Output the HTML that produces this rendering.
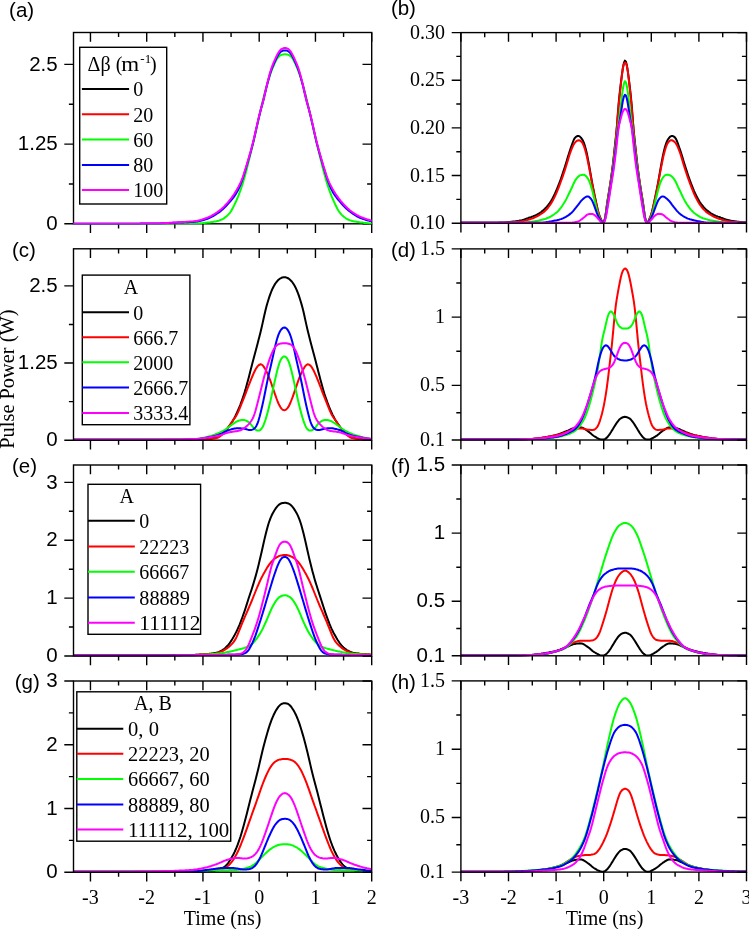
<!DOCTYPE html>
<html><head><meta charset="utf-8"><style>
html,body{margin:0;padding:0;background:#fff;width:749px;height:929px;overflow:hidden}
svg{display:block;will-change:transform}
</style></head><body>
<svg width="749" height="929" viewBox="0 0 749 929">
<rect width="749" height="929" fill="#fff"/>
<clipPath id="cpb"><rect x="460.90" y="31.60" width="285.60" height="192.20"/></clipPath>
<g clip-path="url(#cpb)" fill="none" stroke-width="2.0" stroke-linejoin="round">
<path d="M459.9 222.8 460.9 222.8 461.9 222.8 462.9 222.8 463.9 222.8 464.9 222.8 465.9 222.8 466.9 222.8 467.9 222.8 468.9 222.8 469.9 222.8 470.9 222.8 471.9 222.8 472.9 222.8 473.9 222.8 474.9 222.8 475.9 222.8 476.9 222.8 477.9 222.8 478.9 222.8 479.9 222.8 480.9 222.8 481.9 222.8 482.9 222.8 483.9 222.8 484.9 222.8 485.9 222.8 486.9 222.8 487.9 222.8 488.9 222.8 489.9 222.8 490.9 222.8 491.9 222.8 492.9 222.8 493.9 222.8 494.9 222.7 495.9 222.7 496.9 222.7 497.9 222.7 498.9 222.6 499.9 222.6 500.9 222.6 501.9 222.5 502.9 222.5 503.9 222.4 504.9 222.4 505.9 222.3 506.9 222.2 507.9 222.1 508.9 222.0 509.9 221.9 510.9 221.8 511.9 221.7 512.9 221.6 513.9 221.5 514.9 221.4 515.9 221.2 516.9 221.1 517.9 220.9 518.9 220.8 519.9 220.6 520.9 220.4 521.9 220.2 522.9 219.9 523.9 219.6 524.9 219.3 525.9 218.9 526.9 218.5 527.9 218.2 528.9 217.8 529.9 217.4 530.9 217.1 531.9 216.7 532.9 216.4 533.9 216.0 534.9 215.6 535.9 215.2 536.9 214.7 537.9 214.1 538.9 213.5 539.9 212.9 540.9 212.2 541.9 211.4 542.9 210.6 543.9 209.7 544.9 208.8 545.9 207.8 546.9 206.7 547.9 205.5 548.9 204.2 549.9 202.9 550.9 201.3 551.9 199.6 552.9 197.7 553.9 195.7 554.9 193.7 555.9 191.5 556.9 189.2 557.9 186.7 558.9 184.2 559.9 181.5 560.9 178.8 561.9 175.9 562.9 172.9 563.9 169.8 564.9 166.7 565.9 163.5 566.9 160.3 567.9 156.9 568.9 153.7 569.9 150.5 570.9 147.6 571.9 144.8 572.9 142.0 573.9 139.5 574.9 137.9 575.9 136.9 576.9 136.3 577.9 135.9 578.9 136.0 579.9 136.6 580.9 137.6 581.9 138.9 582.9 140.6 583.9 142.9 584.9 145.9 585.9 149.5 586.9 153.8 587.9 158.9 588.9 164.3 589.9 169.9 590.9 175.7 591.9 181.4 592.9 186.7 593.9 191.8 594.9 196.6 595.9 201.3 596.9 206.0 597.9 210.4 598.9 214.1 599.9 217.0 600.9 219.3 601.9 221.4 602.9 222.7 603.9 222.0 604.9 218.8 605.9 212.5 606.9 204.9 607.9 198.3 608.9 192.2 609.9 186.0 610.9 179.3 611.9 172.2 612.9 164.3 613.9 155.5 614.9 146.2 615.9 137.0 616.9 126.3 617.9 112.5 618.9 100.5 619.9 91.2 620.9 82.7 621.9 74.8 622.9 67.8 623.9 62.9 624.9 60.6 625.9 61.6 626.9 65.5 627.9 71.9 628.9 79.5 629.9 87.7 630.9 96.6 631.9 107.3 632.9 121.0 633.9 133.1 634.9 142.5 635.9 151.7 636.9 160.9 637.9 169.2 638.9 176.6 639.9 183.4 640.9 189.8 641.9 195.9 642.9 202.1 643.9 209.4 644.9 216.6 645.9 221.0 646.9 222.7 647.9 222.1 648.9 220.2 649.9 218.0 650.9 215.4 651.9 212.0 652.9 207.8 653.9 203.2 654.9 198.4 655.9 193.7 656.9 188.8 657.9 183.6 658.9 178.0 659.9 172.2 660.9 166.5 661.9 161.0 662.9 155.8 663.9 151.2 664.9 147.3 665.9 144.0 666.9 141.4 667.9 139.5 668.9 138.1 669.9 136.9 670.9 136.2 671.9 135.9 672.9 136.1 673.9 136.6 674.9 137.4 675.9 138.8 676.9 140.9 677.9 143.6 678.9 146.5 679.9 149.3 680.9 152.4 681.9 155.6 682.9 158.9 683.9 162.2 684.9 165.4 685.9 168.5 686.9 171.6 687.9 174.7 688.9 177.6 689.9 180.4 690.9 183.1 691.9 185.7 692.9 188.2 693.9 190.6 694.9 192.8 695.9 194.9 696.9 196.9 697.9 198.8 698.9 200.6 699.9 202.3 700.9 203.7 701.9 205.0 702.9 206.2 703.9 207.4 704.9 208.4 705.9 209.4 706.9 210.3 707.9 211.1 708.9 211.9 709.9 212.6 710.9 213.3 711.9 213.9 712.9 214.5 713.9 215.0 714.9 215.4 715.9 215.9 716.9 216.2 717.9 216.6 718.9 216.9 719.9 217.3 720.9 217.7 721.9 218.0 722.9 218.4 723.9 218.8 724.9 219.1 725.9 219.5 726.9 219.8 727.9 220.1 728.9 220.3 729.9 220.5 730.9 220.7 731.9 220.9 732.9 221.0 733.9 221.2 734.9 221.3 735.9 221.4 736.9 221.6 737.9 221.7 738.9 221.8 739.9 221.9 740.9 222.0 741.9 222.1 742.9 222.2 743.9 222.3 744.9 222.3 745.9 222.4 746.9 222.5" stroke="#000000"/>
<path d="M459.9 222.8 460.9 222.8 461.9 222.8 462.9 222.8 463.9 222.8 464.9 222.8 465.9 222.8 466.9 222.8 467.9 222.8 468.9 222.8 469.9 222.8 470.9 222.8 471.9 222.8 472.9 222.8 473.9 222.8 474.9 222.8 475.9 222.8 476.9 222.8 477.9 222.8 478.9 222.8 479.9 222.8 480.9 222.8 481.9 222.8 482.9 222.8 483.9 222.8 484.9 222.8 485.9 222.8 486.9 222.8 487.9 222.8 488.9 222.8 489.9 222.8 490.9 222.8 491.9 222.8 492.9 222.8 493.9 222.8 494.9 222.8 495.9 222.8 496.9 222.8 497.9 222.8 498.9 222.8 499.9 222.8 500.9 222.8 501.9 222.8 502.9 222.7 503.9 222.7 504.9 222.6 505.9 222.6 506.9 222.6 507.9 222.5 508.9 222.4 509.9 222.4 510.9 222.3 511.9 222.2 512.9 222.2 513.9 222.1 514.9 222.0 515.9 221.9 516.9 221.8 517.9 221.7 518.9 221.6 519.9 221.5 520.9 221.4 521.9 221.2 522.9 221.1 523.9 220.9 524.9 220.6 525.9 220.4 526.9 220.1 527.9 219.8 528.9 219.5 529.9 219.2 530.9 218.9 531.9 218.6 532.9 218.2 533.9 217.8 534.9 217.3 535.9 216.9 536.9 216.4 537.9 215.8 538.9 215.3 539.9 214.7 540.9 214.0 541.9 213.4 542.9 212.7 543.9 211.9 544.9 211.0 545.9 210.0 546.9 209.0 547.9 207.8 548.9 206.5 549.9 205.2 550.9 203.7 551.9 202.0 552.9 200.3 553.9 198.4 554.9 196.4 555.9 194.2 556.9 191.9 557.9 189.4 558.9 186.8 559.9 184.2 560.9 181.5 561.9 178.7 562.9 175.9 563.9 172.9 564.9 169.9 565.9 166.8 566.9 163.5 567.9 160.1 568.9 156.7 569.9 153.6 570.9 150.8 571.9 148.4 572.9 146.0 573.9 144.1 574.9 142.6 575.9 141.6 576.9 140.9 577.9 140.4 578.9 140.2 579.9 140.4 580.9 141.2 581.9 142.3 582.9 143.8 583.9 146.0 584.9 149.1 585.9 152.7 586.9 156.8 587.9 161.5 588.9 166.6 589.9 171.8 590.9 177.2 591.9 182.6 592.9 187.8 593.9 192.9 594.9 197.7 595.9 202.3 596.9 206.7 597.9 210.7 598.9 214.2 599.9 217.0 600.9 219.3 601.9 221.4 602.9 222.7 603.9 222.0 604.9 218.9 605.9 212.7 606.9 205.3 607.9 198.8 608.9 192.8 609.9 186.5 610.9 179.8 611.9 172.7 612.9 164.8 613.9 156.0 614.9 146.6 615.9 137.1 616.9 126.7 617.9 114.6 618.9 103.2 619.9 93.4 620.9 84.0 621.9 75.2 622.9 68.0 623.9 64.0 624.9 62.6 625.9 63.2 626.9 66.0 627.9 72.0 628.9 80.4 629.9 89.7 630.9 99.2 631.9 109.8 632.9 122.0 633.9 133.1 634.9 142.8 635.9 152.2 636.9 161.4 637.9 169.7 638.9 177.1 639.9 183.9 640.9 190.3 641.9 196.4 642.9 202.6 643.9 209.7 644.9 216.8 645.9 221.0 646.9 222.7 647.9 222.1 648.9 220.2 649.9 218.0 650.9 215.4 651.9 212.2 652.9 208.3 653.9 204.0 654.9 199.5 655.9 194.8 656.9 189.9 657.9 184.7 658.9 179.4 659.9 173.9 660.9 168.6 661.9 163.5 662.9 158.6 663.9 154.3 664.9 150.5 665.9 147.2 666.9 144.6 667.9 142.8 668.9 141.6 669.9 140.7 670.9 140.2 671.9 140.3 672.9 140.7 673.9 141.3 674.9 142.2 675.9 143.4 676.9 145.2 677.9 147.4 678.9 149.8 679.9 152.5 680.9 155.4 681.9 158.7 682.9 162.1 683.9 165.5 684.9 168.7 685.9 171.7 686.9 174.7 687.9 177.6 688.9 180.4 689.9 183.2 690.9 185.8 691.9 188.4 692.9 190.9 693.9 193.3 694.9 195.5 695.9 197.6 696.9 199.5 697.9 201.4 698.9 203.1 699.9 204.6 700.9 206.0 701.9 207.3 702.9 208.5 703.9 209.6 704.9 210.6 705.9 211.6 706.9 212.4 707.9 213.1 708.9 213.8 709.9 214.4 710.9 215.0 711.9 215.6 712.9 216.1 713.9 216.7 714.9 217.1 715.9 217.6 716.9 218.0 717.9 218.4 718.9 218.8 719.9 219.1 720.9 219.4 721.9 219.7 722.9 220.0 723.9 220.3 724.9 220.5 725.9 220.8 726.9 221.0 727.9 221.2 728.9 221.3 729.9 221.5 730.9 221.6 731.9 221.7 732.9 221.8 733.9 221.9 734.9 222.0 735.9 222.0 736.9 222.1 737.9 222.2 738.9 222.3 739.9 222.4 740.9 222.4 741.9 222.5 742.9 222.5 743.9 222.6 744.9 222.6 745.9 222.7 746.9 222.7" stroke="#ff0000"/>
<path d="M459.9 222.8 460.9 222.8 461.9 222.8 462.9 222.8 463.9 222.8 464.9 222.8 465.9 222.8 466.9 222.8 467.9 222.8 468.9 222.8 469.9 222.8 470.9 222.8 471.9 222.8 472.9 222.8 473.9 222.8 474.9 222.8 475.9 222.8 476.9 222.8 477.9 222.8 478.9 222.8 479.9 222.8 480.9 222.8 481.9 222.8 482.9 222.8 483.9 222.8 484.9 222.8 485.9 222.8 486.9 222.8 487.9 222.8 488.9 222.8 489.9 222.8 490.9 222.8 491.9 222.8 492.9 222.8 493.9 222.8 494.9 222.8 495.9 222.8 496.9 222.8 497.9 222.8 498.9 222.8 499.9 222.8 500.9 222.8 501.9 222.8 502.9 222.8 503.9 222.8 504.9 222.8 505.9 222.8 506.9 222.8 507.9 222.8 508.9 222.8 509.9 222.8 510.9 222.8 511.9 222.8 512.9 222.8 513.9 222.8 514.9 222.8 515.9 222.8 516.9 222.8 517.9 222.8 518.9 222.8 519.9 222.8 520.9 222.8 521.9 222.7 522.9 222.7 523.9 222.6 524.9 222.5 525.9 222.4 526.9 222.3 527.9 222.2 528.9 222.0 529.9 221.9 530.9 221.8 531.9 221.7 532.9 221.5 533.9 221.4 534.9 221.2 535.9 221.0 536.9 220.9 537.9 220.7 538.9 220.5 539.9 220.2 540.9 220.0 541.9 219.8 542.9 219.5 543.9 219.2 544.9 219.0 545.9 218.7 546.9 218.3 547.9 217.9 548.9 217.5 549.9 217.0 550.9 216.4 551.9 215.8 552.9 215.2 553.9 214.5 554.9 213.8 555.9 213.0 556.9 212.2 557.9 211.3 558.9 210.2 559.9 209.0 560.9 207.7 561.9 206.3 562.9 204.8 563.9 203.3 564.9 201.6 565.9 199.9 566.9 197.9 567.9 195.9 568.9 193.8 569.9 191.7 570.9 189.6 571.9 187.5 572.9 185.2 573.9 183.0 574.9 181.0 575.9 179.4 576.9 178.1 577.9 177.0 578.9 176.1 579.9 175.4 580.9 175.1 581.9 174.9 582.9 174.8 583.9 174.8 584.9 175.2 585.9 176.0 586.9 177.2 587.9 178.6 588.9 180.4 589.9 182.9 590.9 185.9 591.9 189.2 592.9 193.1 593.9 197.3 594.9 201.6 595.9 205.9 596.9 210.0 597.9 213.5 598.9 216.3 599.9 218.8 600.9 220.8 601.9 222.2 602.9 222.8 603.9 222.1 604.9 219.5 605.9 214.5 606.9 207.9 607.9 201.4 608.9 195.3 609.9 189.1 610.9 182.6 611.9 175.9 612.9 168.8 613.9 161.0 614.9 152.5 615.9 143.8 616.9 134.9 617.9 126.8 618.9 119.8 619.9 113.0 620.9 104.8 621.9 96.0 622.9 88.7 623.9 83.7 624.9 81.2 625.9 82.3 626.9 86.4 627.9 92.8 628.9 101.2 629.9 109.9 630.9 117.2 631.9 123.9 632.9 131.5 633.9 140.2 634.9 149.1 635.9 157.7 636.9 165.7 637.9 173.1 638.9 180.0 639.9 186.5 640.9 192.9 641.9 199.0 642.9 205.2 643.9 211.9 644.9 217.8 645.9 221.3 646.9 222.8 647.9 222.6 648.9 221.4 649.9 219.7 650.9 217.4 651.9 214.7 652.9 211.5 653.9 207.6 654.9 203.3 655.9 199.0 656.9 194.8 657.9 190.7 658.9 187.2 659.9 184.0 660.9 181.3 661.9 179.2 662.9 177.7 663.9 176.4 664.9 175.4 665.9 174.9 666.9 174.7 667.9 174.8 668.9 175.0 669.9 175.2 670.9 175.8 671.9 176.6 672.9 177.7 673.9 178.9 674.9 180.3 675.9 182.2 676.9 184.3 677.9 186.6 678.9 188.7 679.9 190.8 680.9 192.9 681.9 195.0 682.9 197.1 683.9 199.1 684.9 201.0 685.9 202.6 686.9 204.2 687.9 205.7 688.9 207.1 689.9 208.5 690.9 209.7 691.9 210.8 692.9 211.8 693.9 212.7 694.9 213.5 695.9 214.2 696.9 214.9 697.9 215.6 698.9 216.2 699.9 216.8 700.9 217.3 701.9 217.8 702.9 218.2 703.9 218.5 704.9 218.8 705.9 219.1 706.9 219.4 707.9 219.7 708.9 219.9 709.9 220.2 710.9 220.4 711.9 220.6 712.9 220.8 713.9 221.0 714.9 221.1 715.9 221.3 716.9 221.5 717.9 221.6 718.9 221.7 719.9 221.9 720.9 222.0 721.9 222.1 722.9 222.2 723.9 222.3 724.9 222.4 725.9 222.5 726.9 222.6 727.9 222.7 728.9 222.8 729.9 222.8 730.9 222.8 731.9 222.8 732.9 222.8 733.9 222.8 734.9 222.8 735.9 222.8 736.9 222.8 737.9 222.8 738.9 222.8 739.9 222.8 740.9 222.8 741.9 222.8 742.9 222.8 743.9 222.8 744.9 222.8 745.9 222.8 746.9 222.8" stroke="#00ff00"/>
<path d="M459.9 222.8 460.9 222.8 461.9 222.8 462.9 222.8 463.9 222.8 464.9 222.8 465.9 222.8 466.9 222.8 467.9 222.8 468.9 222.8 469.9 222.8 470.9 222.8 471.9 222.8 472.9 222.8 473.9 222.8 474.9 222.8 475.9 222.8 476.9 222.8 477.9 222.8 478.9 222.8 479.9 222.8 480.9 222.8 481.9 222.8 482.9 222.8 483.9 222.8 484.9 222.8 485.9 222.8 486.9 222.8 487.9 222.8 488.9 222.8 489.9 222.8 490.9 222.8 491.9 222.8 492.9 222.8 493.9 222.8 494.9 222.8 495.9 222.8 496.9 222.8 497.9 222.8 498.9 222.8 499.9 222.8 500.9 222.8 501.9 222.8 502.9 222.8 503.9 222.8 504.9 222.8 505.9 222.8 506.9 222.8 507.9 222.8 508.9 222.8 509.9 222.8 510.9 222.8 511.9 222.8 512.9 222.8 513.9 222.8 514.9 222.8 515.9 222.8 516.9 222.8 517.9 222.8 518.9 222.8 519.9 222.8 520.9 222.8 521.9 222.8 522.9 222.8 523.9 222.8 524.9 222.8 525.9 222.8 526.9 222.8 527.9 222.8 528.9 222.8 529.9 222.8 530.9 222.8 531.9 222.8 532.9 222.8 533.9 222.8 534.9 222.8 535.9 222.8 536.9 222.8 537.9 222.8 538.9 222.8 539.9 222.8 540.9 222.8 541.9 222.8 542.9 222.7 543.9 222.6 544.9 222.5 545.9 222.3 546.9 222.1 547.9 222.0 548.9 221.8 549.9 221.6 550.9 221.4 551.9 221.2 552.9 221.0 553.9 220.8 554.9 220.6 555.9 220.4 556.9 220.2 557.9 219.9 558.9 219.7 559.9 219.4 560.9 219.1 561.9 218.7 562.9 218.4 563.9 217.9 564.9 217.4 565.9 216.9 566.9 216.2 567.9 215.6 568.9 214.9 569.9 214.1 570.9 213.3 571.9 212.4 572.9 211.3 573.9 210.1 574.9 208.8 575.9 207.6 576.9 206.3 577.9 205.1 578.9 203.8 579.9 202.5 580.9 201.2 581.9 200.1 582.9 199.1 583.9 198.3 584.9 197.5 585.9 196.9 586.9 196.5 587.9 196.4 588.9 196.8 589.9 197.7 590.9 198.7 591.9 200.2 592.9 202.4 593.9 204.9 594.9 207.6 595.9 210.4 596.9 213.1 597.9 215.5 598.9 217.6 599.9 219.4 600.9 221.0 601.9 222.2 602.9 222.8 603.9 222.2 604.9 219.9 605.9 215.7 606.9 209.6 607.9 203.3 608.9 197.2 609.9 191.0 610.9 184.7 611.9 178.2 612.9 171.5 613.9 164.2 614.9 156.0 615.9 147.3 616.9 138.2 617.9 130.3 618.9 124.7 619.9 119.7 620.9 113.6 621.9 106.6 622.9 100.6 623.9 96.6 624.9 94.7 625.9 95.6 626.9 98.7 627.9 104.0 628.9 110.8 629.9 117.4 630.9 122.8 631.9 127.8 632.9 134.8 633.9 143.7 634.9 152.6 635.9 161.0 636.9 168.7 637.9 175.6 638.9 182.1 639.9 188.5 640.9 194.7 641.9 200.9 642.9 207.1 643.9 213.4 644.9 218.5 645.9 221.5 646.9 222.8 647.9 222.6 648.9 221.5 649.9 220.1 650.9 218.4 651.9 216.4 652.9 214.2 653.9 211.5 654.9 208.7 655.9 206.0 656.9 203.4 657.9 201.0 658.9 199.3 659.9 198.1 660.9 197.1 661.9 196.5 662.9 196.4 663.9 196.7 664.9 197.2 665.9 198.0 666.9 198.8 667.9 199.7 668.9 200.7 669.9 201.9 670.9 203.2 671.9 204.6 672.9 205.8 673.9 207.1 674.9 208.3 675.9 209.6 676.9 210.8 677.9 211.9 678.9 212.9 679.9 213.8 680.9 214.6 681.9 215.3 682.9 216.0 683.9 216.6 684.9 217.2 685.9 217.7 686.9 218.2 687.9 218.6 688.9 218.9 689.9 219.3 690.9 219.6 691.9 219.8 692.9 220.1 693.9 220.3 694.9 220.6 695.9 220.8 696.9 221.0 697.9 221.2 698.9 221.3 699.9 221.5 700.9 221.7 701.9 221.9 702.9 222.1 703.9 222.3 704.9 222.4 705.9 222.6 706.9 222.7 707.9 222.8 708.9 222.8 709.9 222.8 710.9 222.8 711.9 222.8 712.9 222.8 713.9 222.8 714.9 222.8 715.9 222.8 716.9 222.8 717.9 222.8 718.9 222.8 719.9 222.8 720.9 222.8 721.9 222.8 722.9 222.8 723.9 222.8 724.9 222.8 725.9 222.8 726.9 222.8 727.9 222.8 728.9 222.8 729.9 222.8 730.9 222.8 731.9 222.8 732.9 222.8 733.9 222.8 734.9 222.8 735.9 222.8 736.9 222.8 737.9 222.8 738.9 222.8 739.9 222.8 740.9 222.8 741.9 222.8 742.9 222.8 743.9 222.8 744.9 222.8 745.9 222.8 746.9 222.8" stroke="#0000ff"/>
<path d="M459.9 222.8 460.9 222.8 461.9 222.8 462.9 222.8 463.9 222.8 464.9 222.8 465.9 222.8 466.9 222.8 467.9 222.8 468.9 222.8 469.9 222.8 470.9 222.8 471.9 222.8 472.9 222.8 473.9 222.8 474.9 222.8 475.9 222.8 476.9 222.8 477.9 222.8 478.9 222.8 479.9 222.8 480.9 222.8 481.9 222.8 482.9 222.8 483.9 222.8 484.9 222.8 485.9 222.8 486.9 222.8 487.9 222.8 488.9 222.8 489.9 222.8 490.9 222.8 491.9 222.8 492.9 222.8 493.9 222.8 494.9 222.8 495.9 222.8 496.9 222.8 497.9 222.8 498.9 222.8 499.9 222.8 500.9 222.8 501.9 222.8 502.9 222.8 503.9 222.8 504.9 222.8 505.9 222.8 506.9 222.8 507.9 222.8 508.9 222.8 509.9 222.8 510.9 222.8 511.9 222.8 512.9 222.8 513.9 222.8 514.9 222.8 515.9 222.8 516.9 222.8 517.9 222.8 518.9 222.8 519.9 222.8 520.9 222.8 521.9 222.8 522.9 222.8 523.9 222.8 524.9 222.8 525.9 222.8 526.9 222.8 527.9 222.8 528.9 222.8 529.9 222.8 530.9 222.8 531.9 222.8 532.9 222.8 533.9 222.8 534.9 222.8 535.9 222.8 536.9 222.8 537.9 222.8 538.9 222.8 539.9 222.8 540.9 222.8 541.9 222.8 542.9 222.8 543.9 222.8 544.9 222.8 545.9 222.8 546.9 222.8 547.9 222.8 548.9 222.8 549.9 222.8 550.9 222.8 551.9 222.8 552.9 222.8 553.9 222.8 554.9 222.8 555.9 222.8 556.9 222.8 557.9 222.8 558.9 222.8 559.9 222.8 560.9 222.8 561.9 222.8 562.9 222.8 563.9 222.8 564.9 222.8 565.9 222.8 566.9 222.8 567.9 222.8 568.9 222.8 569.9 222.8 570.9 222.8 571.9 222.8 572.9 222.6 573.9 222.4 574.9 222.2 575.9 222.0 576.9 221.8 577.9 221.5 578.9 221.1 579.9 220.5 580.9 219.8 581.9 219.1 582.9 218.3 583.9 217.5 584.9 216.7 585.9 215.7 586.9 214.9 587.9 214.4 588.9 214.1 589.9 214.0 590.9 213.9 591.9 213.9 592.9 214.1 593.9 214.6 594.9 215.4 595.9 216.2 596.9 217.3 597.9 218.5 598.9 219.7 599.9 220.8 600.9 221.8 601.9 222.6 602.9 222.8 603.9 222.4 604.9 220.5 605.9 217.1 606.9 211.8 607.9 205.7 608.9 199.5 609.9 193.1 610.9 186.6 611.9 180.5 612.9 174.4 613.9 167.8 614.9 160.2 615.9 151.7 616.9 142.5 617.9 133.1 618.9 125.8 619.9 121.5 620.9 118.0 621.9 114.2 622.9 111.4 623.9 109.7 624.9 108.9 625.9 109.2 626.9 110.6 627.9 112.9 628.9 116.5 629.9 120.2 630.9 123.8 631.9 129.7 632.9 138.7 633.9 148.1 634.9 156.9 635.9 164.9 636.9 171.8 637.9 178.0 638.9 184.1 639.9 190.5 640.9 197.0 641.9 203.3 642.9 209.4 643.9 215.1 644.9 219.3 645.9 221.7 646.9 222.8 647.9 222.8 648.9 222.2 649.9 221.2 650.9 220.1 651.9 219.0 652.9 217.8 653.9 216.6 654.9 215.7 655.9 214.9 656.9 214.3 657.9 213.9 658.9 213.8 659.9 213.9 660.9 214.1 661.9 214.3 662.9 214.7 663.9 215.4 664.9 216.3 665.9 217.2 666.9 218.0 667.9 218.8 668.9 219.5 669.9 220.3 670.9 220.9 671.9 221.3 672.9 221.6 673.9 221.9 674.9 222.2 675.9 222.4 676.9 222.6 677.9 222.8 678.9 222.8 679.9 222.8 680.9 222.8 681.9 222.8 682.9 222.8 683.9 222.8 684.9 222.8 685.9 222.8 686.9 222.8 687.9 222.8 688.9 222.8 689.9 222.8 690.9 222.8 691.9 222.8 692.9 222.8 693.9 222.8 694.9 222.8 695.9 222.8 696.9 222.8 697.9 222.8 698.9 222.8 699.9 222.8 700.9 222.8 701.9 222.8 702.9 222.8 703.9 222.8 704.9 222.8 705.9 222.8 706.9 222.8 707.9 222.8 708.9 222.8 709.9 222.8 710.9 222.8 711.9 222.8 712.9 222.8 713.9 222.8 714.9 222.8 715.9 222.8 716.9 222.8 717.9 222.8 718.9 222.8 719.9 222.8 720.9 222.8 721.9 222.8 722.9 222.8 723.9 222.8 724.9 222.8 725.9 222.8 726.9 222.8 727.9 222.8 728.9 222.8 729.9 222.8 730.9 222.8 731.9 222.8 732.9 222.8 733.9 222.8 734.9 222.8 735.9 222.8 736.9 222.8 737.9 222.8 738.9 222.8 739.9 222.8 740.9 222.8 741.9 222.8 742.9 222.8 743.9 222.8 744.9 222.8 745.9 222.8 746.9 222.8" stroke="#ff00ff"/>
</g>
<clipPath id="cpc"><rect x="73.50" y="247.80" width="298.20" height="193.00"/></clipPath>
<g clip-path="url(#cpc)" fill="none" stroke-width="2.0" stroke-linejoin="round">
<path d="M72.5 439.8 73.5 439.8 74.5 439.8 75.5 439.8 76.5 439.8 77.5 439.8 78.5 439.8 79.5 439.8 80.5 439.8 81.5 439.8 82.5 439.8 83.5 439.8 84.5 439.8 85.5 439.8 86.5 439.8 87.5 439.8 88.5 439.8 89.5 439.8 90.5 439.8 91.5 439.8 92.5 439.8 93.5 439.8 94.5 439.8 95.5 439.8 96.5 439.8 97.5 439.8 98.5 439.8 99.5 439.8 100.5 439.8 101.5 439.8 102.5 439.8 103.5 439.8 104.5 439.8 105.5 439.8 106.5 439.8 107.5 439.8 108.5 439.8 109.5 439.8 110.5 439.8 111.5 439.8 112.5 439.8 113.5 439.8 114.5 439.8 115.5 439.8 116.5 439.8 117.5 439.8 118.5 439.8 119.5 439.8 120.5 439.8 121.5 439.8 122.5 439.8 123.5 439.8 124.5 439.8 125.5 439.8 126.5 439.8 127.5 439.8 128.5 439.8 129.5 439.8 130.5 439.8 131.5 439.8 132.5 439.8 133.5 439.8 134.5 439.8 135.5 439.8 136.5 439.8 137.5 439.8 138.5 439.8 139.5 439.8 140.5 439.8 141.5 439.8 142.5 439.8 143.5 439.8 144.5 439.8 145.5 439.8 146.5 439.8 147.5 439.8 148.5 439.8 149.5 439.8 150.5 439.8 151.5 439.8 152.5 439.8 153.5 439.8 154.5 439.8 155.5 439.8 156.5 439.8 157.5 439.8 158.5 439.8 159.5 439.8 160.5 439.8 161.5 439.8 162.5 439.8 163.5 439.8 164.5 439.8 165.5 439.8 166.5 439.8 167.5 439.8 168.5 439.8 169.5 439.8 170.5 439.8 171.5 439.8 172.5 439.8 173.5 439.8 174.5 439.8 175.5 439.8 176.5 439.8 177.5 439.8 178.5 439.8 179.5 439.8 180.5 439.8 181.5 439.8 182.5 439.8 183.5 439.8 184.5 439.8 185.5 439.8 186.5 439.8 187.5 439.8 188.5 439.8 189.5 439.8 190.5 439.8 191.5 439.8 192.5 439.8 193.5 439.7 194.5 439.7 195.5 439.7 196.5 439.7 197.5 439.6 198.5 439.6 199.5 439.5 200.5 439.5 201.5 439.4 202.5 439.4 203.5 439.3 204.5 439.2 205.5 439.2 206.5 439.1 207.5 439.0 208.5 438.9 209.5 438.8 210.5 438.7 211.5 438.6 212.5 438.4 213.5 438.1 214.5 437.9 215.5 437.6 216.5 437.2 217.5 436.9 218.5 436.4 219.5 435.9 220.5 435.3 221.5 434.6 222.5 433.8 223.5 432.8 224.5 431.8 225.5 430.7 226.5 429.5 227.5 428.3 228.5 427.0 229.5 425.7 230.5 424.3 231.5 422.8 232.5 421.2 233.5 419.5 234.5 417.7 235.5 415.8 236.5 413.7 237.5 411.5 238.5 409.2 239.5 406.8 240.5 404.3 241.5 401.6 242.5 398.8 243.5 395.8 244.5 392.7 245.5 389.4 246.5 385.8 247.5 382.1 248.5 378.4 249.5 374.5 250.5 370.6 251.5 366.7 252.5 362.8 253.5 359.0 254.5 355.2 255.5 351.4 256.5 347.7 257.5 343.9 258.5 340.1 259.5 336.2 260.5 332.2 261.5 328.0 262.5 323.6 263.5 319.0 264.5 314.5 265.5 310.2 266.5 306.2 267.5 302.7 268.5 299.5 269.5 296.4 270.5 293.6 271.5 291.0 272.5 288.7 273.5 286.7 274.5 284.9 275.5 283.3 276.5 282.0 277.5 280.8 278.5 279.8 279.5 279.0 280.5 278.3 281.5 277.8 282.5 277.4 283.5 277.2 284.5 277.2 285.5 277.3 286.5 277.6 287.5 278.0 288.5 278.5 289.5 279.3 290.5 280.2 291.5 281.2 292.5 282.5 293.5 283.9 294.5 285.6 295.5 287.4 296.5 289.6 297.5 292.0 298.5 294.7 299.5 297.6 300.5 300.7 301.5 304.1 302.5 307.8 303.5 311.8 304.5 316.3 305.5 320.9 306.5 325.4 307.5 329.7 308.5 333.8 309.5 337.8 310.5 341.7 311.5 345.5 312.5 349.2 313.5 352.9 314.5 356.7 315.5 360.5 316.5 364.4 317.5 368.3 318.5 372.2 319.5 376.1 320.5 379.9 321.5 383.6 322.5 387.3 323.5 390.7 324.5 394.0 325.5 397.0 326.5 399.9 327.5 402.7 328.5 405.3 329.5 407.8 330.5 410.2 331.5 412.4 332.5 414.6 333.5 416.5 334.5 418.4 335.5 420.2 336.5 421.8 337.5 423.4 338.5 424.8 339.5 426.2 340.5 427.5 341.5 428.8 342.5 430.0 343.5 431.1 344.5 432.2 345.5 433.2 346.5 434.1 347.5 434.9 348.5 435.6 349.5 436.1 350.5 436.6 351.5 437.0 352.5 437.4 353.5 437.7 354.5 438.0 355.5 438.2 356.5 438.5 357.5 438.6 358.5 438.8 359.5 438.9 360.5 439.0 361.5 439.0 362.5 439.1 363.5 439.2 364.5 439.3 365.5 439.3 366.5 439.4 367.5 439.5 368.5 439.5 369.5 439.6 370.5 439.6 371.5 439.6 372.5 439.7" stroke="#000000"/>
<path d="M72.5 439.8 73.5 439.8 74.5 439.8 75.5 439.8 76.5 439.8 77.5 439.8 78.5 439.8 79.5 439.8 80.5 439.8 81.5 439.8 82.5 439.8 83.5 439.8 84.5 439.8 85.5 439.8 86.5 439.8 87.5 439.8 88.5 439.8 89.5 439.8 90.5 439.8 91.5 439.8 92.5 439.8 93.5 439.8 94.5 439.8 95.5 439.8 96.5 439.8 97.5 439.8 98.5 439.8 99.5 439.8 100.5 439.8 101.5 439.8 102.5 439.8 103.5 439.8 104.5 439.8 105.5 439.8 106.5 439.8 107.5 439.8 108.5 439.8 109.5 439.8 110.5 439.8 111.5 439.8 112.5 439.8 113.5 439.8 114.5 439.8 115.5 439.8 116.5 439.8 117.5 439.8 118.5 439.8 119.5 439.8 120.5 439.8 121.5 439.8 122.5 439.8 123.5 439.8 124.5 439.8 125.5 439.8 126.5 439.8 127.5 439.8 128.5 439.8 129.5 439.8 130.5 439.8 131.5 439.8 132.5 439.8 133.5 439.8 134.5 439.8 135.5 439.8 136.5 439.8 137.5 439.8 138.5 439.8 139.5 439.8 140.5 439.8 141.5 439.8 142.5 439.8 143.5 439.8 144.5 439.8 145.5 439.8 146.5 439.8 147.5 439.8 148.5 439.8 149.5 439.8 150.5 439.8 151.5 439.8 152.5 439.8 153.5 439.8 154.5 439.8 155.5 439.8 156.5 439.8 157.5 439.8 158.5 439.8 159.5 439.8 160.5 439.8 161.5 439.8 162.5 439.8 163.5 439.8 164.5 439.8 165.5 439.8 166.5 439.8 167.5 439.8 168.5 439.8 169.5 439.8 170.5 439.8 171.5 439.8 172.5 439.8 173.5 439.8 174.5 439.8 175.5 439.8 176.5 439.8 177.5 439.8 178.5 439.8 179.5 439.8 180.5 439.8 181.5 439.8 182.5 439.8 183.5 439.8 184.5 439.8 185.5 439.8 186.5 439.8 187.5 439.8 188.5 439.8 189.5 439.8 190.5 439.8 191.5 439.8 192.5 439.8 193.5 439.7 194.5 439.7 195.5 439.7 196.5 439.7 197.5 439.6 198.5 439.6 199.5 439.6 200.5 439.5 201.5 439.5 202.5 439.4 203.5 439.4 204.5 439.3 205.5 439.2 206.5 439.2 207.5 439.1 208.5 439.0 209.5 438.9 210.5 438.8 211.5 438.7 212.5 438.6 213.5 438.5 214.5 438.4 215.5 438.2 216.5 438.0 217.5 437.7 218.5 437.3 219.5 436.7 220.5 436.0 221.5 435.2 222.5 434.2 223.5 433.1 224.5 432.0 225.5 430.8 226.5 429.5 227.5 428.3 228.5 426.9 229.5 425.6 230.5 424.1 231.5 422.6 232.5 421.1 233.5 419.7 234.5 418.4 235.5 416.9 236.5 415.3 237.5 413.4 238.5 411.2 239.5 408.8 240.5 406.3 241.5 403.9 242.5 401.4 243.5 398.9 244.5 396.4 245.5 393.8 246.5 391.2 247.5 388.5 248.5 385.9 249.5 383.3 250.5 380.8 251.5 378.3 252.5 376.0 253.5 373.7 254.5 371.5 255.5 369.5 256.5 367.8 257.5 366.4 258.5 365.4 259.5 364.6 260.5 364.3 261.5 364.5 262.5 365.2 263.5 366.4 264.5 367.9 265.5 369.6 266.5 371.5 267.5 373.6 268.5 375.9 269.5 378.5 270.5 381.2 271.5 384.0 272.5 387.0 273.5 389.9 274.5 392.9 275.5 395.7 276.5 398.5 277.5 401.1 278.5 403.5 279.5 405.6 280.5 407.3 281.5 408.6 282.5 409.6 283.5 410.1 284.5 410.2 285.5 409.9 286.5 409.2 287.5 408.1 288.5 406.7 289.5 404.8 290.5 402.5 291.5 400.0 292.5 397.4 293.5 394.6 294.5 391.7 295.5 388.7 296.5 385.8 297.5 382.9 298.5 380.1 299.5 377.4 300.5 375.0 301.5 372.8 302.5 370.7 303.5 368.9 304.5 367.2 305.5 365.9 306.5 364.8 307.5 364.3 308.5 364.4 309.5 364.9 310.5 365.7 311.5 366.9 312.5 368.5 313.5 370.3 314.5 372.4 315.5 374.6 316.5 376.9 317.5 379.3 318.5 381.8 319.5 384.3 320.5 387.0 321.5 389.6 322.5 392.3 323.5 394.9 324.5 397.4 325.5 399.9 326.5 402.4 327.5 404.8 328.5 407.3 329.5 409.8 330.5 412.1 331.5 414.2 332.5 416.0 333.5 417.5 334.5 418.9 335.5 420.3 336.5 421.7 337.5 423.2 338.5 424.7 339.5 426.1 340.5 427.5 341.5 428.8 342.5 430.0 343.5 431.2 344.5 432.4 345.5 433.5 346.5 434.6 347.5 435.5 348.5 436.3 349.5 437.0 350.5 437.5 351.5 437.9 352.5 438.1 353.5 438.3 354.5 438.4 355.5 438.5 356.5 438.6 357.5 438.7 358.5 438.8 359.5 438.9 360.5 439.0 361.5 439.1 362.5 439.2 363.5 439.3 364.5 439.3 365.5 439.4 366.5 439.4 367.5 439.5 368.5 439.5 369.5 439.6 370.5 439.6 371.5 439.7 372.5 439.7" stroke="#ff0000"/>
<path d="M72.5 439.8 73.5 439.8 74.5 439.8 75.5 439.8 76.5 439.8 77.5 439.8 78.5 439.8 79.5 439.8 80.5 439.8 81.5 439.8 82.5 439.8 83.5 439.8 84.5 439.8 85.5 439.8 86.5 439.8 87.5 439.8 88.5 439.8 89.5 439.8 90.5 439.8 91.5 439.8 92.5 439.8 93.5 439.8 94.5 439.8 95.5 439.8 96.5 439.8 97.5 439.8 98.5 439.8 99.5 439.8 100.5 439.8 101.5 439.8 102.5 439.8 103.5 439.8 104.5 439.8 105.5 439.8 106.5 439.8 107.5 439.8 108.5 439.8 109.5 439.8 110.5 439.8 111.5 439.8 112.5 439.8 113.5 439.8 114.5 439.8 115.5 439.8 116.5 439.8 117.5 439.8 118.5 439.8 119.5 439.8 120.5 439.8 121.5 439.8 122.5 439.8 123.5 439.8 124.5 439.8 125.5 439.8 126.5 439.8 127.5 439.8 128.5 439.8 129.5 439.8 130.5 439.8 131.5 439.8 132.5 439.8 133.5 439.8 134.5 439.8 135.5 439.8 136.5 439.8 137.5 439.8 138.5 439.8 139.5 439.8 140.5 439.8 141.5 439.8 142.5 439.8 143.5 439.8 144.5 439.8 145.5 439.8 146.5 439.8 147.5 439.8 148.5 439.8 149.5 439.8 150.5 439.8 151.5 439.8 152.5 439.8 153.5 439.8 154.5 439.8 155.5 439.8 156.5 439.8 157.5 439.8 158.5 439.8 159.5 439.8 160.5 439.8 161.5 439.8 162.5 439.8 163.5 439.8 164.5 439.8 165.5 439.8 166.5 439.8 167.5 439.8 168.5 439.8 169.5 439.8 170.5 439.8 171.5 439.8 172.5 439.8 173.5 439.8 174.5 439.8 175.5 439.8 176.5 439.8 177.5 439.8 178.5 439.8 179.5 439.8 180.5 439.8 181.5 439.8 182.5 439.8 183.5 439.8 184.5 439.8 185.5 439.8 186.5 439.8 187.5 439.8 188.5 439.8 189.5 439.8 190.5 439.8 191.5 439.7 192.5 439.7 193.5 439.6 194.5 439.5 195.5 439.4 196.5 439.2 197.5 439.0 198.5 438.9 199.5 438.7 200.5 438.5 201.5 438.2 202.5 438.0 203.5 437.8 204.5 437.5 205.5 437.3 206.5 437.0 207.5 436.7 208.5 436.5 209.5 436.2 210.5 436.0 211.5 435.7 212.5 435.4 213.5 435.0 214.5 434.7 215.5 434.3 216.5 433.9 217.5 433.5 218.5 433.1 219.5 432.7 220.5 432.2 221.5 431.7 222.5 431.2 223.5 430.7 224.5 430.1 225.5 429.5 226.5 428.8 227.5 428.0 228.5 427.2 229.5 426.5 230.5 425.7 231.5 425.0 232.5 424.3 233.5 423.6 234.5 422.9 235.5 422.2 236.5 421.6 237.5 421.2 238.5 420.8 239.5 420.4 240.5 420.2 241.5 420.0 242.5 419.9 243.5 419.9 244.5 420.1 245.5 420.4 246.5 420.8 247.5 421.4 248.5 422.1 249.5 423.0 250.5 424.0 251.5 425.2 252.5 426.5 253.5 427.7 254.5 428.8 255.5 429.6 256.5 430.2 257.5 430.5 258.5 430.6 259.5 430.4 260.5 429.8 261.5 428.8 262.5 427.3 263.5 425.2 264.5 422.7 265.5 419.7 266.5 416.4 267.5 412.9 268.5 409.1 269.5 405.0 270.5 400.6 271.5 396.1 272.5 391.5 273.5 386.8 274.5 382.3 275.5 377.9 276.5 373.6 277.5 369.5 278.5 365.9 279.5 362.7 280.5 360.3 281.5 358.5 282.5 357.3 283.5 356.6 284.5 356.5 285.5 356.8 286.5 357.7 287.5 359.1 288.5 361.2 289.5 363.9 290.5 367.3 291.5 371.1 292.5 375.3 293.5 379.6 294.5 384.1 295.5 388.7 296.5 393.3 297.5 398.0 298.5 402.4 299.5 406.6 300.5 410.6 301.5 414.3 302.5 417.8 303.5 420.9 304.5 423.7 305.5 426.1 306.5 428.0 307.5 429.3 308.5 430.1 309.5 430.6 310.5 430.6 311.5 430.4 312.5 430.0 313.5 429.3 314.5 428.4 315.5 427.3 316.5 426.0 317.5 424.7 318.5 423.5 319.5 422.6 320.5 421.8 321.5 421.2 322.5 420.7 323.5 420.2 324.5 420.0 325.5 419.9 326.5 419.9 327.5 420.0 328.5 420.3 329.5 420.5 330.5 420.9 331.5 421.3 332.5 421.9 333.5 422.5 334.5 423.1 335.5 423.8 336.5 424.5 337.5 425.3 338.5 426.0 339.5 426.8 340.5 427.6 341.5 428.3 342.5 429.0 343.5 429.7 344.5 430.3 345.5 430.9 346.5 431.4 347.5 431.9 348.5 432.4 349.5 432.9 350.5 433.3 351.5 433.7 352.5 434.1 353.5 434.5 354.5 434.8 355.5 435.2 356.5 435.5 357.5 435.8 358.5 436.1 359.5 436.3 360.5 436.6 361.5 436.9 362.5 437.1 363.5 437.4 364.5 437.6 365.5 437.9 366.5 438.1 367.5 438.3 368.5 438.5 369.5 438.7 370.5 438.9 371.5 439.1 372.5 439.3" stroke="#00ff00"/>
<path d="M72.5 439.8 73.5 439.8 74.5 439.8 75.5 439.8 76.5 439.8 77.5 439.8 78.5 439.8 79.5 439.8 80.5 439.8 81.5 439.8 82.5 439.8 83.5 439.8 84.5 439.8 85.5 439.8 86.5 439.8 87.5 439.8 88.5 439.8 89.5 439.8 90.5 439.8 91.5 439.8 92.5 439.8 93.5 439.8 94.5 439.8 95.5 439.8 96.5 439.8 97.5 439.8 98.5 439.8 99.5 439.8 100.5 439.8 101.5 439.8 102.5 439.8 103.5 439.8 104.5 439.8 105.5 439.8 106.5 439.8 107.5 439.8 108.5 439.8 109.5 439.8 110.5 439.8 111.5 439.8 112.5 439.8 113.5 439.8 114.5 439.8 115.5 439.8 116.5 439.8 117.5 439.8 118.5 439.8 119.5 439.8 120.5 439.8 121.5 439.8 122.5 439.8 123.5 439.8 124.5 439.8 125.5 439.8 126.5 439.8 127.5 439.8 128.5 439.8 129.5 439.8 130.5 439.8 131.5 439.8 132.5 439.8 133.5 439.8 134.5 439.8 135.5 439.8 136.5 439.8 137.5 439.8 138.5 439.8 139.5 439.8 140.5 439.8 141.5 439.8 142.5 439.8 143.5 439.8 144.5 439.8 145.5 439.8 146.5 439.8 147.5 439.8 148.5 439.8 149.5 439.8 150.5 439.8 151.5 439.8 152.5 439.8 153.5 439.8 154.5 439.8 155.5 439.8 156.5 439.8 157.5 439.8 158.5 439.8 159.5 439.8 160.5 439.8 161.5 439.8 162.5 439.8 163.5 439.8 164.5 439.8 165.5 439.8 166.5 439.8 167.5 439.8 168.5 439.8 169.5 439.8 170.5 439.8 171.5 439.8 172.5 439.8 173.5 439.8 174.5 439.8 175.5 439.8 176.5 439.8 177.5 439.7 178.5 439.7 179.5 439.7 180.5 439.7 181.5 439.7 182.5 439.7 183.5 439.7 184.5 439.7 185.5 439.7 186.5 439.6 187.5 439.6 188.5 439.6 189.5 439.6 190.5 439.6 191.5 439.6 192.5 439.5 193.5 439.5 194.5 439.4 195.5 439.3 196.5 439.2 197.5 439.1 198.5 439.0 199.5 438.9 200.5 438.7 201.5 438.6 202.5 438.4 203.5 438.3 204.5 438.1 205.5 437.9 206.5 437.7 207.5 437.5 208.5 437.3 209.5 437.1 210.5 436.9 211.5 436.7 212.5 436.5 213.5 436.2 214.5 436.0 215.5 435.8 216.5 435.5 217.5 435.2 218.5 434.9 219.5 434.5 220.5 434.0 221.5 433.6 222.5 433.1 223.5 432.6 224.5 432.0 225.5 431.5 226.5 431.1 227.5 430.6 228.5 430.2 229.5 429.9 230.5 429.6 231.5 429.3 232.5 429.0 233.5 428.8 234.5 428.6 235.5 428.4 236.5 428.3 237.5 428.2 238.5 428.2 239.5 428.2 240.5 428.3 241.5 428.4 242.5 428.5 243.5 428.6 244.5 428.8 245.5 429.1 246.5 429.3 247.5 429.6 248.5 429.9 249.5 430.0 250.5 430.1 251.5 429.9 252.5 429.6 253.5 429.1 254.5 428.4 255.5 427.3 256.5 425.7 257.5 423.5 258.5 420.6 259.5 417.1 260.5 413.2 261.5 409.1 262.5 404.7 263.5 400.1 264.5 395.2 265.5 390.3 266.5 385.3 267.5 380.4 268.5 375.8 269.5 371.4 270.5 367.2 271.5 362.8 272.5 358.4 273.5 353.9 274.5 349.4 275.5 345.1 276.5 341.1 277.5 337.6 278.5 334.7 279.5 332.3 280.5 330.5 281.5 329.2 282.5 328.2 283.5 327.7 284.5 327.5 285.5 327.8 286.5 328.5 287.5 329.6 288.5 331.2 289.5 333.2 290.5 335.8 291.5 338.9 292.5 342.6 293.5 346.7 294.5 351.1 295.5 355.7 296.5 360.2 297.5 364.6 298.5 368.9 299.5 373.2 300.5 377.6 301.5 382.3 302.5 387.2 303.5 392.3 304.5 397.2 305.5 402.0 306.5 406.5 307.5 410.8 308.5 414.8 309.5 418.6 310.5 421.8 311.5 424.5 312.5 426.4 313.5 427.8 314.5 428.7 315.5 429.3 316.5 429.8 317.5 430.0 318.5 430.1 319.5 430.0 320.5 429.8 321.5 429.5 322.5 429.2 323.5 429.0 324.5 428.7 325.5 428.6 326.5 428.4 327.5 428.3 328.5 428.2 329.5 428.2 330.5 428.2 331.5 428.2 332.5 428.3 333.5 428.5 334.5 428.7 335.5 428.9 336.5 429.1 337.5 429.4 338.5 429.7 339.5 430.0 340.5 430.4 341.5 430.8 342.5 431.3 343.5 431.7 344.5 432.3 345.5 432.8 346.5 433.3 347.5 433.8 348.5 434.2 349.5 434.6 350.5 435.0 351.5 435.3 352.5 435.6 353.5 435.9 354.5 436.1 355.5 436.3 356.5 436.6 357.5 436.8 358.5 437.0 359.5 437.2 360.5 437.4 361.5 437.6 362.5 437.8 363.5 438.0 364.5 438.2 365.5 438.3 366.5 438.5 367.5 438.7 368.5 438.8 369.5 438.9 370.5 439.0 371.5 439.2 372.5 439.3" stroke="#0000ff"/>
<path d="M72.5 439.8 73.5 439.8 74.5 439.8 75.5 439.8 76.5 439.8 77.5 439.8 78.5 439.8 79.5 439.8 80.5 439.8 81.5 439.8 82.5 439.8 83.5 439.8 84.5 439.8 85.5 439.8 86.5 439.8 87.5 439.8 88.5 439.8 89.5 439.8 90.5 439.8 91.5 439.8 92.5 439.8 93.5 439.8 94.5 439.8 95.5 439.8 96.5 439.8 97.5 439.8 98.5 439.8 99.5 439.8 100.5 439.8 101.5 439.8 102.5 439.8 103.5 439.8 104.5 439.8 105.5 439.8 106.5 439.8 107.5 439.8 108.5 439.8 109.5 439.8 110.5 439.8 111.5 439.8 112.5 439.8 113.5 439.8 114.5 439.8 115.5 439.8 116.5 439.8 117.5 439.8 118.5 439.8 119.5 439.8 120.5 439.8 121.5 439.8 122.5 439.8 123.5 439.8 124.5 439.8 125.5 439.8 126.5 439.8 127.5 439.8 128.5 439.8 129.5 439.8 130.5 439.8 131.5 439.8 132.5 439.8 133.5 439.8 134.5 439.8 135.5 439.8 136.5 439.8 137.5 439.8 138.5 439.8 139.5 439.8 140.5 439.8 141.5 439.8 142.5 439.8 143.5 439.8 144.5 439.8 145.5 439.8 146.5 439.8 147.5 439.8 148.5 439.8 149.5 439.8 150.5 439.8 151.5 439.8 152.5 439.8 153.5 439.8 154.5 439.8 155.5 439.7 156.5 439.7 157.5 439.7 158.5 439.7 159.5 439.7 160.5 439.7 161.5 439.7 162.5 439.7 163.5 439.6 164.5 439.6 165.5 439.6 166.5 439.6 167.5 439.6 168.5 439.6 169.5 439.6 170.5 439.5 171.5 439.5 172.5 439.5 173.5 439.5 174.5 439.5 175.5 439.5 176.5 439.4 177.5 439.4 178.5 439.4 179.5 439.4 180.5 439.4 181.5 439.4 182.5 439.3 183.5 439.3 184.5 439.3 185.5 439.3 186.5 439.3 187.5 439.2 188.5 439.2 189.5 439.2 190.5 439.2 191.5 439.1 192.5 439.1 193.5 439.1 194.5 439.0 195.5 438.9 196.5 438.9 197.5 438.8 198.5 438.7 199.5 438.6 200.5 438.5 201.5 438.4 202.5 438.3 203.5 438.1 204.5 438.0 205.5 437.9 206.5 437.7 207.5 437.6 208.5 437.5 209.5 437.3 210.5 437.1 211.5 437.0 212.5 436.8 213.5 436.6 214.5 436.5 215.5 436.3 216.5 436.1 217.5 435.9 218.5 435.7 219.5 435.4 220.5 435.1 221.5 434.8 222.5 434.4 223.5 434.1 224.5 433.7 225.5 433.4 226.5 433.1 227.5 432.8 228.5 432.5 229.5 432.3 230.5 432.0 231.5 431.9 232.5 431.7 233.5 431.6 234.5 431.4 235.5 431.3 236.5 431.2 237.5 431.0 238.5 430.8 239.5 430.5 240.5 430.2 241.5 429.8 242.5 429.2 243.5 428.6 244.5 427.9 245.5 427.2 246.5 426.3 247.5 425.4 248.5 424.4 249.5 423.3 250.5 422.0 251.5 420.5 252.5 418.8 253.5 416.7 254.5 414.0 255.5 410.8 256.5 407.1 257.5 403.2 258.5 399.2 259.5 395.2 260.5 391.2 261.5 387.2 262.5 383.2 263.5 379.3 264.5 375.6 265.5 372.0 266.5 368.7 267.5 365.4 268.5 362.4 269.5 359.4 270.5 356.7 271.5 354.1 272.5 351.8 273.5 349.8 274.5 348.0 275.5 346.6 276.5 345.5 277.5 344.7 278.5 344.2 279.5 343.9 280.5 343.6 281.5 343.4 282.5 343.3 283.5 343.2 284.5 343.2 285.5 343.2 286.5 343.3 287.5 343.5 288.5 343.7 289.5 344.0 290.5 344.4 291.5 345.0 292.5 345.9 293.5 347.1 294.5 348.7 295.5 350.5 296.5 352.7 297.5 355.1 298.5 357.8 299.5 360.6 300.5 363.6 301.5 366.7 302.5 370.0 303.5 373.4 304.5 377.0 305.5 380.8 306.5 384.7 307.5 388.8 308.5 392.8 309.5 396.8 310.5 400.8 311.5 404.8 312.5 408.6 313.5 412.2 314.5 415.2 315.5 417.6 316.5 419.5 317.5 421.1 318.5 422.5 319.5 423.7 320.5 424.8 321.5 425.8 322.5 426.7 323.5 427.5 324.5 428.2 325.5 428.9 326.5 429.5 327.5 430.0 328.5 430.4 329.5 430.7 330.5 430.9 331.5 431.1 332.5 431.2 333.5 431.4 334.5 431.5 335.5 431.6 336.5 431.8 337.5 431.9 338.5 432.1 339.5 432.3 340.5 432.6 341.5 432.9 342.5 433.2 343.5 433.5 344.5 433.9 345.5 434.2 346.5 434.6 347.5 434.9 348.5 435.2 349.5 435.5 350.5 435.8 351.5 436.0 352.5 436.2 353.5 436.4 354.5 436.5 355.5 436.7 356.5 436.9 357.5 437.0 358.5 437.2 359.5 437.4 360.5 437.5 361.5 437.7 362.5 437.8 363.5 437.9 364.5 438.1 365.5 438.2 366.5 438.3 367.5 438.4 368.5 438.5 369.5 438.6 370.5 438.7 371.5 438.8 372.5 438.9" stroke="#ff00ff"/>
</g>
<clipPath id="cpd"><rect x="460.90" y="247.90" width="285.60" height="192.70"/></clipPath>
<g clip-path="url(#cpd)" fill="none" stroke-width="2.0" stroke-linejoin="round">
<path d="M459.9 439.6 460.9 439.6 461.9 439.6 462.9 439.6 463.9 439.6 464.9 439.6 465.9 439.6 466.9 439.6 467.9 439.6 468.9 439.6 469.9 439.6 470.9 439.6 471.9 439.6 472.9 439.6 473.9 439.6 474.9 439.6 475.9 439.6 476.9 439.6 477.9 439.6 478.9 439.6 479.9 439.6 480.9 439.6 481.9 439.6 482.9 439.6 483.9 439.6 484.9 439.6 485.9 439.6 486.9 439.6 487.9 439.6 488.9 439.6 489.9 439.6 490.9 439.6 491.9 439.6 492.9 439.6 493.9 439.6 494.9 439.6 495.9 439.6 496.9 439.6 497.9 439.6 498.9 439.6 499.9 439.6 500.9 439.6 501.9 439.6 502.9 439.6 503.9 439.6 504.9 439.6 505.9 439.6 506.9 439.6 507.9 439.6 508.9 439.6 509.9 439.6 510.9 439.6 511.9 439.6 512.9 439.6 513.9 439.6 514.9 439.6 515.9 439.6 516.9 439.5 517.9 439.5 518.9 439.5 519.9 439.5 520.9 439.4 521.9 439.4 522.9 439.4 523.9 439.3 524.9 439.3 525.9 439.3 526.9 439.2 527.9 439.2 528.9 439.1 529.9 439.1 530.9 439.1 531.9 439.0 532.9 438.9 533.9 438.8 534.9 438.7 535.9 438.6 536.9 438.5 537.9 438.3 538.9 438.2 539.9 438.0 540.9 437.9 541.9 437.7 542.9 437.6 543.9 437.4 544.9 437.3 545.9 437.1 546.9 436.9 547.9 436.8 548.9 436.6 549.9 436.4 550.9 436.2 551.9 436.0 552.9 435.7 553.9 435.5 554.9 435.3 555.9 435.0 556.9 434.7 557.9 434.5 558.9 434.1 559.9 433.8 560.9 433.4 561.9 433.0 562.9 432.6 563.9 432.2 564.9 431.8 565.9 431.4 566.9 431.0 567.9 430.6 568.9 430.1 569.9 429.7 570.9 429.2 571.9 428.8 572.9 428.4 573.9 428.1 574.9 428.0 575.9 427.8 576.9 427.7 577.9 427.6 578.9 427.5 579.9 427.4 580.9 427.4 581.9 427.6 582.9 428.0 583.9 428.5 584.9 429.1 585.9 429.8 586.9 430.5 587.9 431.1 588.9 431.9 589.9 432.7 590.9 433.6 591.9 434.5 592.9 435.3 593.9 436.0 594.9 436.6 595.9 437.2 596.9 437.8 597.9 438.3 598.9 438.8 599.9 439.3 600.9 439.6 601.9 439.6 602.9 439.6 603.9 439.6 604.9 439.1 605.9 438.4 606.9 437.6 607.9 436.5 608.9 435.2 609.9 433.8 610.9 432.3 611.9 430.6 612.9 429.0 613.9 427.3 614.9 425.7 615.9 424.1 616.9 422.7 617.9 421.3 618.9 420.0 619.9 419.0 620.9 418.3 621.9 417.7 622.9 417.3 623.9 417.0 624.9 416.8 625.9 416.9 626.9 417.2 627.9 417.6 628.9 418.1 629.9 418.7 630.9 419.6 631.9 420.8 632.9 422.1 633.9 423.5 634.9 425.1 635.9 426.7 636.9 428.3 637.9 430.0 638.9 431.6 639.9 433.2 640.9 434.7 641.9 436.0 642.9 437.2 643.9 438.1 644.9 438.8 645.9 439.4 646.9 439.6 647.9 439.6 648.9 439.6 649.9 439.4 650.9 439.0 651.9 438.5 652.9 438.0 653.9 437.4 654.9 436.8 655.9 436.2 656.9 435.6 657.9 434.8 658.9 434.0 659.9 433.1 660.9 432.2 661.9 431.4 662.9 430.7 663.9 430.1 664.9 429.4 665.9 428.7 666.9 428.2 667.9 427.7 668.9 427.5 669.9 427.4 670.9 427.4 671.9 427.5 672.9 427.6 673.9 427.8 674.9 427.9 675.9 428.1 676.9 428.3 677.9 428.6 678.9 429.0 679.9 429.5 680.9 430.0 681.9 430.4 682.9 430.8 683.9 431.2 684.9 431.6 685.9 432.1 686.9 432.5 687.9 432.9 688.9 433.3 689.9 433.6 690.9 434.0 691.9 434.3 692.9 434.6 693.9 434.9 694.9 435.2 695.9 435.4 696.9 435.6 697.9 435.9 698.9 436.1 699.9 436.3 700.9 436.5 701.9 436.7 702.9 436.9 703.9 437.0 704.9 437.2 705.9 437.4 706.9 437.5 707.9 437.7 708.9 437.8 709.9 438.0 710.9 438.1 711.9 438.3 712.9 438.4 713.9 438.5 714.9 438.7 715.9 438.8 716.9 438.9 717.9 439.0 718.9 439.0 719.9 439.1 720.9 439.1 721.9 439.2 722.9 439.2 723.9 439.2 724.9 439.3 725.9 439.3 726.9 439.4 727.9 439.4 728.9 439.4 729.9 439.5 730.9 439.5 731.9 439.5 732.9 439.5 733.9 439.6 734.9 439.6 735.9 439.6 736.9 439.6 737.9 439.6 738.9 439.6 739.9 439.6 740.9 439.6 741.9 439.6 742.9 439.6 743.9 439.6 744.9 439.6 745.9 439.6 746.9 439.6" stroke="#000000"/>
<path d="M459.9 439.6 460.9 439.6 461.9 439.6 462.9 439.6 463.9 439.6 464.9 439.6 465.9 439.6 466.9 439.6 467.9 439.6 468.9 439.6 469.9 439.6 470.9 439.6 471.9 439.6 472.9 439.6 473.9 439.6 474.9 439.6 475.9 439.6 476.9 439.6 477.9 439.6 478.9 439.6 479.9 439.6 480.9 439.6 481.9 439.6 482.9 439.6 483.9 439.6 484.9 439.6 485.9 439.6 486.9 439.6 487.9 439.6 488.9 439.6 489.9 439.6 490.9 439.6 491.9 439.6 492.9 439.6 493.9 439.6 494.9 439.6 495.9 439.6 496.9 439.6 497.9 439.6 498.9 439.6 499.9 439.6 500.9 439.6 501.9 439.6 502.9 439.6 503.9 439.6 504.9 439.6 505.9 439.6 506.9 439.6 507.9 439.6 508.9 439.6 509.9 439.6 510.9 439.6 511.9 439.6 512.9 439.6 513.9 439.6 514.9 439.6 515.9 439.6 516.9 439.6 517.9 439.5 518.9 439.5 519.9 439.5 520.9 439.4 521.9 439.4 522.9 439.3 523.9 439.3 524.9 439.2 525.9 439.2 526.9 439.2 527.9 439.1 528.9 439.1 529.9 439.0 530.9 438.9 531.9 438.9 532.9 438.8 533.9 438.7 534.9 438.6 535.9 438.5 536.9 438.4 537.9 438.3 538.9 438.2 539.9 438.1 540.9 437.9 541.9 437.8 542.9 437.6 543.9 437.5 544.9 437.3 545.9 437.2 546.9 437.0 547.9 436.8 548.9 436.6 549.9 436.5 550.9 436.3 551.9 436.1 552.9 435.9 553.9 435.7 554.9 435.5 555.9 435.3 556.9 435.1 557.9 434.8 558.9 434.6 559.9 434.3 560.9 434.0 561.9 433.6 562.9 433.3 563.9 432.9 564.9 432.6 565.9 432.2 566.9 431.9 567.9 431.5 568.9 431.2 569.9 430.9 570.9 430.5 571.9 430.2 572.9 429.9 573.9 429.5 574.9 429.2 575.9 429.0 576.9 428.8 577.9 428.7 578.9 428.6 579.9 428.5 580.9 428.4 581.9 428.4 582.9 428.6 583.9 428.8 584.9 429.1 585.9 429.3 586.9 429.6 587.9 429.7 588.9 429.8 589.9 429.8 590.9 429.9 591.9 429.9 592.9 429.9 593.9 429.8 594.9 429.3 595.9 428.4 596.9 427.3 597.9 425.9 598.9 423.7 599.9 420.8 600.9 417.5 601.9 413.9 602.9 409.8 603.9 405.2 604.9 399.9 605.9 393.9 606.9 387.0 607.9 379.3 608.9 370.9 609.9 362.2 610.9 353.7 611.9 344.6 612.9 334.2 613.9 323.4 614.9 313.3 615.9 304.7 616.9 298.2 617.9 292.4 618.9 286.9 619.9 281.7 620.9 277.0 621.9 273.3 622.9 270.7 623.9 269.2 624.9 268.5 625.9 268.8 626.9 270.0 627.9 272.1 628.9 275.4 629.9 279.7 630.9 284.8 631.9 290.2 632.9 295.8 633.9 301.9 634.9 309.6 635.9 319.3 636.9 329.8 637.9 340.6 638.9 350.2 639.9 358.8 640.9 367.4 641.9 376.0 642.9 384.0 643.9 391.2 644.9 397.6 645.9 403.2 646.9 408.0 647.9 412.3 648.9 416.1 649.9 419.5 650.9 422.6 651.9 425.2 652.9 426.8 653.9 428.0 654.9 429.0 655.9 429.6 656.9 429.9 657.9 429.9 658.9 429.9 659.9 429.8 660.9 429.8 661.9 429.7 662.9 429.6 663.9 429.4 664.9 429.2 665.9 428.9 666.9 428.6 667.9 428.5 668.9 428.4 669.9 428.4 670.9 428.5 671.9 428.6 672.9 428.8 673.9 428.9 674.9 429.1 675.9 429.4 676.9 429.7 677.9 430.1 678.9 430.4 679.9 430.7 680.9 431.1 681.9 431.4 682.9 431.7 683.9 432.1 684.9 432.4 685.9 432.8 686.9 433.1 687.9 433.5 688.9 433.8 689.9 434.1 690.9 434.4 691.9 434.7 692.9 435.0 693.9 435.2 694.9 435.4 695.9 435.6 696.9 435.8 697.9 436.0 698.9 436.2 699.9 436.4 700.9 436.6 701.9 436.7 702.9 436.9 703.9 437.1 704.9 437.3 705.9 437.4 706.9 437.6 707.9 437.7 708.9 437.9 709.9 438.0 710.9 438.2 711.9 438.3 712.9 438.4 713.9 438.5 714.9 438.6 715.9 438.7 716.9 438.8 717.9 438.9 718.9 438.9 719.9 439.0 720.9 439.0 721.9 439.1 722.9 439.1 723.9 439.2 724.9 439.2 725.9 439.3 726.9 439.3 727.9 439.4 728.9 439.4 729.9 439.4 730.9 439.5 731.9 439.5 732.9 439.5 733.9 439.6 734.9 439.6 735.9 439.6 736.9 439.6 737.9 439.6 738.9 439.6 739.9 439.6 740.9 439.6 741.9 439.6 742.9 439.6 743.9 439.6 744.9 439.6 745.9 439.6 746.9 439.6" stroke="#ff0000"/>
<path d="M459.9 439.6 460.9 439.6 461.9 439.6 462.9 439.6 463.9 439.6 464.9 439.6 465.9 439.6 466.9 439.6 467.9 439.6 468.9 439.6 469.9 439.6 470.9 439.6 471.9 439.6 472.9 439.6 473.9 439.6 474.9 439.6 475.9 439.6 476.9 439.6 477.9 439.6 478.9 439.6 479.9 439.6 480.9 439.6 481.9 439.6 482.9 439.6 483.9 439.6 484.9 439.6 485.9 439.6 486.9 439.6 487.9 439.6 488.9 439.6 489.9 439.6 490.9 439.6 491.9 439.6 492.9 439.6 493.9 439.6 494.9 439.6 495.9 439.6 496.9 439.6 497.9 439.6 498.9 439.6 499.9 439.6 500.9 439.6 501.9 439.6 502.9 439.6 503.9 439.6 504.9 439.6 505.9 439.6 506.9 439.6 507.9 439.6 508.9 439.6 509.9 439.6 510.9 439.6 511.9 439.6 512.9 439.6 513.9 439.6 514.9 439.6 515.9 439.6 516.9 439.6 517.9 439.6 518.9 439.6 519.9 439.6 520.9 439.6 521.9 439.6 522.9 439.5 523.9 439.5 524.9 439.5 525.9 439.5 526.9 439.5 527.9 439.4 528.9 439.4 529.9 439.4 530.9 439.4 531.9 439.3 532.9 439.3 533.9 439.3 534.9 439.2 535.9 439.2 536.9 439.1 537.9 439.1 538.9 439.0 539.9 438.9 540.9 438.9 541.9 438.8 542.9 438.7 543.9 438.6 544.9 438.5 545.9 438.4 546.9 438.3 547.9 438.2 548.9 438.1 549.9 438.0 550.9 437.9 551.9 437.8 552.9 437.7 553.9 437.6 554.9 437.4 555.9 437.3 556.9 437.2 557.9 437.0 558.9 436.8 559.9 436.6 560.9 436.4 561.9 436.2 562.9 435.9 563.9 435.6 564.9 435.3 565.9 435.0 566.9 434.7 567.9 434.3 568.9 434.0 569.9 433.6 570.9 433.2 571.9 432.7 572.9 432.2 573.9 431.6 574.9 430.9 575.9 430.1 576.9 429.2 577.9 428.1 578.9 427.0 579.9 425.7 580.9 424.3 581.9 422.8 582.9 421.2 583.9 419.4 584.9 417.3 585.9 414.9 586.9 412.2 587.9 409.3 588.9 406.3 589.9 403.0 590.9 399.4 591.9 395.6 592.9 391.6 593.9 387.5 594.9 383.3 595.9 378.8 596.9 373.8 597.9 368.2 598.9 362.2 599.9 355.7 600.9 348.5 601.9 341.7 602.9 336.5 603.9 332.4 604.9 328.4 605.9 324.0 606.9 319.7 607.9 316.0 608.9 313.5 609.9 312.0 610.9 311.5 611.9 312.0 612.9 313.2 613.9 315.0 614.9 317.3 615.9 319.9 616.9 322.4 617.9 324.4 618.9 325.8 619.9 326.9 620.9 327.7 621.9 328.2 622.9 328.4 623.9 328.5 624.9 328.5 625.9 328.5 626.9 328.4 627.9 328.3 628.9 328.0 629.9 327.3 630.9 326.3 631.9 325.0 632.9 323.3 633.9 321.0 634.9 318.3 635.9 315.9 636.9 313.8 637.9 312.4 638.9 311.6 639.9 311.6 640.9 312.8 641.9 314.8 642.9 318.1 643.9 322.2 644.9 326.7 645.9 330.8 646.9 334.7 647.9 339.5 648.9 345.6 649.9 352.9 650.9 359.7 651.9 365.9 652.9 371.6 653.9 376.8 654.9 381.5 655.9 385.9 656.9 390.0 657.9 394.0 658.9 397.9 659.9 401.6 660.9 405.0 661.9 408.1 662.9 411.1 663.9 413.9 664.9 416.4 665.9 418.6 666.9 420.5 667.9 422.2 668.9 423.7 669.9 425.1 670.9 426.5 671.9 427.7 672.9 428.7 673.9 429.7 674.9 430.6 675.9 431.3 676.9 431.9 677.9 432.5 678.9 433.0 679.9 433.4 680.9 433.8 681.9 434.2 682.9 434.5 683.9 434.9 684.9 435.2 685.9 435.5 686.9 435.8 687.9 436.1 688.9 436.3 689.9 436.6 690.9 436.8 691.9 436.9 692.9 437.1 693.9 437.3 694.9 437.4 695.9 437.5 696.9 437.6 697.9 437.8 698.9 437.9 699.9 438.0 700.9 438.1 701.9 438.2 702.9 438.3 703.9 438.4 704.9 438.5 705.9 438.6 706.9 438.7 707.9 438.8 708.9 438.8 709.9 438.9 710.9 439.0 711.9 439.0 712.9 439.1 713.9 439.2 714.9 439.2 715.9 439.3 716.9 439.3 717.9 439.3 718.9 439.4 719.9 439.4 720.9 439.4 721.9 439.4 722.9 439.5 723.9 439.5 724.9 439.5 725.9 439.5 726.9 439.5 727.9 439.6 728.9 439.6 729.9 439.6 730.9 439.6 731.9 439.6 732.9 439.6 733.9 439.6 734.9 439.6 735.9 439.6 736.9 439.6 737.9 439.6 738.9 439.6 739.9 439.6 740.9 439.6 741.9 439.6 742.9 439.6 743.9 439.6 744.9 439.6 745.9 439.6 746.9 439.6" stroke="#00ff00"/>
<path d="M459.9 439.6 460.9 439.6 461.9 439.6 462.9 439.6 463.9 439.6 464.9 439.6 465.9 439.6 466.9 439.6 467.9 439.6 468.9 439.6 469.9 439.6 470.9 439.6 471.9 439.6 472.9 439.6 473.9 439.6 474.9 439.6 475.9 439.6 476.9 439.6 477.9 439.6 478.9 439.6 479.9 439.6 480.9 439.6 481.9 439.6 482.9 439.6 483.9 439.6 484.9 439.6 485.9 439.6 486.9 439.6 487.9 439.6 488.9 439.6 489.9 439.6 490.9 439.6 491.9 439.6 492.9 439.6 493.9 439.6 494.9 439.6 495.9 439.6 496.9 439.6 497.9 439.6 498.9 439.6 499.9 439.6 500.9 439.6 501.9 439.6 502.9 439.6 503.9 439.6 504.9 439.6 505.9 439.6 506.9 439.6 507.9 439.6 508.9 439.6 509.9 439.6 510.9 439.6 511.9 439.6 512.9 439.6 513.9 439.6 514.9 439.6 515.9 439.6 516.9 439.6 517.9 439.6 518.9 439.6 519.9 439.5 520.9 439.5 521.9 439.5 522.9 439.5 523.9 439.5 524.9 439.4 525.9 439.4 526.9 439.4 527.9 439.4 528.9 439.3 529.9 439.3 530.9 439.3 531.9 439.2 532.9 439.2 533.9 439.2 534.9 439.1 535.9 439.0 536.9 439.0 537.9 438.9 538.9 438.9 539.9 438.8 540.9 438.7 541.9 438.6 542.9 438.5 543.9 438.4 544.9 438.3 545.9 438.2 546.9 438.1 547.9 438.0 548.9 437.9 549.9 437.8 550.9 437.6 551.9 437.5 552.9 437.4 553.9 437.2 554.9 437.1 555.9 436.9 556.9 436.8 557.9 436.6 558.9 436.4 559.9 436.1 560.9 435.8 561.9 435.5 562.9 435.1 563.9 434.8 564.9 434.4 565.9 434.0 566.9 433.5 567.9 433.1 568.9 432.6 569.9 432.2 570.9 431.7 571.9 431.2 572.9 430.7 573.9 430.0 574.9 429.3 575.9 428.3 576.9 427.2 577.9 425.9 578.9 424.5 579.9 422.8 580.9 421.1 581.9 419.2 582.9 416.9 583.9 414.4 584.9 411.6 585.9 408.7 586.9 405.7 587.9 402.6 588.9 399.4 589.9 396.1 590.9 392.7 591.9 389.2 592.9 385.7 593.9 382.1 594.9 378.3 595.9 374.1 596.9 369.3 597.9 364.4 598.9 360.1 599.9 356.3 600.9 352.9 601.9 350.2 602.9 348.0 603.9 346.5 604.9 345.7 605.9 345.3 606.9 345.6 607.9 346.4 608.9 347.6 609.9 349.1 610.9 350.7 611.9 352.4 612.9 354.0 613.9 355.5 614.9 356.6 615.9 357.4 616.9 358.2 617.9 358.8 618.9 359.3 619.9 359.7 620.9 360.0 621.9 360.2 622.9 360.3 623.9 360.4 624.9 360.5 625.9 360.5 626.9 360.4 627.9 360.2 628.9 360.0 629.9 359.8 630.9 359.5 631.9 359.0 632.9 358.4 633.9 357.7 634.9 356.9 635.9 355.9 636.9 354.6 637.9 353.0 638.9 351.4 639.9 349.8 640.9 348.2 641.9 346.8 642.9 345.8 643.9 345.3 644.9 345.5 645.9 346.1 646.9 347.3 647.9 349.2 648.9 351.7 649.9 354.9 650.9 358.5 651.9 362.6 652.9 367.3 653.9 372.2 654.9 376.7 655.9 380.6 656.9 384.3 657.9 387.9 658.9 391.3 659.9 394.7 660.9 398.1 661.9 401.4 662.9 404.5 663.9 407.5 664.9 410.4 665.9 413.3 666.9 415.9 667.9 418.3 668.9 420.3 669.9 422.1 670.9 423.8 671.9 425.4 672.9 426.7 673.9 427.9 674.9 428.9 675.9 429.7 676.9 430.4 677.9 431.0 678.9 431.5 679.9 432.0 680.9 432.5 681.9 432.9 682.9 433.4 683.9 433.8 684.9 434.2 685.9 434.6 686.9 435.0 687.9 435.3 688.9 435.7 689.9 436.0 690.9 436.3 691.9 436.5 692.9 436.7 693.9 436.9 694.9 437.0 695.9 437.2 696.9 437.3 697.9 437.4 698.9 437.6 699.9 437.7 700.9 437.8 701.9 438.0 702.9 438.1 703.9 438.2 704.9 438.3 705.9 438.4 706.9 438.5 707.9 438.6 708.9 438.7 709.9 438.7 710.9 438.8 711.9 438.9 712.9 439.0 713.9 439.0 714.9 439.1 715.9 439.1 716.9 439.2 717.9 439.2 718.9 439.3 719.9 439.3 720.9 439.3 721.9 439.3 722.9 439.4 723.9 439.4 724.9 439.4 725.9 439.5 726.9 439.5 727.9 439.5 728.9 439.5 729.9 439.5 730.9 439.6 731.9 439.6 732.9 439.6 733.9 439.6 734.9 439.6 735.9 439.6 736.9 439.6 737.9 439.6 738.9 439.6 739.9 439.6 740.9 439.6 741.9 439.6 742.9 439.6 743.9 439.6 744.9 439.6 745.9 439.6 746.9 439.6" stroke="#0000ff"/>
<path d="M459.9 439.6 460.9 439.6 461.9 439.6 462.9 439.6 463.9 439.6 464.9 439.6 465.9 439.6 466.9 439.6 467.9 439.6 468.9 439.6 469.9 439.6 470.9 439.6 471.9 439.6 472.9 439.6 473.9 439.6 474.9 439.6 475.9 439.6 476.9 439.6 477.9 439.6 478.9 439.6 479.9 439.6 480.9 439.6 481.9 439.6 482.9 439.6 483.9 439.6 484.9 439.6 485.9 439.6 486.9 439.6 487.9 439.6 488.9 439.6 489.9 439.6 490.9 439.6 491.9 439.6 492.9 439.6 493.9 439.6 494.9 439.6 495.9 439.6 496.9 439.6 497.9 439.6 498.9 439.6 499.9 439.6 500.9 439.6 501.9 439.6 502.9 439.6 503.9 439.6 504.9 439.6 505.9 439.6 506.9 439.6 507.9 439.6 508.9 439.6 509.9 439.6 510.9 439.5 511.9 439.5 512.9 439.5 513.9 439.5 514.9 439.5 515.9 439.4 516.9 439.4 517.9 439.4 518.9 439.4 519.9 439.3 520.9 439.3 521.9 439.3 522.9 439.2 523.9 439.2 524.9 439.2 525.9 439.2 526.9 439.1 527.9 439.1 528.9 439.0 529.9 439.0 530.9 439.0 531.9 438.9 532.9 438.9 533.9 438.8 534.9 438.7 535.9 438.7 536.9 438.6 537.9 438.5 538.9 438.5 539.9 438.4 540.9 438.3 541.9 438.2 542.9 438.1 543.9 438.0 544.9 437.9 545.9 437.7 546.9 437.6 547.9 437.5 548.9 437.3 549.9 437.2 550.9 437.1 551.9 436.9 552.9 436.7 553.9 436.6 554.9 436.4 555.9 436.2 556.9 436.1 557.9 435.8 558.9 435.6 559.9 435.3 560.9 435.0 561.9 434.6 562.9 434.3 563.9 433.9 564.9 433.4 565.9 433.0 566.9 432.5 567.9 432.0 568.9 431.4 569.9 430.9 570.9 430.3 571.9 429.6 572.9 428.9 573.9 428.0 574.9 427.1 575.9 426.1 576.9 424.9 577.9 423.7 578.9 422.3 579.9 420.8 580.9 419.1 581.9 417.2 582.9 415.1 583.9 412.9 584.9 410.4 585.9 407.9 586.9 405.2 587.9 402.2 588.9 399.1 589.9 395.9 590.9 392.6 591.9 389.1 592.9 385.8 593.9 382.7 594.9 379.8 595.9 377.2 596.9 375.2 597.9 373.7 598.9 372.3 599.9 371.2 600.9 370.5 601.9 370.0 602.9 369.6 603.9 369.3 604.9 369.0 605.9 368.7 606.9 368.5 607.9 368.3 608.9 368.0 609.9 367.5 610.9 366.8 611.9 365.7 612.9 364.5 613.9 362.8 614.9 360.4 615.9 357.8 616.9 355.2 617.9 352.4 618.9 349.7 619.9 347.4 620.9 345.7 621.9 344.3 622.9 343.5 623.9 343.0 624.9 342.8 625.9 342.9 626.9 343.3 627.9 343.9 628.9 345.0 629.9 346.7 630.9 348.7 631.9 351.3 632.9 354.1 633.9 356.8 634.9 359.4 635.9 361.9 636.9 363.9 637.9 365.3 638.9 366.4 639.9 367.2 640.9 367.8 641.9 368.2 642.9 368.4 643.9 368.6 644.9 368.9 645.9 369.1 646.9 369.4 647.9 369.8 648.9 370.3 649.9 370.9 650.9 371.8 651.9 373.1 652.9 374.6 653.9 376.4 654.9 378.7 655.9 381.5 656.9 384.5 657.9 387.8 658.9 391.2 659.9 394.6 660.9 397.8 661.9 401.0 662.9 404.0 663.9 406.9 664.9 409.5 665.9 411.9 666.9 414.2 667.9 416.4 668.9 418.4 669.9 420.1 670.9 421.7 671.9 423.1 672.9 424.4 673.9 425.6 674.9 426.7 675.9 427.7 676.9 428.5 677.9 429.3 678.9 430.1 679.9 430.7 680.9 431.2 681.9 431.8 682.9 432.3 683.9 432.8 684.9 433.2 685.9 433.7 686.9 434.1 687.9 434.5 688.9 434.9 689.9 435.2 690.9 435.5 691.9 435.8 692.9 436.0 693.9 436.2 694.9 436.3 695.9 436.5 696.9 436.7 697.9 436.8 698.9 437.0 699.9 437.1 700.9 437.3 701.9 437.4 702.9 437.6 703.9 437.7 704.9 437.8 705.9 437.9 706.9 438.0 707.9 438.1 708.9 438.2 709.9 438.3 710.9 438.4 711.9 438.5 712.9 438.6 713.9 438.7 714.9 438.7 715.9 438.8 716.9 438.8 717.9 438.9 718.9 438.9 719.9 439.0 720.9 439.0 721.9 439.1 722.9 439.1 723.9 439.1 724.9 439.2 725.9 439.2 726.9 439.2 727.9 439.3 728.9 439.3 729.9 439.3 730.9 439.4 731.9 439.4 732.9 439.4 733.9 439.4 734.9 439.5 735.9 439.5 736.9 439.5 737.9 439.5 738.9 439.5 739.9 439.6 740.9 439.6 741.9 439.6 742.9 439.6 743.9 439.6 744.9 439.6 745.9 439.6 746.9 439.6" stroke="#ff00ff"/>
</g>
<clipPath id="cpe"><rect x="73.50" y="464.00" width="298.20" height="192.60"/></clipPath>
<g clip-path="url(#cpe)" fill="none" stroke-width="2.0" stroke-linejoin="round">
<path d="M72.5 655.6 73.5 655.6 74.5 655.6 75.5 655.6 76.5 655.6 77.5 655.6 78.5 655.6 79.5 655.6 80.5 655.6 81.5 655.6 82.5 655.6 83.5 655.6 84.5 655.6 85.5 655.6 86.5 655.6 87.5 655.6 88.5 655.6 89.5 655.6 90.5 655.6 91.5 655.6 92.5 655.6 93.5 655.6 94.5 655.6 95.5 655.6 96.5 655.6 97.5 655.6 98.5 655.6 99.5 655.6 100.5 655.6 101.5 655.6 102.5 655.6 103.5 655.6 104.5 655.6 105.5 655.6 106.5 655.6 107.5 655.6 108.5 655.6 109.5 655.6 110.5 655.6 111.5 655.6 112.5 655.6 113.5 655.6 114.5 655.6 115.5 655.6 116.5 655.6 117.5 655.6 118.5 655.6 119.5 655.6 120.5 655.6 121.5 655.6 122.5 655.6 123.5 655.6 124.5 655.6 125.5 655.6 126.5 655.6 127.5 655.6 128.5 655.6 129.5 655.6 130.5 655.6 131.5 655.6 132.5 655.6 133.5 655.6 134.5 655.6 135.5 655.6 136.5 655.6 137.5 655.6 138.5 655.6 139.5 655.6 140.5 655.6 141.5 655.6 142.5 655.6 143.5 655.6 144.5 655.6 145.5 655.6 146.5 655.6 147.5 655.6 148.5 655.6 149.5 655.6 150.5 655.6 151.5 655.6 152.5 655.6 153.5 655.6 154.5 655.5 155.5 655.5 156.5 655.5 157.5 655.5 158.5 655.5 159.5 655.5 160.5 655.5 161.5 655.5 162.5 655.4 163.5 655.4 164.5 655.4 165.5 655.4 166.5 655.4 167.5 655.4 168.5 655.4 169.5 655.3 170.5 655.3 171.5 655.3 172.5 655.3 173.5 655.3 174.5 655.3 175.5 655.3 176.5 655.2 177.5 655.2 178.5 655.2 179.5 655.2 180.5 655.2 181.5 655.2 182.5 655.1 183.5 655.1 184.5 655.1 185.5 655.1 186.5 655.1 187.5 655.0 188.5 655.0 189.5 655.0 190.5 655.0 191.5 655.0 192.5 654.9 193.5 654.9 194.5 654.9 195.5 654.8 196.5 654.8 197.5 654.7 198.5 654.7 199.5 654.6 200.5 654.6 201.5 654.5 202.5 654.4 203.5 654.4 204.5 654.3 205.5 654.2 206.5 654.1 207.5 654.0 208.5 653.9 209.5 653.8 210.5 653.7 211.5 653.6 212.5 653.4 213.5 653.3 214.5 653.1 215.5 653.0 216.5 652.7 217.5 652.4 218.5 652.1 219.5 651.7 220.5 651.2 221.5 650.7 222.5 650.1 223.5 649.4 224.5 648.7 225.5 647.8 226.5 646.8 227.5 645.8 228.5 644.6 229.5 643.3 230.5 641.9 231.5 640.4 232.5 638.8 233.5 637.1 234.5 635.3 235.5 633.4 236.5 631.5 237.5 629.4 238.5 627.2 239.5 624.9 240.5 622.3 241.5 619.7 242.5 617.0 243.5 614.2 244.5 611.3 245.5 608.3 246.5 605.1 247.5 602.0 248.5 598.8 249.5 595.8 250.5 592.7 251.5 589.7 252.5 586.6 253.5 583.4 254.5 580.0 255.5 576.6 256.5 572.9 257.5 569.2 258.5 565.2 259.5 561.1 260.5 556.8 261.5 552.5 262.5 548.0 263.5 543.5 264.5 539.1 265.5 534.9 266.5 530.9 267.5 527.2 268.5 523.8 269.5 520.8 270.5 518.1 271.5 515.8 272.5 513.7 273.5 511.9 274.5 510.2 275.5 508.7 276.5 507.3 277.5 506.1 278.5 505.1 279.5 504.3 280.5 503.7 281.5 503.3 282.5 503.0 283.5 502.9 284.5 502.8 285.5 502.8 286.5 503.0 287.5 503.2 288.5 503.5 289.5 504.1 290.5 504.8 291.5 505.7 292.5 506.8 293.5 508.1 294.5 509.6 295.5 511.2 296.5 512.9 297.5 514.9 298.5 517.1 299.5 519.7 300.5 522.5 301.5 525.8 302.5 529.4 303.5 533.2 304.5 537.4 305.5 541.8 306.5 546.2 307.5 550.7 308.5 555.1 309.5 559.4 310.5 563.6 311.5 567.6 312.5 571.4 313.5 575.1 314.5 578.7 315.5 582.1 316.5 585.3 317.5 588.5 318.5 591.5 319.5 594.6 320.5 597.6 321.5 600.7 322.5 603.9 323.5 607.0 324.5 610.1 325.5 613.1 326.5 615.9 327.5 618.6 328.5 621.3 329.5 623.9 330.5 626.3 331.5 628.6 332.5 630.7 333.5 632.7 334.5 634.5 335.5 636.3 336.5 638.1 337.5 639.8 338.5 641.3 339.5 642.8 340.5 644.1 341.5 645.3 342.5 646.4 343.5 647.4 344.5 648.3 345.5 649.1 346.5 649.9 347.5 650.5 348.5 651.0 349.5 651.5 350.5 651.9 351.5 652.3 352.5 652.6 353.5 652.9 354.5 653.1 355.5 653.2 356.5 653.4 357.5 653.5 358.5 653.6 359.5 653.7 360.5 653.9 361.5 654.0 362.5 654.1 363.5 654.2 364.5 654.2 365.5 654.3 366.5 654.4 367.5 654.5 368.5 654.5 369.5 654.6 370.5 654.7 371.5 654.7 372.5 654.8" stroke="#000000"/>
<path d="M72.5 655.6 73.5 655.6 74.5 655.6 75.5 655.6 76.5 655.6 77.5 655.6 78.5 655.6 79.5 655.6 80.5 655.6 81.5 655.6 82.5 655.6 83.5 655.6 84.5 655.6 85.5 655.6 86.5 655.6 87.5 655.6 88.5 655.6 89.5 655.6 90.5 655.6 91.5 655.6 92.5 655.6 93.5 655.6 94.5 655.6 95.5 655.6 96.5 655.6 97.5 655.6 98.5 655.6 99.5 655.6 100.5 655.6 101.5 655.6 102.5 655.6 103.5 655.6 104.5 655.6 105.5 655.6 106.5 655.6 107.5 655.6 108.5 655.6 109.5 655.6 110.5 655.6 111.5 655.6 112.5 655.6 113.5 655.6 114.5 655.6 115.5 655.6 116.5 655.6 117.5 655.6 118.5 655.6 119.5 655.6 120.5 655.6 121.5 655.6 122.5 655.6 123.5 655.6 124.5 655.6 125.5 655.6 126.5 655.6 127.5 655.6 128.5 655.6 129.5 655.6 130.5 655.6 131.5 655.6 132.5 655.6 133.5 655.6 134.5 655.6 135.5 655.6 136.5 655.6 137.5 655.6 138.5 655.6 139.5 655.6 140.5 655.6 141.5 655.6 142.5 655.6 143.5 655.6 144.5 655.6 145.5 655.6 146.5 655.6 147.5 655.6 148.5 655.6 149.5 655.6 150.5 655.6 151.5 655.6 152.5 655.6 153.5 655.5 154.5 655.5 155.5 655.5 156.5 655.5 157.5 655.5 158.5 655.5 159.5 655.5 160.5 655.5 161.5 655.4 162.5 655.4 163.5 655.4 164.5 655.4 165.5 655.4 166.5 655.4 167.5 655.4 168.5 655.4 169.5 655.3 170.5 655.3 171.5 655.3 172.5 655.3 173.5 655.3 174.5 655.3 175.5 655.2 176.5 655.2 177.5 655.2 178.5 655.2 179.5 655.2 180.5 655.2 181.5 655.1 182.5 655.1 183.5 655.1 184.5 655.1 185.5 655.1 186.5 655.1 187.5 655.0 188.5 655.0 189.5 655.0 190.5 655.0 191.5 655.0 192.5 654.9 193.5 654.9 194.5 654.9 195.5 654.9 196.5 654.8 197.5 654.8 198.5 654.7 199.5 654.7 200.5 654.6 201.5 654.6 202.5 654.5 203.5 654.4 204.5 654.4 205.5 654.3 206.5 654.2 207.5 654.2 208.5 654.1 209.5 654.0 210.5 653.9 211.5 653.8 212.5 653.7 213.5 653.6 214.5 653.4 215.5 653.3 216.5 653.1 217.5 652.8 218.5 652.5 219.5 652.2 220.5 651.9 221.5 651.4 222.5 651.0 223.5 650.5 224.5 649.9 225.5 649.3 226.5 648.6 227.5 647.9 228.5 647.2 229.5 646.3 230.5 645.4 231.5 644.4 232.5 643.3 233.5 642.1 234.5 640.7 235.5 639.1 236.5 637.1 237.5 634.9 238.5 632.4 239.5 629.9 240.5 627.3 241.5 624.8 242.5 622.4 243.5 620.0 244.5 617.7 245.5 615.4 246.5 613.1 247.5 610.8 248.5 608.5 249.5 606.2 250.5 603.9 251.5 601.5 252.5 599.0 253.5 596.5 254.5 594.0 255.5 591.5 256.5 589.0 257.5 586.6 258.5 584.3 259.5 582.0 260.5 579.9 261.5 577.8 262.5 575.9 263.5 574.0 264.5 572.3 265.5 570.5 266.5 568.8 267.5 567.1 268.5 565.6 269.5 564.1 270.5 562.8 271.5 561.6 272.5 560.6 273.5 559.6 274.5 558.8 275.5 558.1 276.5 557.4 277.5 556.8 278.5 556.3 279.5 555.9 280.5 555.6 281.5 555.4 282.5 555.2 283.5 555.1 284.5 555.0 285.5 555.0 286.5 555.1 287.5 555.3 288.5 555.5 289.5 555.8 290.5 556.2 291.5 556.6 292.5 557.2 293.5 557.8 294.5 558.5 295.5 559.3 296.5 560.2 297.5 561.2 298.5 562.3 299.5 563.6 300.5 565.0 301.5 566.5 302.5 568.1 303.5 569.8 304.5 571.6 305.5 573.3 306.5 575.1 307.5 577.0 308.5 579.0 309.5 581.1 310.5 583.4 311.5 585.6 312.5 588.0 313.5 590.5 314.5 593.0 315.5 595.5 316.5 598.0 317.5 600.5 318.5 602.9 319.5 605.3 320.5 607.6 321.5 609.9 322.5 612.2 323.5 614.5 324.5 616.8 325.5 619.1 326.5 621.4 327.5 623.8 328.5 626.3 329.5 628.8 330.5 631.4 331.5 633.9 332.5 636.2 333.5 638.3 334.5 640.1 335.5 641.6 336.5 642.9 337.5 644.0 338.5 645.0 339.5 646.0 340.5 646.8 341.5 647.6 342.5 648.4 343.5 649.1 344.5 649.7 345.5 650.3 346.5 650.8 347.5 651.3 348.5 651.7 349.5 652.1 350.5 652.4 351.5 652.7 352.5 653.0 353.5 653.2 354.5 653.4 355.5 653.5 356.5 653.6 357.5 653.7 358.5 653.8 359.5 653.9 360.5 654.0 361.5 654.1 362.5 654.2 363.5 654.3 364.5 654.4 365.5 654.4 366.5 654.5 367.5 654.5 368.5 654.6 369.5 654.7 370.5 654.7 371.5 654.8 372.5 654.8" stroke="#ff0000"/>
<path d="M72.5 655.6 73.5 655.6 74.5 655.6 75.5 655.6 76.5 655.6 77.5 655.6 78.5 655.6 79.5 655.6 80.5 655.6 81.5 655.6 82.5 655.6 83.5 655.6 84.5 655.6 85.5 655.6 86.5 655.6 87.5 655.6 88.5 655.6 89.5 655.6 90.5 655.6 91.5 655.6 92.5 655.6 93.5 655.6 94.5 655.6 95.5 655.6 96.5 655.6 97.5 655.6 98.5 655.6 99.5 655.6 100.5 655.6 101.5 655.6 102.5 655.6 103.5 655.6 104.5 655.6 105.5 655.6 106.5 655.6 107.5 655.6 108.5 655.6 109.5 655.6 110.5 655.6 111.5 655.6 112.5 655.6 113.5 655.6 114.5 655.6 115.5 655.6 116.5 655.6 117.5 655.6 118.5 655.6 119.5 655.6 120.5 655.6 121.5 655.6 122.5 655.6 123.5 655.6 124.5 655.6 125.5 655.6 126.5 655.6 127.5 655.6 128.5 655.6 129.5 655.6 130.5 655.6 131.5 655.6 132.5 655.6 133.5 655.6 134.5 655.6 135.5 655.6 136.5 655.6 137.5 655.6 138.5 655.6 139.5 655.6 140.5 655.6 141.5 655.6 142.5 655.6 143.5 655.6 144.5 655.6 145.5 655.6 146.5 655.6 147.5 655.6 148.5 655.6 149.5 655.6 150.5 655.6 151.5 655.6 152.5 655.6 153.5 655.6 154.5 655.6 155.5 655.6 156.5 655.6 157.5 655.6 158.5 655.6 159.5 655.6 160.5 655.6 161.5 655.6 162.5 655.5 163.5 655.5 164.5 655.5 165.5 655.5 166.5 655.5 167.5 655.5 168.5 655.5 169.5 655.5 170.5 655.5 171.5 655.4 172.5 655.4 173.5 655.4 174.5 655.4 175.5 655.4 176.5 655.4 177.5 655.4 178.5 655.4 179.5 655.3 180.5 655.3 181.5 655.3 182.5 655.3 183.5 655.3 184.5 655.3 185.5 655.3 186.5 655.3 187.5 655.2 188.5 655.2 189.5 655.2 190.5 655.2 191.5 655.2 192.5 655.1 193.5 655.1 194.5 655.1 195.5 655.1 196.5 655.0 197.5 655.0 198.5 655.0 199.5 654.9 200.5 654.9 201.5 654.8 202.5 654.8 203.5 654.7 204.5 654.7 205.5 654.6 206.5 654.5 207.5 654.5 208.5 654.4 209.5 654.4 210.5 654.3 211.5 654.2 212.5 654.1 213.5 654.1 214.5 654.0 215.5 653.9 216.5 653.8 217.5 653.7 218.5 653.6 219.5 653.5 220.5 653.3 221.5 653.2 222.5 653.0 223.5 652.9 224.5 652.7 225.5 652.5 226.5 652.3 227.5 652.1 228.5 651.9 229.5 651.7 230.5 651.5 231.5 651.3 232.5 651.0 233.5 650.8 234.5 650.5 235.5 650.3 236.5 650.0 237.5 649.8 238.5 649.6 239.5 649.3 240.5 649.0 241.5 648.8 242.5 648.5 243.5 648.2 244.5 647.9 245.5 647.5 246.5 647.2 247.5 646.8 248.5 646.3 249.5 645.8 250.5 645.1 251.5 644.4 252.5 643.5 253.5 642.5 254.5 641.4 255.5 640.1 256.5 638.8 257.5 637.4 258.5 635.9 259.5 634.4 260.5 632.7 261.5 631.0 262.5 629.1 263.5 627.1 264.5 624.9 265.5 622.8 266.5 620.5 267.5 618.2 268.5 615.7 269.5 613.3 270.5 611.0 271.5 608.8 272.5 606.8 273.5 605.0 274.5 603.2 275.5 601.6 276.5 600.2 277.5 599.0 278.5 597.9 279.5 597.1 280.5 596.5 281.5 596.0 282.5 595.6 283.5 595.4 284.5 595.3 285.5 595.3 286.5 595.5 287.5 595.8 288.5 596.3 289.5 596.8 290.5 597.6 291.5 598.5 292.5 599.7 293.5 601.0 294.5 602.6 295.5 604.3 296.5 606.1 297.5 608.0 298.5 610.1 299.5 612.3 300.5 614.7 301.5 617.2 302.5 619.6 303.5 621.9 304.5 624.1 305.5 626.2 306.5 628.3 307.5 630.2 308.5 632.1 309.5 633.7 310.5 635.3 311.5 636.8 312.5 638.3 313.5 639.6 314.5 640.9 315.5 642.0 316.5 643.1 317.5 644.0 318.5 644.8 319.5 645.5 320.5 646.1 321.5 646.6 322.5 647.0 323.5 647.4 324.5 647.7 325.5 648.1 326.5 648.4 327.5 648.7 328.5 648.9 329.5 649.2 330.5 649.5 331.5 649.7 332.5 649.9 333.5 650.2 334.5 650.4 335.5 650.7 336.5 650.9 337.5 651.2 338.5 651.4 339.5 651.6 340.5 651.8 341.5 652.0 342.5 652.2 343.5 652.4 344.5 652.6 345.5 652.8 346.5 653.0 347.5 653.1 348.5 653.3 349.5 653.4 350.5 653.6 351.5 653.7 352.5 653.8 353.5 653.9 354.5 653.9 355.5 654.0 356.5 654.1 357.5 654.2 358.5 654.3 359.5 654.3 360.5 654.4 361.5 654.5 362.5 654.5 363.5 654.6 364.5 654.6 365.5 654.7 366.5 654.8 367.5 654.8 368.5 654.9 369.5 654.9 370.5 654.9 371.5 655.0 372.5 655.0" stroke="#00ff00"/>
<path d="M72.5 655.6 73.5 655.6 74.5 655.6 75.5 655.6 76.5 655.6 77.5 655.6 78.5 655.6 79.5 655.6 80.5 655.6 81.5 655.6 82.5 655.6 83.5 655.6 84.5 655.6 85.5 655.6 86.5 655.6 87.5 655.6 88.5 655.6 89.5 655.6 90.5 655.6 91.5 655.6 92.5 655.6 93.5 655.6 94.5 655.6 95.5 655.6 96.5 655.6 97.5 655.6 98.5 655.6 99.5 655.6 100.5 655.6 101.5 655.6 102.5 655.6 103.5 655.6 104.5 655.6 105.5 655.6 106.5 655.6 107.5 655.6 108.5 655.6 109.5 655.6 110.5 655.6 111.5 655.6 112.5 655.6 113.5 655.6 114.5 655.6 115.5 655.6 116.5 655.6 117.5 655.6 118.5 655.6 119.5 655.6 120.5 655.6 121.5 655.6 122.5 655.6 123.5 655.6 124.5 655.6 125.5 655.6 126.5 655.6 127.5 655.6 128.5 655.6 129.5 655.6 130.5 655.6 131.5 655.6 132.5 655.6 133.5 655.6 134.5 655.6 135.5 655.6 136.5 655.6 137.5 655.6 138.5 655.6 139.5 655.6 140.5 655.6 141.5 655.6 142.5 655.6 143.5 655.6 144.5 655.6 145.5 655.6 146.5 655.6 147.5 655.6 148.5 655.5 149.5 655.5 150.5 655.5 151.5 655.5 152.5 655.5 153.5 655.5 154.5 655.5 155.5 655.5 156.5 655.5 157.5 655.5 158.5 655.5 159.5 655.5 160.5 655.5 161.5 655.4 162.5 655.4 163.5 655.4 164.5 655.4 165.5 655.4 166.5 655.4 167.5 655.4 168.5 655.4 169.5 655.4 170.5 655.4 171.5 655.4 172.5 655.4 173.5 655.3 174.5 655.3 175.5 655.3 176.5 655.3 177.5 655.3 178.5 655.3 179.5 655.3 180.5 655.3 181.5 655.3 182.5 655.3 183.5 655.3 184.5 655.2 185.5 655.2 186.5 655.2 187.5 655.2 188.5 655.2 189.5 655.2 190.5 655.2 191.5 655.2 192.5 655.2 193.5 655.2 194.5 655.2 195.5 655.2 196.5 655.1 197.5 655.1 198.5 655.1 199.5 655.1 200.5 655.1 201.5 655.1 202.5 655.1 203.5 655.1 204.5 655.1 205.5 655.1 206.5 655.1 207.5 655.1 208.5 655.1 209.5 655.1 210.5 655.0 211.5 655.0 212.5 655.0 213.5 655.0 214.5 655.0 215.5 655.0 216.5 655.0 217.5 655.0 218.5 655.0 219.5 655.0 220.5 654.9 221.5 654.9 222.5 654.9 223.5 654.9 224.5 654.9 225.5 654.9 226.5 654.9 227.5 654.8 228.5 654.8 229.5 654.8 230.5 654.8 231.5 654.8 232.5 654.8 233.5 654.7 234.5 654.7 235.5 654.7 236.5 654.6 237.5 654.6 238.5 654.5 239.5 654.4 240.5 654.3 241.5 654.2 242.5 654.0 243.5 653.8 244.5 653.4 245.5 652.9 246.5 652.3 247.5 651.3 248.5 650.1 249.5 648.6 250.5 646.8 251.5 644.8 252.5 642.7 253.5 640.4 254.5 638.0 255.5 635.3 256.5 632.4 257.5 629.4 258.5 626.4 259.5 623.3 260.5 620.2 261.5 617.0 262.5 613.7 263.5 610.4 264.5 607.1 265.5 603.7 266.5 600.3 267.5 597.0 268.5 593.6 269.5 590.3 270.5 587.0 271.5 583.7 272.5 580.4 273.5 577.2 274.5 574.2 275.5 571.3 276.5 568.5 277.5 565.9 278.5 563.6 279.5 561.5 280.5 559.8 281.5 558.5 282.5 557.6 283.5 557.1 284.5 556.8 285.5 556.9 286.5 557.4 287.5 558.1 288.5 559.2 289.5 560.8 290.5 562.7 291.5 565.0 292.5 567.5 293.5 570.1 294.5 573.0 295.5 576.0 296.5 579.1 297.5 582.4 298.5 585.6 299.5 588.9 300.5 592.3 301.5 595.6 302.5 599.0 303.5 602.3 304.5 605.7 305.5 609.1 306.5 612.4 307.5 615.7 308.5 618.9 309.5 622.1 310.5 625.1 311.5 628.2 312.5 631.2 313.5 634.1 314.5 636.9 315.5 639.5 316.5 641.8 317.5 643.9 318.5 646.0 319.5 647.9 320.5 649.5 321.5 650.9 322.5 651.9 323.5 652.7 324.5 653.3 325.5 653.6 326.5 653.9 327.5 654.1 328.5 654.3 329.5 654.4 330.5 654.5 331.5 654.6 332.5 654.6 333.5 654.7 334.5 654.7 335.5 654.7 336.5 654.7 337.5 654.8 338.5 654.8 339.5 654.8 340.5 654.8 341.5 654.8 342.5 654.9 343.5 654.9 344.5 654.9 345.5 654.9 346.5 654.9 347.5 654.9 348.5 654.9 349.5 655.0 350.5 655.0 351.5 655.0 352.5 655.0 353.5 655.0 354.5 655.0 355.5 655.0 356.5 655.0 357.5 655.0 358.5 655.0 359.5 655.0 360.5 655.1 361.5 655.1 362.5 655.1 363.5 655.1 364.5 655.1 365.5 655.1 366.5 655.1 367.5 655.1 368.5 655.1 369.5 655.1 370.5 655.1 371.5 655.1 372.5 655.1" stroke="#0000ff"/>
<path d="M72.5 655.6 73.5 655.6 74.5 655.6 75.5 655.6 76.5 655.6 77.5 655.6 78.5 655.6 79.5 655.6 80.5 655.6 81.5 655.6 82.5 655.6 83.5 655.6 84.5 655.6 85.5 655.6 86.5 655.6 87.5 655.6 88.5 655.6 89.5 655.6 90.5 655.6 91.5 655.6 92.5 655.6 93.5 655.6 94.5 655.6 95.5 655.6 96.5 655.6 97.5 655.6 98.5 655.6 99.5 655.6 100.5 655.6 101.5 655.6 102.5 655.6 103.5 655.6 104.5 655.6 105.5 655.6 106.5 655.6 107.5 655.6 108.5 655.6 109.5 655.6 110.5 655.6 111.5 655.6 112.5 655.6 113.5 655.6 114.5 655.6 115.5 655.6 116.5 655.6 117.5 655.6 118.5 655.6 119.5 655.6 120.5 655.6 121.5 655.6 122.5 655.6 123.5 655.6 124.5 655.6 125.5 655.6 126.5 655.6 127.5 655.6 128.5 655.6 129.5 655.6 130.5 655.6 131.5 655.6 132.5 655.6 133.5 655.6 134.5 655.6 135.5 655.6 136.5 655.6 137.5 655.6 138.5 655.6 139.5 655.6 140.5 655.6 141.5 655.6 142.5 655.6 143.5 655.6 144.5 655.6 145.5 655.6 146.5 655.6 147.5 655.6 148.5 655.6 149.5 655.6 150.5 655.6 151.5 655.6 152.5 655.6 153.5 655.6 154.5 655.5 155.5 655.5 156.5 655.5 157.5 655.5 158.5 655.5 159.5 655.5 160.5 655.5 161.5 655.5 162.5 655.5 163.5 655.5 164.5 655.5 165.5 655.4 166.5 655.4 167.5 655.4 168.5 655.4 169.5 655.4 170.5 655.4 171.5 655.4 172.5 655.4 173.5 655.4 174.5 655.4 175.5 655.3 176.5 655.3 177.5 655.3 178.5 655.3 179.5 655.3 180.5 655.3 181.5 655.3 182.5 655.3 183.5 655.3 184.5 655.3 185.5 655.2 186.5 655.2 187.5 655.2 188.5 655.2 189.5 655.2 190.5 655.2 191.5 655.2 192.5 655.2 193.5 655.2 194.5 655.2 195.5 655.1 196.5 655.1 197.5 655.1 198.5 655.1 199.5 655.1 200.5 655.1 201.5 655.1 202.5 655.1 203.5 655.1 204.5 655.0 205.5 655.0 206.5 655.0 207.5 655.0 208.5 655.0 209.5 655.0 210.5 655.0 211.5 655.0 212.5 654.9 213.5 654.9 214.5 654.9 215.5 654.9 216.5 654.9 217.5 654.9 218.5 654.8 219.5 654.8 220.5 654.8 221.5 654.8 222.5 654.8 223.5 654.7 224.5 654.7 225.5 654.7 226.5 654.7 227.5 654.7 228.5 654.6 229.5 654.6 230.5 654.6 231.5 654.5 232.5 654.5 233.5 654.5 234.5 654.4 235.5 654.4 236.5 654.3 237.5 654.2 238.5 654.1 239.5 653.9 240.5 653.7 241.5 653.4 242.5 652.9 243.5 652.2 244.5 651.3 245.5 650.2 246.5 648.7 247.5 647.0 248.5 644.9 249.5 642.6 250.5 640.1 251.5 637.6 252.5 635.0 253.5 632.4 254.5 629.8 255.5 627.0 256.5 624.1 257.5 621.0 258.5 617.7 259.5 614.2 260.5 610.5 261.5 606.7 262.5 602.8 263.5 598.9 264.5 594.9 265.5 590.8 266.5 586.7 267.5 582.5 268.5 578.1 269.5 573.9 270.5 569.9 271.5 566.3 272.5 563.1 273.5 560.3 274.5 557.4 275.5 554.6 276.5 551.8 277.5 549.1 278.5 546.9 279.5 545.0 280.5 543.7 281.5 542.7 282.5 542.2 283.5 541.8 284.5 541.7 285.5 541.8 286.5 542.0 287.5 542.5 288.5 543.3 289.5 544.4 290.5 546.1 291.5 548.2 292.5 550.7 293.5 553.4 294.5 556.3 295.5 559.1 296.5 562.0 297.5 565.0 298.5 568.4 299.5 572.2 300.5 576.4 301.5 580.7 302.5 585.0 303.5 589.2 304.5 593.3 305.5 597.3 306.5 601.3 307.5 605.2 308.5 609.0 309.5 612.7 310.5 616.3 311.5 619.7 312.5 622.9 313.5 625.9 314.5 628.7 315.5 631.4 316.5 634.0 317.5 636.6 318.5 639.1 319.5 641.6 320.5 644.0 321.5 646.2 322.5 648.1 323.5 649.6 324.5 650.9 325.5 651.9 326.5 652.6 327.5 653.2 328.5 653.6 329.5 653.9 330.5 654.0 331.5 654.2 332.5 654.3 333.5 654.3 334.5 654.4 335.5 654.5 336.5 654.5 337.5 654.5 338.5 654.6 339.5 654.6 340.5 654.6 341.5 654.6 342.5 654.7 343.5 654.7 344.5 654.7 345.5 654.7 346.5 654.8 347.5 654.8 348.5 654.8 349.5 654.8 350.5 654.8 351.5 654.9 352.5 654.9 353.5 654.9 354.5 654.9 355.5 654.9 356.5 654.9 357.5 654.9 358.5 655.0 359.5 655.0 360.5 655.0 361.5 655.0 362.5 655.0 363.5 655.0 364.5 655.0 365.5 655.1 366.5 655.1 367.5 655.1 368.5 655.1 369.5 655.1 370.5 655.1 371.5 655.1 372.5 655.1" stroke="#ff00ff"/>
</g>
<clipPath id="cpf"><rect x="460.90" y="464.00" width="285.60" height="192.40"/></clipPath>
<g clip-path="url(#cpf)" fill="none" stroke-width="2.0" stroke-linejoin="round">
<path d="M459.9 655.4 460.9 655.4 461.9 655.4 462.9 655.4 463.9 655.4 464.9 655.4 465.9 655.4 466.9 655.4 467.9 655.4 468.9 655.4 469.9 655.4 470.9 655.4 471.9 655.4 472.9 655.4 473.9 655.4 474.9 655.4 475.9 655.4 476.9 655.4 477.9 655.4 478.9 655.4 479.9 655.4 480.9 655.4 481.9 655.4 482.9 655.4 483.9 655.4 484.9 655.4 485.9 655.4 486.9 655.4 487.9 655.4 488.9 655.4 489.9 655.4 490.9 655.4 491.9 655.4 492.9 655.4 493.9 655.4 494.9 655.4 495.9 655.4 496.9 655.4 497.9 655.4 498.9 655.4 499.9 655.4 500.9 655.4 501.9 655.4 502.9 655.4 503.9 655.4 504.9 655.4 505.9 655.4 506.9 655.4 507.9 655.4 508.9 655.4 509.9 655.4 510.9 655.4 511.9 655.4 512.9 655.4 513.9 655.4 514.9 655.4 515.9 655.4 516.9 655.4 517.9 655.4 518.9 655.4 519.9 655.4 520.9 655.3 521.9 655.3 522.9 655.3 523.9 655.2 524.9 655.2 525.9 655.2 526.9 655.1 527.9 655.1 528.9 655.0 529.9 655.0 530.9 654.9 531.9 654.9 532.9 654.8 533.9 654.7 534.9 654.6 535.9 654.5 536.9 654.4 537.9 654.2 538.9 654.1 539.9 653.9 540.9 653.8 541.9 653.6 542.9 653.5 543.9 653.3 544.9 653.2 545.9 653.0 546.9 652.8 547.9 652.7 548.9 652.5 549.9 652.3 550.9 652.1 551.9 651.9 552.9 651.6 553.9 651.4 554.9 651.2 555.9 650.9 556.9 650.6 557.9 650.3 558.9 650.0 559.9 649.7 560.9 649.3 561.9 648.9 562.9 648.5 563.9 648.1 564.9 647.7 565.9 647.3 566.9 646.9 567.9 646.5 568.9 646.0 569.9 645.6 570.9 645.1 571.9 644.7 572.9 644.3 573.9 644.1 574.9 643.9 575.9 643.7 576.9 643.6 577.9 643.5 578.9 643.4 579.9 643.3 580.9 643.4 581.9 643.5 582.9 643.9 583.9 644.4 584.9 645.0 585.9 645.7 586.9 646.4 587.9 647.1 588.9 647.8 589.9 648.6 590.9 649.5 591.9 650.4 592.9 651.2 593.9 651.9 594.9 652.5 595.9 653.1 596.9 653.7 597.9 654.2 598.9 654.7 599.9 655.1 600.9 655.4 601.9 655.4 602.9 655.4 603.9 655.4 604.9 655.0 605.9 654.3 606.9 653.4 607.9 652.4 608.9 651.1 609.9 649.7 610.9 648.2 611.9 646.5 612.9 644.9 613.9 643.2 614.9 641.6 615.9 640.0 616.9 638.6 617.9 637.2 618.9 636.0 619.9 635.0 620.9 634.2 621.9 633.7 622.9 633.2 623.9 632.9 624.9 632.8 625.9 632.8 626.9 633.1 627.9 633.5 628.9 634.0 629.9 634.6 630.9 635.5 631.9 636.7 632.9 638.0 633.9 639.5 634.9 641.0 635.9 642.6 636.9 644.2 637.9 645.9 638.9 647.5 639.9 649.1 640.9 650.5 641.9 651.9 642.9 653.0 643.9 653.9 644.9 654.7 645.9 655.3 646.9 655.4 647.9 655.4 648.9 655.4 649.9 655.3 650.9 654.9 651.9 654.4 652.9 653.9 653.9 653.3 654.9 652.7 655.9 652.1 656.9 651.4 657.9 650.7 658.9 649.9 659.9 649.0 660.9 648.1 661.9 647.4 662.9 646.6 663.9 646.0 664.9 645.3 665.9 644.7 666.9 644.1 667.9 643.7 668.9 643.4 669.9 643.3 670.9 643.4 671.9 643.4 672.9 643.5 673.9 643.7 674.9 643.8 675.9 644.0 676.9 644.2 677.9 644.5 678.9 644.9 679.9 645.4 680.9 645.9 681.9 646.3 682.9 646.7 683.9 647.1 684.9 647.5 685.9 648.0 686.9 648.4 687.9 648.8 688.9 649.2 689.9 649.5 690.9 649.9 691.9 650.2 692.9 650.5 693.9 650.8 694.9 651.1 695.9 651.3 696.9 651.5 697.9 651.8 698.9 652.0 699.9 652.2 700.9 652.4 701.9 652.6 702.9 652.8 703.9 652.9 704.9 653.1 705.9 653.3 706.9 653.4 707.9 653.6 708.9 653.7 709.9 653.9 710.9 654.0 711.9 654.2 712.9 654.3 713.9 654.4 714.9 654.6 715.9 654.7 716.9 654.8 717.9 654.9 718.9 654.9 719.9 655.0 720.9 655.0 721.9 655.1 722.9 655.1 723.9 655.1 724.9 655.2 725.9 655.2 726.9 655.3 727.9 655.3 728.9 655.3 729.9 655.4 730.9 655.4 731.9 655.4 732.9 655.4 733.9 655.4 734.9 655.4 735.9 655.4 736.9 655.4 737.9 655.4 738.9 655.4 739.9 655.4 740.9 655.4 741.9 655.4 742.9 655.4 743.9 655.4 744.9 655.4 745.9 655.4 746.9 655.4" stroke="#000000"/>
<path d="M459.9 655.4 460.9 655.4 461.9 655.4 462.9 655.4 463.9 655.4 464.9 655.4 465.9 655.4 466.9 655.4 467.9 655.4 468.9 655.4 469.9 655.4 470.9 655.4 471.9 655.4 472.9 655.4 473.9 655.4 474.9 655.4 475.9 655.4 476.9 655.4 477.9 655.4 478.9 655.4 479.9 655.4 480.9 655.4 481.9 655.4 482.9 655.4 483.9 655.4 484.9 655.4 485.9 655.4 486.9 655.4 487.9 655.4 488.9 655.4 489.9 655.4 490.9 655.4 491.9 655.4 492.9 655.4 493.9 655.4 494.9 655.4 495.9 655.4 496.9 655.4 497.9 655.4 498.9 655.4 499.9 655.4 500.9 655.4 501.9 655.4 502.9 655.4 503.9 655.4 504.9 655.4 505.9 655.4 506.9 655.4 507.9 655.4 508.9 655.4 509.9 655.4 510.9 655.4 511.9 655.4 512.9 655.4 513.9 655.4 514.9 655.4 515.9 655.4 516.9 655.4 517.9 655.4 518.9 655.4 519.9 655.4 520.9 655.4 521.9 655.4 522.9 655.4 523.9 655.3 524.9 655.3 525.9 655.3 526.9 655.2 527.9 655.2 528.9 655.2 529.9 655.1 530.9 655.1 531.9 655.0 532.9 654.9 533.9 654.9 534.9 654.8 535.9 654.7 536.9 654.7 537.9 654.6 538.9 654.5 539.9 654.4 540.9 654.3 541.9 654.2 542.9 654.1 543.9 654.0 544.9 653.9 545.9 653.7 546.9 653.6 547.9 653.4 548.9 653.2 549.9 653.0 550.9 652.8 551.9 652.5 552.9 652.3 553.9 652.1 554.9 651.8 555.9 651.5 556.9 651.2 557.9 650.9 558.9 650.5 559.9 650.1 560.9 649.6 561.9 649.1 562.9 648.7 563.9 648.2 564.9 647.6 565.9 647.1 566.9 646.5 567.9 645.8 568.9 645.2 569.9 644.5 570.9 643.9 571.9 643.4 572.9 642.9 573.9 642.5 574.9 642.1 575.9 641.7 576.9 641.4 577.9 641.1 578.9 640.9 579.9 640.8 580.9 640.8 581.9 640.8 582.9 640.8 583.9 640.8 584.9 640.8 585.9 640.8 586.9 640.8 587.9 640.8 588.9 640.8 589.9 640.7 590.9 640.6 591.9 640.4 592.9 640.2 593.9 639.9 594.9 639.3 595.9 638.5 596.9 637.3 597.9 635.9 598.9 634.1 599.9 631.8 600.9 629.0 601.9 626.0 602.9 622.9 603.9 619.7 604.9 616.4 605.9 612.9 606.9 609.4 607.9 605.8 608.9 602.0 609.9 598.3 610.9 594.7 611.9 591.3 612.9 588.3 613.9 585.4 614.9 582.8 615.9 580.5 616.9 578.5 617.9 576.8 618.9 575.3 619.9 574.0 620.9 573.0 621.9 572.1 622.9 571.4 623.9 570.9 624.9 570.6 625.9 570.7 626.9 571.2 627.9 571.8 628.9 572.6 629.9 573.6 630.9 574.7 631.9 576.2 632.9 577.8 633.9 579.7 634.9 581.8 635.9 584.3 636.9 587.1 637.9 590.1 638.9 593.3 639.9 596.8 640.9 600.5 641.9 604.3 642.9 608.0 643.9 611.5 644.9 615.0 645.9 618.4 646.9 621.6 647.9 624.7 648.9 627.8 649.9 630.7 650.9 633.3 651.9 635.3 652.9 636.8 653.9 638.0 654.9 639.0 655.9 639.7 656.9 640.1 657.9 640.3 658.9 640.5 659.9 640.6 660.9 640.7 661.9 640.8 662.9 640.8 663.9 640.8 664.9 640.8 665.9 640.8 666.9 640.8 667.9 640.8 668.9 640.8 669.9 640.8 670.9 640.9 671.9 641.0 672.9 641.3 673.9 641.6 674.9 642.0 675.9 642.4 676.9 642.8 677.9 643.2 678.9 643.7 679.9 644.3 680.9 644.9 681.9 645.6 682.9 646.2 683.9 646.8 684.9 647.4 685.9 648.0 686.9 648.5 687.9 648.9 688.9 649.4 689.9 649.9 690.9 650.3 691.9 650.7 692.9 651.1 693.9 651.4 694.9 651.7 695.9 652.0 696.9 652.2 697.9 652.5 698.9 652.7 699.9 652.9 700.9 653.1 701.9 653.3 702.9 653.5 703.9 653.7 704.9 653.8 705.9 654.0 706.9 654.1 707.9 654.2 708.9 654.3 709.9 654.4 710.9 654.5 711.9 654.6 712.9 654.6 713.9 654.7 714.9 654.8 715.9 654.9 716.9 654.9 717.9 655.0 718.9 655.0 719.9 655.1 720.9 655.1 721.9 655.2 722.9 655.2 723.9 655.3 724.9 655.3 725.9 655.3 726.9 655.3 727.9 655.4 728.9 655.4 729.9 655.4 730.9 655.4 731.9 655.4 732.9 655.4 733.9 655.4 734.9 655.4 735.9 655.4 736.9 655.4 737.9 655.4 738.9 655.4 739.9 655.4 740.9 655.4 741.9 655.4 742.9 655.4 743.9 655.4 744.9 655.4 745.9 655.4 746.9 655.4" stroke="#ff0000"/>
<path d="M459.9 655.4 460.9 655.4 461.9 655.4 462.9 655.4 463.9 655.4 464.9 655.4 465.9 655.4 466.9 655.4 467.9 655.4 468.9 655.4 469.9 655.4 470.9 655.4 471.9 655.4 472.9 655.4 473.9 655.4 474.9 655.4 475.9 655.4 476.9 655.4 477.9 655.4 478.9 655.4 479.9 655.4 480.9 655.4 481.9 655.4 482.9 655.4 483.9 655.4 484.9 655.4 485.9 655.4 486.9 655.4 487.9 655.4 488.9 655.4 489.9 655.4 490.9 655.4 491.9 655.4 492.9 655.4 493.9 655.4 494.9 655.4 495.9 655.4 496.9 655.4 497.9 655.4 498.9 655.4 499.9 655.4 500.9 655.4 501.9 655.4 502.9 655.4 503.9 655.4 504.9 655.4 505.9 655.4 506.9 655.4 507.9 655.4 508.9 655.4 509.9 655.4 510.9 655.4 511.9 655.4 512.9 655.4 513.9 655.4 514.9 655.4 515.9 655.4 516.9 655.4 517.9 655.4 518.9 655.4 519.9 655.4 520.9 655.4 521.9 655.4 522.9 655.3 523.9 655.3 524.9 655.3 525.9 655.3 526.9 655.3 527.9 655.2 528.9 655.2 529.9 655.1 530.9 655.1 531.9 655.0 532.9 655.0 533.9 654.9 534.9 654.9 535.9 654.8 536.9 654.7 537.9 654.7 538.9 654.6 539.9 654.5 540.9 654.4 541.9 654.3 542.9 654.2 543.9 654.1 544.9 654.0 545.9 653.8 546.9 653.6 547.9 653.4 548.9 653.2 549.9 653.0 550.9 652.8 551.9 652.5 552.9 652.3 553.9 652.0 554.9 651.8 555.9 651.5 556.9 651.3 557.9 651.0 558.9 650.7 559.9 650.4 560.9 650.1 561.9 649.7 562.9 649.3 563.9 648.9 564.9 648.4 565.9 647.8 566.9 647.1 567.9 646.2 568.9 645.2 569.9 644.2 570.9 643.2 571.9 642.1 572.9 641.0 573.9 639.9 574.9 638.6 575.9 637.3 576.9 635.9 577.9 634.2 578.9 632.4 579.9 630.5 580.9 628.4 581.9 626.2 582.9 623.9 583.9 621.6 584.9 619.3 585.9 616.8 586.9 614.3 587.9 611.6 588.9 608.9 589.9 606.1 590.9 603.2 591.9 600.2 592.9 597.2 593.9 594.1 594.9 590.9 595.9 587.7 596.9 584.5 597.9 581.2 598.9 577.9 599.9 574.6 600.9 571.3 601.9 567.9 602.9 564.5 603.9 561.2 604.9 558.0 605.9 554.9 606.9 551.9 607.9 548.9 608.9 546.0 609.9 543.1 610.9 540.3 611.9 537.7 612.9 535.3 613.9 533.3 614.9 531.4 615.9 529.7 616.9 528.1 617.9 526.8 618.9 525.8 619.9 525.0 620.9 524.4 621.9 523.8 622.9 523.3 623.9 523.0 624.9 522.9 625.9 522.9 626.9 523.2 627.9 523.6 628.9 524.1 629.9 524.8 630.9 525.5 631.9 526.4 632.9 527.6 633.9 529.0 634.9 530.7 635.9 532.5 636.9 534.5 637.9 536.7 638.9 539.2 639.9 542.0 640.9 544.9 641.9 547.8 642.9 550.7 643.9 553.7 644.9 556.8 645.9 559.9 646.9 563.2 647.9 566.5 648.9 569.9 649.9 573.3 650.9 576.6 651.9 579.9 652.9 583.2 653.9 586.5 654.9 589.7 655.9 592.8 656.9 595.9 657.9 599.0 658.9 602.0 659.9 605.0 660.9 607.8 661.9 610.6 662.9 613.2 663.9 615.8 664.9 618.3 665.9 620.7 666.9 623.0 667.9 625.3 668.9 627.5 669.9 629.6 670.9 631.7 671.9 633.5 672.9 635.2 673.9 636.7 674.9 638.1 675.9 639.4 676.9 640.6 677.9 641.7 678.9 642.8 679.9 643.8 680.9 644.8 681.9 645.8 682.9 646.7 683.9 647.5 684.9 648.2 685.9 648.7 686.9 649.2 687.9 649.6 688.9 650.0 689.9 650.3 690.9 650.6 691.9 650.9 692.9 651.2 693.9 651.4 694.9 651.7 695.9 651.9 696.9 652.2 697.9 652.4 698.9 652.7 699.9 652.9 700.9 653.1 701.9 653.4 702.9 653.6 703.9 653.7 704.9 653.9 705.9 654.0 706.9 654.2 707.9 654.3 708.9 654.4 709.9 654.5 710.9 654.6 711.9 654.6 712.9 654.7 713.9 654.8 714.9 654.8 715.9 654.9 716.9 655.0 717.9 655.0 718.9 655.1 719.9 655.1 720.9 655.2 721.9 655.2 722.9 655.2 723.9 655.3 724.9 655.3 725.9 655.3 726.9 655.3 727.9 655.4 728.9 655.4 729.9 655.4 730.9 655.4 731.9 655.4 732.9 655.4 733.9 655.4 734.9 655.4 735.9 655.4 736.9 655.4 737.9 655.4 738.9 655.4 739.9 655.4 740.9 655.4 741.9 655.4 742.9 655.4 743.9 655.4 744.9 655.4 745.9 655.4 746.9 655.4" stroke="#00ff00"/>
<path d="M459.9 655.4 460.9 655.4 461.9 655.4 462.9 655.4 463.9 655.4 464.9 655.4 465.9 655.4 466.9 655.4 467.9 655.4 468.9 655.4 469.9 655.4 470.9 655.4 471.9 655.4 472.9 655.4 473.9 655.4 474.9 655.4 475.9 655.4 476.9 655.4 477.9 655.4 478.9 655.4 479.9 655.4 480.9 655.4 481.9 655.4 482.9 655.4 483.9 655.4 484.9 655.4 485.9 655.4 486.9 655.4 487.9 655.4 488.9 655.4 489.9 655.4 490.9 655.4 491.9 655.4 492.9 655.4 493.9 655.4 494.9 655.4 495.9 655.4 496.9 655.4 497.9 655.4 498.9 655.4 499.9 655.4 500.9 655.4 501.9 655.4 502.9 655.4 503.9 655.4 504.9 655.4 505.9 655.4 506.9 655.4 507.9 655.4 508.9 655.4 509.9 655.4 510.9 655.4 511.9 655.4 512.9 655.4 513.9 655.4 514.9 655.4 515.9 655.4 516.9 655.4 517.9 655.4 518.9 655.4 519.9 655.4 520.9 655.4 521.9 655.4 522.9 655.3 523.9 655.3 524.9 655.3 525.9 655.3 526.9 655.2 527.9 655.2 528.9 655.2 529.9 655.1 530.9 655.1 531.9 655.0 532.9 654.9 533.9 654.9 534.9 654.8 535.9 654.7 536.9 654.6 537.9 654.5 538.9 654.4 539.9 654.3 540.9 654.2 541.9 654.1 542.9 654.0 543.9 653.9 544.9 653.7 545.9 653.6 546.9 653.4 547.9 653.2 548.9 653.0 549.9 652.8 550.9 652.6 551.9 652.4 552.9 652.1 553.9 651.9 554.9 651.6 555.9 651.3 556.9 651.0 557.9 650.7 558.9 650.4 559.9 650.1 560.9 649.7 561.9 649.3 562.9 648.9 563.9 648.4 564.9 647.8 565.9 647.2 566.9 646.3 567.9 645.4 568.9 644.4 569.9 643.2 570.9 642.1 571.9 640.9 572.9 639.7 573.9 638.3 574.9 636.9 575.9 635.4 576.9 633.8 577.9 632.0 578.9 630.2 579.9 628.1 580.9 626.0 581.9 623.7 582.9 621.4 583.9 619.0 584.9 616.5 585.9 613.8 586.9 611.1 587.9 608.5 588.9 605.9 589.9 603.5 590.9 601.2 591.9 598.9 592.9 596.5 593.9 594.0 594.9 591.3 595.9 588.5 596.9 585.9 597.9 583.5 598.9 581.6 599.9 579.9 600.9 578.4 601.9 577.0 602.9 575.8 603.9 574.8 604.9 573.9 605.9 573.2 606.9 572.4 607.9 571.8 608.9 571.2 609.9 570.7 610.9 570.3 611.9 570.0 612.9 569.7 613.9 569.4 614.9 569.1 615.9 568.9 616.9 568.7 617.9 568.6 618.9 568.5 619.9 568.5 620.9 568.5 621.9 568.4 622.9 568.4 623.9 568.4 624.9 568.4 625.9 568.4 626.9 568.4 627.9 568.4 628.9 568.4 629.9 568.5 630.9 568.5 631.9 568.6 632.9 568.7 633.9 568.8 634.9 569.0 635.9 569.3 636.9 569.5 637.9 569.8 638.9 570.2 639.9 570.5 640.9 571.0 641.9 571.5 642.9 572.2 643.9 572.9 644.9 573.6 645.9 574.5 646.9 575.4 647.9 576.5 648.9 577.8 649.9 579.3 650.9 580.9 651.9 582.7 652.9 584.9 653.9 587.4 654.9 590.2 655.9 593.0 656.9 595.6 657.9 598.0 658.9 600.3 659.9 602.6 660.9 605.0 661.9 607.5 662.9 610.1 663.9 612.8 664.9 615.4 665.9 618.0 666.9 620.5 667.9 622.8 668.9 625.1 669.9 627.3 670.9 629.4 671.9 631.3 672.9 633.1 673.9 634.8 674.9 636.3 675.9 637.8 676.9 639.1 677.9 640.4 678.9 641.6 679.9 642.8 680.9 643.9 681.9 645.0 682.9 646.0 683.9 646.8 684.9 647.6 685.9 648.2 686.9 648.7 687.9 649.1 688.9 649.6 689.9 649.9 690.9 650.3 691.9 650.6 692.9 650.9 693.9 651.2 694.9 651.5 695.9 651.8 696.9 652.0 697.9 652.3 698.9 652.5 699.9 652.7 700.9 652.9 701.9 653.1 702.9 653.3 703.9 653.5 704.9 653.7 705.9 653.8 706.9 654.0 707.9 654.1 708.9 654.2 709.9 654.3 710.9 654.4 711.9 654.5 712.9 654.6 713.9 654.7 714.9 654.7 715.9 654.8 716.9 654.9 717.9 655.0 718.9 655.0 719.9 655.1 720.9 655.1 721.9 655.2 722.9 655.2 723.9 655.3 724.9 655.3 725.9 655.3 726.9 655.3 727.9 655.4 728.9 655.4 729.9 655.4 730.9 655.4 731.9 655.4 732.9 655.4 733.9 655.4 734.9 655.4 735.9 655.4 736.9 655.4 737.9 655.4 738.9 655.4 739.9 655.4 740.9 655.4 741.9 655.4 742.9 655.4 743.9 655.4 744.9 655.4 745.9 655.4 746.9 655.4" stroke="#0000ff"/>
<path d="M459.9 655.4 460.9 655.4 461.9 655.4 462.9 655.4 463.9 655.4 464.9 655.4 465.9 655.4 466.9 655.4 467.9 655.4 468.9 655.4 469.9 655.4 470.9 655.4 471.9 655.4 472.9 655.4 473.9 655.4 474.9 655.4 475.9 655.4 476.9 655.4 477.9 655.4 478.9 655.4 479.9 655.4 480.9 655.4 481.9 655.4 482.9 655.4 483.9 655.4 484.9 655.4 485.9 655.4 486.9 655.4 487.9 655.4 488.9 655.4 489.9 655.4 490.9 655.4 491.9 655.4 492.9 655.4 493.9 655.4 494.9 655.4 495.9 655.4 496.9 655.4 497.9 655.4 498.9 655.4 499.9 655.4 500.9 655.4 501.9 655.4 502.9 655.4 503.9 655.4 504.9 655.4 505.9 655.4 506.9 655.4 507.9 655.4 508.9 655.4 509.9 655.4 510.9 655.4 511.9 655.4 512.9 655.4 513.9 655.4 514.9 655.4 515.9 655.4 516.9 655.4 517.9 655.4 518.9 655.3 519.9 655.3 520.9 655.3 521.9 655.3 522.9 655.3 523.9 655.2 524.9 655.2 525.9 655.2 526.9 655.1 527.9 655.1 528.9 655.1 529.9 655.0 530.9 654.9 531.9 654.9 532.9 654.8 533.9 654.7 534.9 654.7 535.9 654.6 536.9 654.5 537.9 654.4 538.9 654.3 539.9 654.2 540.9 654.1 541.9 654.0 542.9 653.9 543.9 653.8 544.9 653.6 545.9 653.5 546.9 653.3 547.9 653.1 548.9 652.9 549.9 652.7 550.9 652.5 551.9 652.3 552.9 652.0 553.9 651.8 554.9 651.5 555.9 651.2 556.9 650.9 557.9 650.6 558.9 650.3 559.9 650.0 560.9 649.6 561.9 649.2 562.9 648.7 563.9 648.2 564.9 647.6 565.9 646.9 566.9 646.1 567.9 645.1 568.9 644.0 569.9 642.9 570.9 641.7 571.9 640.4 572.9 639.1 573.9 637.6 574.9 636.1 575.9 634.5 576.9 632.8 577.9 631.0 578.9 629.2 579.9 627.2 580.9 625.1 581.9 623.0 582.9 620.9 583.9 618.8 584.9 616.5 585.9 614.3 586.9 612.0 587.9 609.7 588.9 607.3 589.9 604.9 590.9 602.5 591.9 600.0 592.9 597.8 593.9 596.0 594.9 594.3 595.9 592.9 596.9 591.6 597.9 590.6 598.9 589.8 599.9 589.1 600.9 588.4 601.9 587.9 602.9 587.5 603.9 587.1 604.9 586.8 605.9 586.6 606.9 586.4 607.9 586.2 608.9 586.1 609.9 585.9 610.9 585.9 611.9 585.8 612.9 585.8 613.9 585.7 614.9 585.7 615.9 585.6 616.9 585.6 617.9 585.6 618.9 585.6 619.9 585.5 620.9 585.5 621.9 585.5 622.9 585.5 623.9 585.5 624.9 585.5 625.9 585.5 626.9 585.5 627.9 585.5 628.9 585.5 629.9 585.5 630.9 585.6 631.9 585.6 632.9 585.6 633.9 585.6 634.9 585.7 635.9 585.7 636.9 585.7 637.9 585.8 638.9 585.8 639.9 585.9 640.9 586.0 641.9 586.2 642.9 586.3 643.9 586.5 644.9 586.7 645.9 587.0 646.9 587.3 647.9 587.7 648.9 588.2 649.9 588.8 650.9 589.5 651.9 590.3 652.9 591.2 653.9 592.4 654.9 593.7 655.9 595.3 656.9 597.1 657.9 599.1 658.9 601.5 659.9 603.9 660.9 606.4 661.9 608.7 662.9 611.1 663.9 613.4 664.9 615.6 665.9 617.9 666.9 620.1 667.9 622.2 668.9 624.3 669.9 626.4 670.9 628.4 671.9 630.3 672.9 632.1 673.9 633.8 674.9 635.5 675.9 637.0 676.9 638.5 677.9 639.9 678.9 641.2 679.9 642.4 680.9 643.6 681.9 644.7 682.9 645.7 683.9 646.6 684.9 647.4 685.9 648.0 686.9 648.5 687.9 649.0 688.9 649.4 689.9 649.8 690.9 650.2 691.9 650.5 692.9 650.8 693.9 651.1 694.9 651.4 695.9 651.7 696.9 651.9 697.9 652.2 698.9 652.4 699.9 652.6 700.9 652.8 701.9 653.1 702.9 653.2 703.9 653.4 704.9 653.6 705.9 653.7 706.9 653.9 707.9 654.0 708.9 654.1 709.9 654.2 710.9 654.3 711.9 654.4 712.9 654.5 713.9 654.6 714.9 654.6 715.9 654.7 716.9 654.8 717.9 654.9 718.9 654.9 719.9 655.0 720.9 655.0 721.9 655.1 722.9 655.1 723.9 655.2 724.9 655.2 725.9 655.2 726.9 655.2 727.9 655.3 728.9 655.3 729.9 655.3 730.9 655.3 731.9 655.4 732.9 655.4 733.9 655.4 734.9 655.4 735.9 655.4 736.9 655.4 737.9 655.4 738.9 655.4 739.9 655.4 740.9 655.4 741.9 655.4 742.9 655.4 743.9 655.4 744.9 655.4 745.9 655.4 746.9 655.4" stroke="#ff00ff"/>
</g>
<clipPath id="cpg"><rect x="73.50" y="680.00" width="298.20" height="192.80"/></clipPath>
<g clip-path="url(#cpg)" fill="none" stroke-width="2.0" stroke-linejoin="round">
<path d="M72.5 871.8 73.5 871.8 74.5 871.8 75.5 871.8 76.5 871.8 77.5 871.8 78.5 871.8 79.5 871.8 80.5 871.8 81.5 871.8 82.5 871.8 83.5 871.8 84.5 871.8 85.5 871.8 86.5 871.8 87.5 871.8 88.5 871.8 89.5 871.8 90.5 871.8 91.5 871.8 92.5 871.8 93.5 871.8 94.5 871.8 95.5 871.8 96.5 871.8 97.5 871.8 98.5 871.8 99.5 871.8 100.5 871.8 101.5 871.8 102.5 871.8 103.5 871.8 104.5 871.8 105.5 871.8 106.5 871.8 107.5 871.8 108.5 871.8 109.5 871.8 110.5 871.8 111.5 871.8 112.5 871.8 113.5 871.8 114.5 871.8 115.5 871.8 116.5 871.8 117.5 871.8 118.5 871.8 119.5 871.8 120.5 871.8 121.5 871.8 122.5 871.8 123.5 871.8 124.5 871.8 125.5 871.8 126.5 871.8 127.5 871.8 128.5 871.8 129.5 871.8 130.5 871.8 131.5 871.8 132.5 871.8 133.5 871.8 134.5 871.8 135.5 871.8 136.5 871.8 137.5 871.8 138.5 871.8 139.5 871.8 140.5 871.8 141.5 871.8 142.5 871.8 143.5 871.8 144.5 871.8 145.5 871.8 146.5 871.8 147.5 871.8 148.5 871.8 149.5 871.8 150.5 871.8 151.5 871.8 152.5 871.8 153.5 871.8 154.5 871.8 155.5 871.8 156.5 871.8 157.5 871.8 158.5 871.8 159.5 871.8 160.5 871.8 161.5 871.8 162.5 871.8 163.5 871.8 164.5 871.8 165.5 871.8 166.5 871.8 167.5 871.8 168.5 871.8 169.5 871.8 170.5 871.8 171.5 871.8 172.5 871.8 173.5 871.8 174.5 871.8 175.5 871.8 176.5 871.8 177.5 871.8 178.5 871.8 179.5 871.8 180.5 871.8 181.5 871.8 182.5 871.8 183.5 871.8 184.5 871.8 185.5 871.8 186.5 871.8 187.5 871.8 188.5 871.8 189.5 871.8 190.5 871.8 191.5 871.8 192.5 871.8 193.5 871.7 194.5 871.7 195.5 871.7 196.5 871.7 197.5 871.6 198.5 871.6 199.5 871.5 200.5 871.5 201.5 871.4 202.5 871.4 203.5 871.3 204.5 871.3 205.5 871.2 206.5 871.1 207.5 871.0 208.5 871.0 209.5 870.9 210.5 870.8 211.5 870.7 212.5 870.6 213.5 870.5 214.5 870.4 215.5 870.2 216.5 870.1 217.5 869.9 218.5 869.7 219.5 869.3 220.5 869.0 221.5 868.5 222.5 868.0 223.5 867.4 224.5 866.8 225.5 866.0 226.5 865.0 227.5 863.8 228.5 862.5 229.5 861.0 230.5 859.5 231.5 857.8 232.5 856.1 233.5 854.2 234.5 852.2 235.5 850.0 236.5 847.7 237.5 845.2 238.5 842.4 239.5 839.5 240.5 836.5 241.5 833.2 242.5 829.8 243.5 826.3 244.5 822.6 245.5 818.8 246.5 814.9 247.5 811.0 248.5 807.0 249.5 803.1 250.5 799.1 251.5 795.2 252.5 791.3 253.5 787.5 254.5 783.7 255.5 780.0 256.5 776.1 257.5 772.1 258.5 768.0 259.5 763.6 260.5 759.2 261.5 755.0 262.5 750.8 263.5 746.8 264.5 743.0 265.5 739.3 266.5 735.7 267.5 732.3 268.5 728.9 269.5 725.7 270.5 722.8 271.5 720.0 272.5 717.6 273.5 715.3 274.5 713.2 275.5 711.3 276.5 709.6 277.5 708.1 278.5 706.7 279.5 705.6 280.5 704.6 281.5 704.0 282.5 703.6 283.5 703.3 284.5 703.2 285.5 703.2 286.5 703.4 287.5 703.7 288.5 704.2 289.5 705.0 290.5 706.0 291.5 707.2 292.5 708.7 293.5 710.3 294.5 712.1 295.5 714.0 296.5 716.2 297.5 718.5 298.5 721.1 299.5 723.9 300.5 727.0 301.5 730.2 302.5 733.6 303.5 737.1 304.5 740.7 305.5 744.5 306.5 748.4 307.5 752.4 308.5 756.7 309.5 761.0 310.5 765.4 311.5 769.7 312.5 773.8 313.5 777.7 314.5 781.5 315.5 785.2 316.5 789.0 317.5 792.8 318.5 796.7 319.5 800.7 320.5 804.7 321.5 808.6 322.5 812.6 323.5 816.5 324.5 820.3 325.5 824.1 326.5 827.7 327.5 831.2 328.5 834.5 329.5 837.7 330.5 840.7 331.5 843.5 332.5 846.2 333.5 848.6 334.5 850.9 335.5 853.0 336.5 855.0 337.5 856.8 338.5 858.5 339.5 860.1 340.5 861.6 341.5 863.0 342.5 864.3 343.5 865.4 344.5 866.3 345.5 867.1 346.5 867.7 347.5 868.2 348.5 868.7 349.5 869.1 350.5 869.5 351.5 869.8 352.5 870.0 353.5 870.1 354.5 870.3 355.5 870.4 356.5 870.5 357.5 870.6 358.5 870.7 359.5 870.8 360.5 870.9 361.5 871.0 362.5 871.1 363.5 871.2 364.5 871.2 365.5 871.3 366.5 871.4 367.5 871.4 368.5 871.5 369.5 871.5 370.5 871.6 371.5 871.6 372.5 871.6" stroke="#000000"/>
<path d="M72.5 871.8 73.5 871.8 74.5 871.8 75.5 871.8 76.5 871.8 77.5 871.8 78.5 871.8 79.5 871.8 80.5 871.8 81.5 871.8 82.5 871.8 83.5 871.8 84.5 871.8 85.5 871.8 86.5 871.8 87.5 871.8 88.5 871.8 89.5 871.8 90.5 871.8 91.5 871.8 92.5 871.8 93.5 871.8 94.5 871.8 95.5 871.8 96.5 871.8 97.5 871.8 98.5 871.8 99.5 871.8 100.5 871.8 101.5 871.8 102.5 871.8 103.5 871.8 104.5 871.8 105.5 871.8 106.5 871.8 107.5 871.8 108.5 871.8 109.5 871.8 110.5 871.8 111.5 871.8 112.5 871.8 113.5 871.8 114.5 871.8 115.5 871.8 116.5 871.8 117.5 871.8 118.5 871.8 119.5 871.8 120.5 871.8 121.5 871.8 122.5 871.8 123.5 871.8 124.5 871.8 125.5 871.8 126.5 871.8 127.5 871.8 128.5 871.8 129.5 871.8 130.5 871.8 131.5 871.8 132.5 871.8 133.5 871.8 134.5 871.8 135.5 871.8 136.5 871.8 137.5 871.8 138.5 871.8 139.5 871.8 140.5 871.8 141.5 871.8 142.5 871.8 143.5 871.8 144.5 871.8 145.5 871.8 146.5 871.8 147.5 871.8 148.5 871.8 149.5 871.8 150.5 871.8 151.5 871.8 152.5 871.8 153.5 871.8 154.5 871.8 155.5 871.8 156.5 871.8 157.5 871.8 158.5 871.8 159.5 871.8 160.5 871.8 161.5 871.8 162.5 871.8 163.5 871.8 164.5 871.8 165.5 871.8 166.5 871.8 167.5 871.8 168.5 871.8 169.5 871.8 170.5 871.8 171.5 871.8 172.5 871.8 173.5 871.8 174.5 871.8 175.5 871.8 176.5 871.8 177.5 871.8 178.5 871.8 179.5 871.8 180.5 871.8 181.5 871.8 182.5 871.8 183.5 871.8 184.5 871.8 185.5 871.8 186.5 871.8 187.5 871.8 188.5 871.8 189.5 871.8 190.5 871.8 191.5 871.8 192.5 871.8 193.5 871.7 194.5 871.7 195.5 871.7 196.5 871.7 197.5 871.6 198.5 871.6 199.5 871.5 200.5 871.5 201.5 871.4 202.5 871.4 203.5 871.3 204.5 871.2 205.5 871.2 206.5 871.1 207.5 871.0 208.5 870.9 209.5 870.8 210.5 870.7 211.5 870.6 212.5 870.5 213.5 870.4 214.5 870.2 215.5 870.1 216.5 870.0 217.5 869.8 218.5 869.7 219.5 869.5 220.5 869.3 221.5 869.1 222.5 868.9 223.5 868.6 224.5 868.3 225.5 867.8 226.5 867.1 227.5 866.3 228.5 865.5 229.5 864.5 230.5 863.4 231.5 862.2 232.5 860.9 233.5 859.5 234.5 857.9 235.5 856.1 236.5 854.3 237.5 852.3 238.5 850.2 239.5 847.9 240.5 845.5 241.5 843.0 242.5 840.4 243.5 837.8 244.5 835.1 245.5 832.4 246.5 829.6 247.5 826.8 248.5 823.9 249.5 821.1 250.5 818.3 251.5 815.5 252.5 812.7 253.5 809.9 254.5 807.1 255.5 804.3 256.5 801.5 257.5 798.7 258.5 795.8 259.5 792.9 260.5 790.0 261.5 787.2 262.5 784.5 263.5 781.9 264.5 779.4 265.5 777.0 266.5 774.7 267.5 772.6 268.5 770.6 269.5 768.7 270.5 767.1 271.5 765.7 272.5 764.4 273.5 763.2 274.5 762.3 275.5 761.5 276.5 760.9 277.5 760.3 278.5 759.9 279.5 759.6 280.5 759.4 281.5 759.2 282.5 759.1 283.5 759.0 284.5 759.0 285.5 759.0 286.5 759.0 287.5 759.1 288.5 759.3 289.5 759.5 290.5 759.7 291.5 760.1 292.5 760.5 293.5 761.1 294.5 761.8 295.5 762.6 296.5 763.7 297.5 764.9 298.5 766.2 299.5 767.7 300.5 769.4 301.5 771.3 302.5 773.4 303.5 775.6 304.5 777.9 305.5 780.4 306.5 782.9 307.5 785.6 308.5 788.3 309.5 791.2 310.5 794.1 311.5 796.9 312.5 799.8 313.5 802.6 314.5 805.5 315.5 808.2 316.5 811.0 317.5 813.8 318.5 816.6 319.5 819.4 320.5 822.2 321.5 825.1 322.5 827.9 323.5 830.7 324.5 833.5 325.5 836.2 326.5 838.8 327.5 841.4 328.5 844.0 329.5 846.5 330.5 848.8 331.5 851.1 332.5 853.1 333.5 855.1 334.5 856.8 335.5 858.5 336.5 860.1 337.5 861.5 338.5 862.7 339.5 863.9 340.5 864.9 341.5 865.8 342.5 866.6 343.5 867.4 344.5 868.0 345.5 868.4 346.5 868.8 347.5 869.0 348.5 869.2 349.5 869.4 350.5 869.6 351.5 869.7 352.5 869.9 353.5 870.0 354.5 870.1 355.5 870.3 356.5 870.4 357.5 870.5 358.5 870.6 359.5 870.7 360.5 870.8 361.5 870.9 362.5 871.0 363.5 871.1 364.5 871.2 365.5 871.3 366.5 871.3 367.5 871.4 368.5 871.5 369.5 871.5 370.5 871.6 371.5 871.6 372.5 871.6" stroke="#ff0000"/>
<path d="M72.5 871.8 73.5 871.8 74.5 871.8 75.5 871.8 76.5 871.8 77.5 871.8 78.5 871.8 79.5 871.8 80.5 871.8 81.5 871.8 82.5 871.8 83.5 871.8 84.5 871.8 85.5 871.8 86.5 871.8 87.5 871.8 88.5 871.8 89.5 871.8 90.5 871.8 91.5 871.8 92.5 871.8 93.5 871.8 94.5 871.8 95.5 871.8 96.5 871.8 97.5 871.8 98.5 871.8 99.5 871.8 100.5 871.8 101.5 871.8 102.5 871.8 103.5 871.8 104.5 871.8 105.5 871.8 106.5 871.8 107.5 871.8 108.5 871.8 109.5 871.8 110.5 871.8 111.5 871.8 112.5 871.8 113.5 871.8 114.5 871.8 115.5 871.8 116.5 871.8 117.5 871.8 118.5 871.8 119.5 871.8 120.5 871.8 121.5 871.8 122.5 871.8 123.5 871.8 124.5 871.8 125.5 871.8 126.5 871.8 127.5 871.8 128.5 871.8 129.5 871.8 130.5 871.8 131.5 871.8 132.5 871.8 133.5 871.8 134.5 871.8 135.5 871.8 136.5 871.8 137.5 871.8 138.5 871.8 139.5 871.8 140.5 871.8 141.5 871.8 142.5 871.8 143.5 871.8 144.5 871.8 145.5 871.8 146.5 871.8 147.5 871.8 148.5 871.8 149.5 871.8 150.5 871.8 151.5 871.8 152.5 871.8 153.5 871.8 154.5 871.8 155.5 871.8 156.5 871.8 157.5 871.8 158.5 871.8 159.5 871.8 160.5 871.8 161.5 871.8 162.5 871.8 163.5 871.8 164.5 871.8 165.5 871.8 166.5 871.8 167.5 871.8 168.5 871.8 169.5 871.8 170.5 871.8 171.5 871.8 172.5 871.8 173.5 871.8 174.5 871.8 175.5 871.8 176.5 871.8 177.5 871.8 178.5 871.8 179.5 871.8 180.5 871.8 181.5 871.8 182.5 871.8 183.5 871.8 184.5 871.8 185.5 871.7 186.5 871.7 187.5 871.7 188.5 871.7 189.5 871.7 190.5 871.7 191.5 871.7 192.5 871.6 193.5 871.6 194.5 871.6 195.5 871.5 196.5 871.5 197.5 871.5 198.5 871.4 199.5 871.4 200.5 871.3 201.5 871.2 202.5 871.2 203.5 871.1 204.5 871.1 205.5 871.0 206.5 870.9 207.5 870.9 208.5 870.8 209.5 870.7 210.5 870.7 211.5 870.6 212.5 870.6 213.5 870.5 214.5 870.5 215.5 870.4 216.5 870.4 217.5 870.4 218.5 870.4 219.5 870.3 220.5 870.3 221.5 870.3 222.5 870.3 223.5 870.2 224.5 870.2 225.5 870.2 226.5 870.2 227.5 870.2 228.5 870.2 229.5 870.1 230.5 870.1 231.5 870.1 232.5 870.1 233.5 870.0 234.5 870.0 235.5 869.9 236.5 869.9 237.5 869.8 238.5 869.7 239.5 869.6 240.5 869.4 241.5 869.2 242.5 869.0 243.5 868.7 244.5 868.5 245.5 868.2 246.5 868.0 247.5 867.7 248.5 867.4 249.5 867.0 250.5 866.6 251.5 866.1 252.5 865.6 253.5 864.9 254.5 864.2 255.5 863.4 256.5 862.5 257.5 861.6 258.5 860.5 259.5 859.5 260.5 858.4 261.5 857.4 262.5 856.4 263.5 855.4 264.5 854.4 265.5 853.4 266.5 852.5 267.5 851.6 268.5 850.7 269.5 849.8 270.5 849.1 271.5 848.4 272.5 847.7 273.5 847.1 274.5 846.6 275.5 846.1 276.5 845.7 277.5 845.3 278.5 845.0 279.5 844.7 280.5 844.5 281.5 844.4 282.5 844.3 283.5 844.3 284.5 844.2 285.5 844.2 286.5 844.3 287.5 844.3 288.5 844.4 289.5 844.6 290.5 844.8 291.5 845.1 292.5 845.4 293.5 845.8 294.5 846.3 295.5 846.8 296.5 847.3 297.5 848.0 298.5 848.6 299.5 849.4 300.5 850.2 301.5 851.0 302.5 851.9 303.5 852.9 304.5 853.8 305.5 854.8 306.5 855.8 307.5 856.8 308.5 857.8 309.5 858.8 310.5 859.9 311.5 860.9 312.5 862.0 313.5 862.9 314.5 863.8 315.5 864.5 316.5 865.2 317.5 865.8 318.5 866.3 319.5 866.8 320.5 867.2 321.5 867.5 322.5 867.8 323.5 868.1 324.5 868.3 325.5 868.6 326.5 868.8 327.5 869.1 328.5 869.3 329.5 869.5 330.5 869.6 331.5 869.7 332.5 869.8 333.5 869.9 334.5 870.0 335.5 870.0 336.5 870.0 337.5 870.1 338.5 870.1 339.5 870.1 340.5 870.1 341.5 870.2 342.5 870.2 343.5 870.2 344.5 870.2 345.5 870.2 346.5 870.3 347.5 870.3 348.5 870.3 349.5 870.3 350.5 870.3 351.5 870.4 352.5 870.4 353.5 870.4 354.5 870.5 355.5 870.5 356.5 870.6 357.5 870.6 358.5 870.7 359.5 870.7 360.5 870.8 361.5 870.8 362.5 870.9 363.5 871.0 364.5 871.0 365.5 871.1 366.5 871.1 367.5 871.2 368.5 871.3 369.5 871.3 370.5 871.4 371.5 871.4 372.5 871.5" stroke="#00ff00"/>
<path d="M72.5 871.8 73.5 871.8 74.5 871.8 75.5 871.8 76.5 871.8 77.5 871.8 78.5 871.8 79.5 871.8 80.5 871.8 81.5 871.8 82.5 871.8 83.5 871.8 84.5 871.8 85.5 871.8 86.5 871.8 87.5 871.8 88.5 871.8 89.5 871.8 90.5 871.8 91.5 871.8 92.5 871.8 93.5 871.8 94.5 871.8 95.5 871.8 96.5 871.8 97.5 871.8 98.5 871.8 99.5 871.8 100.5 871.8 101.5 871.8 102.5 871.8 103.5 871.8 104.5 871.8 105.5 871.8 106.5 871.8 107.5 871.8 108.5 871.8 109.5 871.8 110.5 871.8 111.5 871.8 112.5 871.8 113.5 871.8 114.5 871.8 115.5 871.8 116.5 871.8 117.5 871.8 118.5 871.8 119.5 871.8 120.5 871.8 121.5 871.8 122.5 871.8 123.5 871.8 124.5 871.8 125.5 871.8 126.5 871.8 127.5 871.8 128.5 871.8 129.5 871.8 130.5 871.8 131.5 871.8 132.5 871.8 133.5 871.8 134.5 871.8 135.5 871.8 136.5 871.8 137.5 871.8 138.5 871.8 139.5 871.8 140.5 871.8 141.5 871.8 142.5 871.8 143.5 871.8 144.5 871.8 145.5 871.8 146.5 871.8 147.5 871.8 148.5 871.8 149.5 871.8 150.5 871.8 151.5 871.8 152.5 871.8 153.5 871.8 154.5 871.8 155.5 871.8 156.5 871.8 157.5 871.8 158.5 871.8 159.5 871.8 160.5 871.8 161.5 871.8 162.5 871.8 163.5 871.8 164.5 871.8 165.5 871.8 166.5 871.8 167.5 871.8 168.5 871.8 169.5 871.8 170.5 871.7 171.5 871.7 172.5 871.7 173.5 871.7 174.5 871.7 175.5 871.7 176.5 871.7 177.5 871.7 178.5 871.7 179.5 871.6 180.5 871.6 181.5 871.6 182.5 871.6 183.5 871.6 184.5 871.6 185.5 871.6 186.5 871.5 187.5 871.5 188.5 871.5 189.5 871.5 190.5 871.5 191.5 871.4 192.5 871.4 193.5 871.3 194.5 871.3 195.5 871.2 196.5 871.1 197.5 871.0 198.5 870.9 199.5 870.8 200.5 870.7 201.5 870.6 202.5 870.4 203.5 870.3 204.5 870.2 205.5 870.0 206.5 869.9 207.5 869.8 208.5 869.7 209.5 869.6 210.5 869.4 211.5 869.3 212.5 869.2 213.5 869.0 214.5 868.9 215.5 868.7 216.5 868.6 217.5 868.4 218.5 868.3 219.5 868.2 220.5 868.1 221.5 868.0 222.5 867.9 223.5 867.9 224.5 867.9 225.5 867.9 226.5 867.9 227.5 867.9 228.5 868.0 229.5 868.0 230.5 868.0 231.5 868.0 232.5 868.1 233.5 868.1 234.5 868.2 235.5 868.3 236.5 868.4 237.5 868.6 238.5 868.8 239.5 869.0 240.5 869.2 241.5 869.3 242.5 869.4 243.5 869.4 244.5 869.4 245.5 869.4 246.5 869.4 247.5 869.3 248.5 869.2 249.5 869.0 250.5 868.7 251.5 868.3 252.5 867.8 253.5 867.1 254.5 866.2 255.5 865.2 256.5 864.0 257.5 862.5 258.5 860.8 259.5 858.9 260.5 856.9 261.5 854.7 262.5 852.3 263.5 849.9 264.5 847.4 265.5 845.0 266.5 842.5 267.5 840.1 268.5 837.7 269.5 835.5 270.5 833.3 271.5 831.2 272.5 829.3 273.5 827.4 274.5 825.8 275.5 824.3 276.5 823.1 277.5 822.0 278.5 821.0 279.5 820.2 280.5 819.7 281.5 819.3 282.5 819.0 283.5 818.9 284.5 818.8 285.5 818.8 286.5 818.9 287.5 819.1 288.5 819.4 289.5 819.9 290.5 820.5 291.5 821.4 292.5 822.4 293.5 823.6 294.5 824.9 295.5 826.4 296.5 828.2 297.5 830.0 298.5 832.1 299.5 834.2 300.5 836.4 301.5 838.7 302.5 841.1 303.5 843.5 304.5 845.9 305.5 848.4 306.5 850.9 307.5 853.3 308.5 855.6 309.5 857.7 310.5 859.7 311.5 861.5 312.5 863.1 313.5 864.5 314.5 865.7 315.5 866.6 316.5 867.4 317.5 868.0 318.5 868.5 319.5 868.8 320.5 869.1 321.5 869.2 322.5 869.3 323.5 869.4 324.5 869.4 325.5 869.5 326.5 869.4 327.5 869.4 328.5 869.2 329.5 869.1 330.5 868.9 331.5 868.7 332.5 868.5 333.5 868.4 334.5 868.2 335.5 868.1 336.5 868.1 337.5 868.0 338.5 868.0 339.5 868.0 340.5 868.0 341.5 867.9 342.5 867.9 343.5 867.9 344.5 867.9 345.5 867.9 346.5 867.9 347.5 868.0 348.5 868.0 349.5 868.1 350.5 868.2 351.5 868.3 352.5 868.5 353.5 868.6 354.5 868.8 355.5 868.9 356.5 869.1 357.5 869.2 358.5 869.4 359.5 869.5 360.5 869.6 361.5 869.7 362.5 869.8 363.5 870.0 364.5 870.1 365.5 870.2 366.5 870.4 367.5 870.5 368.5 870.6 369.5 870.7 370.5 870.8 371.5 870.9 372.5 871.0" stroke="#0000ff"/>
<path d="M72.5 871.8 73.5 871.8 74.5 871.8 75.5 871.8 76.5 871.8 77.5 871.8 78.5 871.8 79.5 871.8 80.5 871.8 81.5 871.8 82.5 871.8 83.5 871.8 84.5 871.8 85.5 871.8 86.5 871.8 87.5 871.8 88.5 871.8 89.5 871.8 90.5 871.8 91.5 871.8 92.5 871.8 93.5 871.8 94.5 871.8 95.5 871.8 96.5 871.8 97.5 871.8 98.5 871.8 99.5 871.8 100.5 871.8 101.5 871.8 102.5 871.8 103.5 871.8 104.5 871.8 105.5 871.8 106.5 871.8 107.5 871.8 108.5 871.8 109.5 871.8 110.5 871.8 111.5 871.8 112.5 871.8 113.5 871.8 114.5 871.8 115.5 871.8 116.5 871.8 117.5 871.8 118.5 871.8 119.5 871.8 120.5 871.8 121.5 871.8 122.5 871.8 123.5 871.8 124.5 871.8 125.5 871.8 126.5 871.8 127.5 871.8 128.5 871.7 129.5 871.7 130.5 871.7 131.5 871.7 132.5 871.7 133.5 871.7 134.5 871.7 135.5 871.6 136.5 871.6 137.5 871.6 138.5 871.6 139.5 871.6 140.5 871.6 141.5 871.5 142.5 871.5 143.5 871.5 144.5 871.5 145.5 871.5 146.5 871.5 147.5 871.4 148.5 871.4 149.5 871.4 150.5 871.4 151.5 871.4 152.5 871.4 153.5 871.3 154.5 871.3 155.5 871.3 156.5 871.3 157.5 871.3 158.5 871.2 159.5 871.2 160.5 871.2 161.5 871.2 162.5 871.2 163.5 871.1 164.5 871.1 165.5 871.1 166.5 871.1 167.5 871.0 168.5 871.0 169.5 871.0 170.5 870.9 171.5 870.9 172.5 870.9 173.5 870.9 174.5 870.8 175.5 870.8 176.5 870.7 177.5 870.7 178.5 870.7 179.5 870.6 180.5 870.6 181.5 870.5 182.5 870.5 183.5 870.4 184.5 870.4 185.5 870.3 186.5 870.3 187.5 870.2 188.5 870.2 189.5 870.1 190.5 870.1 191.5 870.0 192.5 869.9 193.5 869.8 194.5 869.6 195.5 869.5 196.5 869.4 197.5 869.2 198.5 869.0 199.5 868.8 200.5 868.7 201.5 868.5 202.5 868.3 203.5 868.1 204.5 867.8 205.5 867.6 206.5 867.4 207.5 867.1 208.5 866.8 209.5 866.5 210.5 866.2 211.5 865.9 212.5 865.5 213.5 865.2 214.5 864.9 215.5 864.5 216.5 864.2 217.5 863.8 218.5 863.4 219.5 862.9 220.5 862.5 221.5 862.1 222.5 861.6 223.5 861.2 224.5 860.7 225.5 860.4 226.5 860.0 227.5 859.7 228.5 859.4 229.5 859.1 230.5 858.9 231.5 858.6 232.5 858.4 233.5 858.2 234.5 858.0 235.5 857.9 236.5 857.9 237.5 857.9 238.5 858.0 239.5 858.1 240.5 858.2 241.5 858.3 242.5 858.4 243.5 858.4 244.5 858.5 245.5 858.4 246.5 858.4 247.5 858.3 248.5 858.1 249.5 857.8 250.5 857.4 251.5 857.0 252.5 856.4 253.5 855.7 254.5 854.9 255.5 853.9 256.5 852.7 257.5 851.2 258.5 849.6 259.5 847.7 260.5 845.6 261.5 843.3 262.5 840.8 263.5 838.2 264.5 835.4 265.5 832.6 266.5 829.7 267.5 826.7 268.5 823.8 269.5 820.8 270.5 817.8 271.5 814.9 272.5 811.9 273.5 809.1 274.5 806.4 275.5 804.0 276.5 801.7 277.5 799.7 278.5 797.9 279.5 796.5 280.5 795.4 281.5 794.5 282.5 793.8 283.5 793.4 284.5 793.1 285.5 793.2 286.5 793.5 287.5 794.1 288.5 794.8 289.5 795.8 290.5 797.0 291.5 798.6 292.5 800.4 293.5 802.6 294.5 804.9 295.5 807.5 296.5 810.2 297.5 813.1 298.5 816.0 299.5 819.0 300.5 822.0 301.5 825.0 302.5 827.9 303.5 830.8 304.5 833.7 305.5 836.5 306.5 839.3 307.5 841.9 308.5 844.3 309.5 846.5 310.5 848.5 311.5 850.3 312.5 851.9 313.5 853.2 314.5 854.4 315.5 855.3 316.5 856.0 317.5 856.7 318.5 857.2 319.5 857.6 320.5 857.9 321.5 858.1 322.5 858.3 323.5 858.4 324.5 858.5 325.5 858.5 326.5 858.4 327.5 858.4 328.5 858.3 329.5 858.2 330.5 858.1 331.5 858.0 332.5 857.9 333.5 857.9 334.5 858.0 335.5 858.1 336.5 858.2 337.5 858.5 338.5 858.7 339.5 859.0 340.5 859.2 341.5 859.5 342.5 859.8 343.5 860.1 344.5 860.5 345.5 860.9 346.5 861.3 347.5 861.8 348.5 862.2 349.5 862.7 350.5 863.1 351.5 863.5 352.5 863.9 353.5 864.3 354.5 864.7 355.5 865.0 356.5 865.3 357.5 865.7 358.5 866.0 359.5 866.3 360.5 866.6 361.5 866.9 362.5 867.2 363.5 867.5 364.5 867.7 365.5 867.9 366.5 868.1 367.5 868.4 368.5 868.5 369.5 868.7 370.5 868.9 371.5 869.1 372.5 869.3" stroke="#ff00ff"/>
</g>
<clipPath id="cph"><rect x="460.90" y="679.90" width="285.60" height="192.80"/></clipPath>
<g clip-path="url(#cph)" fill="none" stroke-width="2.0" stroke-linejoin="round">
<path d="M459.9 871.7 460.9 871.7 461.9 871.7 462.9 871.7 463.9 871.7 464.9 871.7 465.9 871.7 466.9 871.7 467.9 871.7 468.9 871.7 469.9 871.7 470.9 871.7 471.9 871.7 472.9 871.7 473.9 871.7 474.9 871.7 475.9 871.7 476.9 871.7 477.9 871.7 478.9 871.7 479.9 871.7 480.9 871.7 481.9 871.7 482.9 871.7 483.9 871.7 484.9 871.7 485.9 871.7 486.9 871.7 487.9 871.7 488.9 871.7 489.9 871.7 490.9 871.7 491.9 871.7 492.9 871.7 493.9 871.7 494.9 871.7 495.9 871.7 496.9 871.7 497.9 871.7 498.9 871.7 499.9 871.7 500.9 871.7 501.9 871.7 502.9 871.7 503.9 871.7 504.9 871.7 505.9 871.7 506.9 871.7 507.9 871.7 508.9 871.7 509.9 871.7 510.9 871.7 511.9 871.7 512.9 871.6 513.9 871.6 514.9 871.6 515.9 871.6 516.9 871.5 517.9 871.5 518.9 871.5 519.9 871.5 520.9 871.4 521.9 871.4 522.9 871.4 523.9 871.3 524.9 871.3 525.9 871.3 526.9 871.2 527.9 871.2 528.9 871.1 529.9 871.1 530.9 871.0 531.9 871.0 532.9 870.9 533.9 870.8 534.9 870.7 535.9 870.6 536.9 870.5 537.9 870.3 538.9 870.2 539.9 870.0 540.9 869.9 541.9 869.7 542.9 869.6 543.9 869.4 544.9 869.3 545.9 869.1 546.9 868.9 547.9 868.8 548.9 868.6 549.9 868.4 550.9 868.2 551.9 868.0 552.9 867.7 553.9 867.5 554.9 867.3 555.9 867.0 556.9 866.7 557.9 866.4 558.9 866.1 559.9 865.8 560.9 865.4 561.9 865.0 562.9 864.6 563.9 864.2 564.9 863.8 565.9 863.4 566.9 863.0 567.9 862.6 568.9 862.1 569.9 861.7 570.9 861.2 571.9 860.8 572.9 860.4 573.9 860.2 574.9 860.0 575.9 859.8 576.9 859.7 577.9 859.6 578.9 859.5 579.9 859.4 580.9 859.5 581.9 859.6 582.9 860.0 583.9 860.5 584.9 861.1 585.9 861.8 586.9 862.5 587.9 863.2 588.9 863.9 589.9 864.7 590.9 865.6 591.9 866.5 592.9 867.3 593.9 868.0 594.9 868.6 595.9 869.2 596.9 869.8 597.9 870.3 598.9 870.8 599.9 871.2 600.9 871.6 601.9 871.7 602.9 871.7 603.9 871.6 604.9 871.1 605.9 870.4 606.9 869.5 607.9 868.5 608.9 867.2 609.9 865.8 610.9 864.3 611.9 862.6 612.9 861.0 613.9 859.3 614.9 857.7 615.9 856.1 616.9 854.7 617.9 853.3 618.9 852.1 619.9 851.1 620.9 850.3 621.9 849.8 622.9 849.3 623.9 849.0 624.9 848.9 625.9 848.9 626.9 849.2 627.9 849.6 628.9 850.1 629.9 850.7 630.9 851.6 631.9 852.8 632.9 854.1 633.9 855.6 634.9 857.1 635.9 858.7 636.9 860.3 637.9 862.0 638.9 863.6 639.9 865.2 640.9 866.6 641.9 868.0 642.9 869.1 643.9 870.0 644.9 870.8 645.9 871.4 646.9 871.7 647.9 871.7 648.9 871.7 649.9 871.4 650.9 871.0 651.9 870.5 652.9 870.0 653.9 869.4 654.9 868.8 655.9 868.2 656.9 867.5 657.9 866.8 658.9 866.0 659.9 865.1 660.9 864.2 661.9 863.5 662.9 862.7 663.9 862.1 664.9 861.4 665.9 860.8 666.9 860.2 667.9 859.8 668.9 859.5 669.9 859.4 670.9 859.5 671.9 859.5 672.9 859.6 673.9 859.8 674.9 859.9 675.9 860.1 676.9 860.3 677.9 860.6 678.9 861.0 679.9 861.5 680.9 862.0 681.9 862.4 682.9 862.8 683.9 863.2 684.9 863.6 685.9 864.1 686.9 864.5 687.9 864.9 688.9 865.3 689.9 865.6 690.9 866.0 691.9 866.3 692.9 866.6 693.9 866.9 694.9 867.2 695.9 867.4 696.9 867.6 697.9 867.9 698.9 868.1 699.9 868.3 700.9 868.5 701.9 868.7 702.9 868.9 703.9 869.0 704.9 869.2 705.9 869.4 706.9 869.5 707.9 869.7 708.9 869.8 709.9 870.0 710.9 870.1 711.9 870.3 712.9 870.4 713.9 870.5 714.9 870.7 715.9 870.8 716.9 870.9 717.9 871.0 718.9 871.0 719.9 871.1 720.9 871.1 721.9 871.2 722.9 871.2 723.9 871.2 724.9 871.3 725.9 871.3 726.9 871.4 727.9 871.4 728.9 871.4 729.9 871.5 730.9 871.5 731.9 871.5 732.9 871.5 733.9 871.6 734.9 871.6 735.9 871.6 736.9 871.6 737.9 871.6 738.9 871.7 739.9 871.7 740.9 871.7 741.9 871.7 742.9 871.7 743.9 871.7 744.9 871.7 745.9 871.7 746.9 871.7" stroke="#000000"/>
<path d="M459.9 871.7 460.9 871.7 461.9 871.7 462.9 871.7 463.9 871.7 464.9 871.7 465.9 871.7 466.9 871.7 467.9 871.7 468.9 871.7 469.9 871.7 470.9 871.7 471.9 871.7 472.9 871.7 473.9 871.7 474.9 871.7 475.9 871.7 476.9 871.7 477.9 871.7 478.9 871.7 479.9 871.7 480.9 871.7 481.9 871.7 482.9 871.7 483.9 871.7 484.9 871.7 485.9 871.7 486.9 871.7 487.9 871.7 488.9 871.7 489.9 871.7 490.9 871.7 491.9 871.7 492.9 871.7 493.9 871.7 494.9 871.7 495.9 871.7 496.9 871.7 497.9 871.7 498.9 871.7 499.9 871.7 500.9 871.7 501.9 871.7 502.9 871.7 503.9 871.7 504.9 871.7 505.9 871.7 506.9 871.7 507.9 871.7 508.9 871.7 509.9 871.7 510.9 871.7 511.9 871.7 512.9 871.7 513.9 871.7 514.9 871.6 515.9 871.6 516.9 871.6 517.9 871.5 518.9 871.5 519.9 871.4 520.9 871.4 521.9 871.3 522.9 871.3 523.9 871.3 524.9 871.2 525.9 871.2 526.9 871.1 527.9 871.0 528.9 871.0 529.9 870.9 530.9 870.9 531.9 870.8 532.9 870.7 533.9 870.6 534.9 870.6 535.9 870.5 536.9 870.4 537.9 870.3 538.9 870.2 539.9 870.1 540.9 870.0 541.9 869.9 542.9 869.7 543.9 869.6 544.9 869.5 545.9 869.4 546.9 869.2 547.9 869.0 548.9 868.9 549.9 868.7 550.9 868.4 551.9 868.2 552.9 868.0 553.9 867.7 554.9 867.4 555.9 867.1 556.9 866.8 557.9 866.5 558.9 866.2 559.9 865.8 560.9 865.3 561.9 864.8 562.9 864.2 563.9 863.6 564.9 863.0 565.9 862.3 566.9 861.7 567.9 861.0 568.9 860.4 569.9 859.8 570.9 859.2 571.9 858.7 572.9 858.1 573.9 857.6 574.9 857.1 575.9 856.7 576.9 856.4 577.9 856.1 578.9 855.9 579.9 855.7 580.9 855.5 581.9 855.4 582.9 855.3 583.9 855.2 584.9 855.1 585.9 855.1 586.9 855.0 587.9 855.0 588.9 855.0 589.9 854.9 590.9 854.8 591.9 854.6 592.9 854.4 593.9 854.1 594.9 853.7 595.9 853.1 596.9 852.2 597.9 851.0 598.9 849.7 599.9 848.3 600.9 846.6 601.9 844.8 602.9 842.9 603.9 840.8 604.9 838.6 605.9 836.3 606.9 833.8 607.9 831.1 608.9 828.2 609.9 825.3 610.9 822.2 611.9 819.1 612.9 815.8 613.9 812.4 614.9 808.9 615.9 805.5 616.9 802.0 617.9 798.8 618.9 795.9 619.9 793.4 620.9 791.6 621.9 790.4 622.9 789.6 623.9 789.0 624.9 788.7 625.9 788.8 626.9 789.3 627.9 790.0 628.9 791.0 629.9 792.6 630.9 794.8 631.9 797.6 632.9 800.7 633.9 804.1 634.9 807.5 635.9 811.0 636.9 814.5 637.9 817.8 638.9 821.0 639.9 824.1 640.9 827.1 641.9 829.9 642.9 832.7 643.9 835.3 644.9 837.7 645.9 839.9 646.9 842.1 647.9 844.0 648.9 845.9 649.9 847.6 650.9 849.1 651.9 850.5 652.9 851.7 653.9 852.8 654.9 853.5 655.9 853.9 656.9 854.3 657.9 854.5 658.9 854.7 659.9 854.9 660.9 854.9 661.9 855.0 662.9 855.0 663.9 855.1 664.9 855.1 665.9 855.2 666.9 855.2 667.9 855.3 668.9 855.4 669.9 855.6 670.9 855.8 671.9 856.0 672.9 856.2 673.9 856.5 674.9 856.9 675.9 857.4 676.9 857.9 677.9 858.5 678.9 859.0 679.9 859.6 680.9 860.2 681.9 860.8 682.9 861.4 683.9 862.1 684.9 862.7 685.9 863.4 686.9 864.0 687.9 864.6 688.9 865.1 689.9 865.6 690.9 866.0 691.9 866.4 692.9 866.7 693.9 867.0 694.9 867.3 695.9 867.6 696.9 867.9 697.9 868.1 698.9 868.4 699.9 868.6 700.9 868.8 701.9 869.0 702.9 869.1 703.9 869.3 704.9 869.4 705.9 869.6 706.9 869.7 707.9 869.8 708.9 869.9 709.9 870.0 710.9 870.1 711.9 870.2 712.9 870.3 713.9 870.4 714.9 870.5 715.9 870.6 716.9 870.7 717.9 870.8 718.9 870.8 719.9 870.9 720.9 871.0 721.9 871.0 722.9 871.1 723.9 871.1 724.9 871.2 725.9 871.2 726.9 871.3 727.9 871.3 728.9 871.4 729.9 871.4 730.9 871.5 731.9 871.5 732.9 871.5 733.9 871.6 734.9 871.6 735.9 871.7 736.9 871.7 737.9 871.7 738.9 871.7 739.9 871.7 740.9 871.7 741.9 871.7 742.9 871.7 743.9 871.7 744.9 871.7 745.9 871.7 746.9 871.7" stroke="#ff0000"/>
<path d="M459.9 871.7 460.9 871.7 461.9 871.7 462.9 871.7 463.9 871.7 464.9 871.7 465.9 871.7 466.9 871.7 467.9 871.7 468.9 871.7 469.9 871.7 470.9 871.7 471.9 871.7 472.9 871.7 473.9 871.7 474.9 871.7 475.9 871.7 476.9 871.7 477.9 871.7 478.9 871.7 479.9 871.7 480.9 871.7 481.9 871.7 482.9 871.7 483.9 871.7 484.9 871.7 485.9 871.7 486.9 871.7 487.9 871.7 488.9 871.7 489.9 871.7 490.9 871.7 491.9 871.7 492.9 871.7 493.9 871.7 494.9 871.7 495.9 871.7 496.9 871.7 497.9 871.7 498.9 871.7 499.9 871.7 500.9 871.7 501.9 871.7 502.9 871.7 503.9 871.6 504.9 871.6 505.9 871.6 506.9 871.6 507.9 871.5 508.9 871.5 509.9 871.5 510.9 871.4 511.9 871.4 512.9 871.4 513.9 871.3 514.9 871.3 515.9 871.2 516.9 871.2 517.9 871.1 518.9 871.1 519.9 871.1 520.9 871.0 521.9 871.0 522.9 870.9 523.9 870.9 524.9 870.8 525.9 870.8 526.9 870.7 527.9 870.6 528.9 870.6 529.9 870.5 530.9 870.5 531.9 870.4 532.9 870.3 533.9 870.3 534.9 870.2 535.9 870.1 536.9 870.0 537.9 869.9 538.9 869.8 539.9 869.7 540.9 869.6 541.9 869.5 542.9 869.4 543.9 869.3 544.9 869.2 545.9 869.1 546.9 868.9 547.9 868.8 548.9 868.6 549.9 868.4 550.9 868.2 551.9 868.0 552.9 867.8 553.9 867.6 554.9 867.3 555.9 867.1 556.9 866.8 557.9 866.5 558.9 866.2 559.9 865.8 560.9 865.5 561.9 865.0 562.9 864.5 563.9 864.0 564.9 863.4 565.9 862.8 566.9 862.2 567.9 861.5 568.9 860.8 569.9 860.0 570.9 859.2 571.9 858.3 572.9 857.3 573.9 856.1 574.9 854.9 575.9 853.6 576.9 852.1 577.9 850.7 578.9 849.1 579.9 847.4 580.9 845.6 581.9 843.7 582.9 841.6 583.9 839.3 584.9 836.8 585.9 834.0 586.9 830.9 587.9 827.5 588.9 823.9 589.9 820.3 590.9 816.6 591.9 812.9 592.9 809.0 593.9 805.1 594.9 801.0 595.9 796.9 596.9 792.8 597.9 788.6 598.9 784.3 599.9 780.1 600.9 775.7 601.9 771.3 602.9 766.7 603.9 762.1 604.9 757.3 605.9 752.4 606.9 747.6 607.9 743.0 608.9 738.5 609.9 734.1 610.9 729.8 611.9 725.7 612.9 721.8 613.9 718.2 614.9 715.1 615.9 712.2 616.9 709.5 617.9 707.0 618.9 704.8 619.9 703.0 620.9 701.6 621.9 700.3 622.9 699.3 623.9 698.5 624.9 698.2 625.9 698.3 626.9 699.0 627.9 699.9 628.9 701.1 629.9 702.4 630.9 704.1 631.9 706.1 632.9 708.5 633.9 711.1 634.9 713.9 635.9 716.9 636.9 720.3 637.9 724.1 638.9 728.1 639.9 732.4 640.9 736.8 641.9 741.2 642.9 745.7 643.9 750.5 644.9 755.3 645.9 760.2 646.9 764.9 647.9 769.5 648.9 773.9 649.9 778.3 650.9 782.6 651.9 786.9 652.9 791.1 653.9 795.2 654.9 799.4 655.9 803.4 656.9 807.4 657.9 811.4 658.9 815.2 659.9 818.9 660.9 822.5 661.9 826.1 662.9 829.5 663.9 832.8 664.9 835.7 665.9 838.3 666.9 840.7 667.9 842.9 668.9 844.9 669.9 846.7 670.9 848.5 671.9 850.1 672.9 851.6 673.9 853.0 674.9 854.4 675.9 855.6 676.9 856.8 677.9 857.9 678.9 858.8 679.9 859.7 680.9 860.5 681.9 861.2 682.9 861.9 683.9 862.6 684.9 863.2 685.9 863.8 686.9 864.3 687.9 864.8 688.9 865.3 689.9 865.7 690.9 866.1 691.9 866.4 692.9 866.7 693.9 867.0 694.9 867.2 695.9 867.5 696.9 867.7 697.9 868.0 698.9 868.2 699.9 868.4 700.9 868.5 701.9 868.7 702.9 868.9 703.9 869.0 704.9 869.1 705.9 869.3 706.9 869.4 707.9 869.5 708.9 869.6 709.9 869.7 710.9 869.8 711.9 869.9 712.9 870.0 713.9 870.1 714.9 870.1 715.9 870.2 716.9 870.3 717.9 870.4 718.9 870.4 719.9 870.5 720.9 870.6 721.9 870.6 722.9 870.7 723.9 870.7 724.9 870.8 725.9 870.8 726.9 870.9 727.9 870.9 728.9 871.0 729.9 871.0 730.9 871.1 731.9 871.1 732.9 871.2 733.9 871.2 734.9 871.3 735.9 871.3 736.9 871.3 737.9 871.4 738.9 871.4 739.9 871.5 740.9 871.5 741.9 871.5 742.9 871.6 743.9 871.6 744.9 871.6 745.9 871.6 746.9 871.7" stroke="#00ff00"/>
<path d="M459.9 871.7 460.9 871.7 461.9 871.7 462.9 871.7 463.9 871.7 464.9 871.7 465.9 871.7 466.9 871.7 467.9 871.7 468.9 871.7 469.9 871.7 470.9 871.7 471.9 871.7 472.9 871.7 473.9 871.7 474.9 871.7 475.9 871.7 476.9 871.7 477.9 871.7 478.9 871.7 479.9 871.7 480.9 871.7 481.9 871.7 482.9 871.7 483.9 871.7 484.9 871.7 485.9 871.7 486.9 871.7 487.9 871.7 488.9 871.7 489.9 871.7 490.9 871.7 491.9 871.7 492.9 871.7 493.9 871.7 494.9 871.7 495.9 871.7 496.9 871.7 497.9 871.7 498.9 871.7 499.9 871.7 500.9 871.7 501.9 871.7 502.9 871.7 503.9 871.7 504.9 871.6 505.9 871.6 506.9 871.6 507.9 871.6 508.9 871.5 509.9 871.5 510.9 871.5 511.9 871.5 512.9 871.4 513.9 871.4 514.9 871.4 515.9 871.3 516.9 871.3 517.9 871.3 518.9 871.2 519.9 871.2 520.9 871.2 521.9 871.1 522.9 871.1 523.9 871.0 524.9 871.0 525.9 871.0 526.9 870.9 527.9 870.9 528.9 870.8 529.9 870.7 530.9 870.7 531.9 870.6 532.9 870.5 533.9 870.5 534.9 870.4 535.9 870.3 536.9 870.2 537.9 870.1 538.9 870.0 539.9 869.9 540.9 869.8 541.9 869.7 542.9 869.6 543.9 869.5 544.9 869.4 545.9 869.3 546.9 869.2 547.9 869.0 548.9 868.9 549.9 868.7 550.9 868.6 551.9 868.4 552.9 868.2 553.9 868.0 554.9 867.8 555.9 867.6 556.9 867.3 557.9 867.1 558.9 866.8 559.9 866.5 560.9 866.1 561.9 865.7 562.9 865.3 563.9 864.8 564.9 864.2 565.9 863.6 566.9 863.0 567.9 862.4 568.9 861.7 569.9 861.0 570.9 860.2 571.9 859.4 572.9 858.5 573.9 857.5 574.9 856.4 575.9 855.2 576.9 853.9 577.9 852.6 578.9 851.1 579.9 849.5 580.9 847.7 581.9 845.8 582.9 843.6 583.9 841.3 584.9 838.8 585.9 836.0 586.9 832.9 587.9 829.5 588.9 825.9 589.9 822.3 590.9 818.6 591.9 814.9 592.9 811.0 593.9 807.0 594.9 802.9 595.9 798.8 596.9 794.6 597.9 790.4 598.9 786.0 599.9 781.6 600.9 777.3 601.9 773.0 602.9 768.9 603.9 764.9 604.9 761.0 605.9 757.2 606.9 753.6 607.9 750.1 608.9 746.9 609.9 743.7 610.9 740.7 611.9 737.8 612.9 735.3 613.9 733.1 614.9 731.4 615.9 730.0 616.9 728.8 617.9 727.7 618.9 726.9 619.9 726.2 620.9 725.7 621.9 725.4 622.9 725.1 623.9 724.9 624.9 724.8 625.9 724.9 626.9 725.0 627.9 725.3 628.9 725.6 629.9 726.0 630.9 726.6 631.9 727.4 632.9 728.4 633.9 729.5 634.9 730.9 635.9 732.4 636.9 734.4 637.9 736.8 638.9 739.5 639.9 742.5 640.9 745.6 641.9 748.8 642.9 752.2 643.9 755.7 644.9 759.5 645.9 763.4 646.9 767.3 647.9 771.4 648.9 775.5 649.9 779.9 650.9 784.3 651.9 788.6 652.9 792.9 653.9 797.1 654.9 801.3 655.9 805.4 656.9 809.4 657.9 813.3 658.9 817.1 659.9 820.9 660.9 824.5 661.9 828.1 662.9 831.5 663.9 834.8 664.9 837.7 665.9 840.3 666.9 842.7 667.9 844.9 668.9 847.0 669.9 848.8 670.9 850.5 671.9 852.0 672.9 853.4 673.9 854.7 674.9 855.9 675.9 857.0 676.9 858.1 677.9 859.0 678.9 859.9 679.9 860.7 680.9 861.4 681.9 862.1 682.9 862.8 683.9 863.4 684.9 864.0 685.9 864.5 686.9 865.1 687.9 865.5 688.9 866.0 689.9 866.3 690.9 866.7 691.9 867.0 692.9 867.2 693.9 867.5 694.9 867.7 695.9 867.9 696.9 868.1 697.9 868.3 698.9 868.5 699.9 868.7 700.9 868.8 701.9 869.0 702.9 869.1 703.9 869.2 704.9 869.4 705.9 869.5 706.9 869.6 707.9 869.7 708.9 869.8 709.9 869.9 710.9 870.0 711.9 870.1 712.9 870.2 713.9 870.3 714.9 870.4 715.9 870.4 716.9 870.5 717.9 870.6 718.9 870.7 719.9 870.7 720.9 870.8 721.9 870.8 722.9 870.9 723.9 870.9 724.9 871.0 725.9 871.0 726.9 871.1 727.9 871.1 728.9 871.2 729.9 871.2 730.9 871.2 731.9 871.3 732.9 871.3 733.9 871.3 734.9 871.4 735.9 871.4 736.9 871.4 737.9 871.5 738.9 871.5 739.9 871.5 740.9 871.5 741.9 871.6 742.9 871.6 743.9 871.6 744.9 871.6 745.9 871.6 746.9 871.7" stroke="#0000ff"/>
<path d="M459.9 871.7 460.9 871.7 461.9 871.7 462.9 871.7 463.9 871.7 464.9 871.7 465.9 871.7 466.9 871.7 467.9 871.7 468.9 871.7 469.9 871.7 470.9 871.7 471.9 871.7 472.9 871.7 473.9 871.7 474.9 871.7 475.9 871.7 476.9 871.7 477.9 871.7 478.9 871.7 479.9 871.7 480.9 871.7 481.9 871.7 482.9 871.7 483.9 871.7 484.9 871.7 485.9 871.7 486.9 871.7 487.9 871.7 488.9 871.7 489.9 871.7 490.9 871.7 491.9 871.7 492.9 871.7 493.9 871.7 494.9 871.7 495.9 871.7 496.9 871.7 497.9 871.7 498.9 871.7 499.9 871.7 500.9 871.7 501.9 871.7 502.9 871.7 503.9 871.7 504.9 871.7 505.9 871.7 506.9 871.7 507.9 871.7 508.9 871.7 509.9 871.7 510.9 871.7 511.9 871.7 512.9 871.7 513.9 871.7 514.9 871.7 515.9 871.7 516.9 871.7 517.9 871.7 518.9 871.7 519.9 871.7 520.9 871.7 521.9 871.7 522.9 871.7 523.9 871.6 524.9 871.6 525.9 871.6 526.9 871.5 527.9 871.5 528.9 871.5 529.9 871.4 530.9 871.4 531.9 871.3 532.9 871.3 533.9 871.2 534.9 871.2 535.9 871.1 536.9 871.0 537.9 871.0 538.9 870.9 539.9 870.8 540.9 870.8 541.9 870.7 542.9 870.6 543.9 870.6 544.9 870.5 545.9 870.4 546.9 870.4 547.9 870.3 548.9 870.3 549.9 870.2 550.9 870.1 551.9 870.1 552.9 870.0 553.9 869.9 554.9 869.9 555.9 869.8 556.9 869.7 557.9 869.6 558.9 869.5 559.9 869.4 560.9 869.2 561.9 869.1 562.9 868.9 563.9 868.7 564.9 868.4 565.9 868.1 566.9 867.8 567.9 867.3 568.9 866.9 569.9 866.4 570.9 865.9 571.9 865.3 572.9 864.7 573.9 864.1 574.9 863.2 575.9 862.3 576.9 861.2 577.9 860.0 578.9 858.7 579.9 857.2 580.9 855.3 581.9 853.3 582.9 851.0 583.9 848.6 584.9 846.0 585.9 843.2 586.9 840.3 587.9 837.5 588.9 834.7 589.9 831.8 590.9 828.6 591.9 825.1 592.9 821.2 593.9 817.1 594.9 812.9 595.9 808.8 596.9 804.7 597.9 800.6 598.9 796.5 599.9 792.4 600.9 788.4 601.9 784.5 602.9 780.9 603.9 777.4 604.9 774.0 605.9 770.8 606.9 767.8 607.9 765.3 608.9 763.2 609.9 761.5 610.9 759.9 611.9 758.5 612.9 757.3 613.9 756.3 614.9 755.5 615.9 754.8 616.9 754.2 617.9 753.6 618.9 753.2 619.9 752.9 620.9 752.7 621.9 752.5 622.9 752.4 623.9 752.3 624.9 752.3 625.9 752.3 626.9 752.4 627.9 752.5 628.9 752.6 629.9 752.8 630.9 753.1 631.9 753.5 632.9 754.0 633.9 754.6 634.9 755.2 635.9 756.0 636.9 756.9 637.9 758.0 638.9 759.3 639.9 760.8 640.9 762.5 641.9 764.4 642.9 766.8 643.9 769.6 644.9 772.7 645.9 776.1 646.9 779.5 647.9 783.1 648.9 786.8 649.9 790.7 650.9 794.8 651.9 798.9 652.9 803.1 653.9 807.1 654.9 811.3 655.9 815.5 656.9 819.6 657.9 823.5 658.9 827.2 659.9 830.5 660.9 833.5 661.9 836.4 662.9 839.2 663.9 842.0 664.9 844.9 665.9 847.6 666.9 850.1 667.9 852.4 668.9 854.5 669.9 856.5 670.9 858.1 671.9 859.5 672.9 860.8 673.9 861.9 674.9 862.9 675.9 863.7 676.9 864.5 677.9 865.1 678.9 865.7 679.9 866.2 680.9 866.7 681.9 867.2 682.9 867.6 683.9 868.0 684.9 868.3 685.9 868.6 686.9 868.8 687.9 869.0 688.9 869.2 689.9 869.3 690.9 869.4 691.9 869.5 692.9 869.6 693.9 869.7 694.9 869.8 695.9 869.9 696.9 870.0 697.9 870.0 698.9 870.1 699.9 870.2 700.9 870.2 701.9 870.3 702.9 870.3 703.9 870.4 704.9 870.5 705.9 870.5 706.9 870.6 707.9 870.7 708.9 870.7 709.9 870.8 710.9 870.9 711.9 870.9 712.9 871.0 713.9 871.1 714.9 871.1 715.9 871.2 716.9 871.2 717.9 871.3 718.9 871.4 719.9 871.4 720.9 871.4 721.9 871.5 722.9 871.5 723.9 871.6 724.9 871.6 725.9 871.6 726.9 871.6 727.9 871.7 728.9 871.7 729.9 871.7 730.9 871.7 731.9 871.7 732.9 871.7 733.9 871.7 734.9 871.7 735.9 871.7 736.9 871.7 737.9 871.7 738.9 871.7 739.9 871.7 740.9 871.7 741.9 871.7 742.9 871.7 743.9 871.7 744.9 871.7 745.9 871.7 746.9 871.7" stroke="#ff00ff"/>
</g>
<path d="M90.45 223.80L90.45 233.00M90.45 32.50L90.45 41.70M146.70 223.80L146.70 233.00M146.70 32.50L146.70 41.70M202.95 223.80L202.95 233.00M202.95 32.50L202.95 41.70M259.20 223.80L259.20 233.00M259.20 32.50L259.20 41.70M315.45 223.80L315.45 233.00M315.45 32.50L315.45 41.70M371.70 223.80L371.70 233.00M371.70 32.50L371.70 41.70M118.57 223.80L118.57 228.40M118.57 32.50L118.57 37.10M174.82 223.80L174.82 228.40M174.82 32.50L174.82 37.10M231.07 223.80L231.07 228.40M231.07 32.50L231.07 37.10M287.32 223.80L287.32 228.40M287.32 32.50L287.32 37.10M343.57 223.80L343.57 228.40M343.57 32.50L343.57 37.10M64.30 223.80L73.50 223.80M362.50 223.80L371.70 223.80M64.30 144.09L73.50 144.09M362.50 144.09L371.70 144.09M64.30 64.38L73.50 64.38M362.50 64.38L371.70 64.38M68.90 183.95L73.50 183.95M367.10 183.95L371.70 183.95M68.90 104.24L73.50 104.24M367.10 104.24L371.70 104.24" stroke="#000" stroke-width="1.4" fill="none"/>
<rect x="73.50" y="32.50" width="298.20" height="191.30" stroke="#000" stroke-width="1.4" fill="none"/>
<text x="57.70" y="230.00" font-family='"Liberation Sans", sans-serif' font-size="20.5" text-anchor="end">0</text>
<text x="57.70" y="150.29" font-family='"Liberation Sans", sans-serif' font-size="20.5" text-anchor="end">1.25</text>
<text x="57.70" y="70.58" font-family='"Liberation Sans", sans-serif' font-size="20.5" text-anchor="end">2.5</text>
<path d="M460.90 223.20L460.90 232.40M460.90 32.60L460.90 41.80M508.50 223.20L508.50 232.40M508.50 32.60L508.50 41.80M556.10 223.20L556.10 232.40M556.10 32.60L556.10 41.80M603.70 223.20L603.70 232.40M603.70 32.60L603.70 41.80M651.30 223.20L651.30 232.40M651.30 32.60L651.30 41.80M698.90 223.20L698.90 232.40M698.90 32.60L698.90 41.80M746.50 223.20L746.50 232.40M746.50 32.60L746.50 41.80M484.70 223.20L484.70 227.80M484.70 32.60L484.70 37.20M532.30 223.20L532.30 227.80M532.30 32.60L532.30 37.20M579.90 223.20L579.90 227.80M579.90 32.60L579.90 37.20M627.50 223.20L627.50 227.80M627.50 32.60L627.50 37.20M675.10 223.20L675.10 227.80M675.10 32.60L675.10 37.20M722.70 223.20L722.70 227.80M722.70 32.60L722.70 37.20M451.70 223.20L460.90 223.20M737.30 223.20L746.50 223.20M451.70 175.55L460.90 175.55M737.30 175.55L746.50 175.55M451.70 127.90L460.90 127.90M737.30 127.90L746.50 127.90M451.70 80.25L460.90 80.25M737.30 80.25L746.50 80.25M451.70 32.60L460.90 32.60M737.30 32.60L746.50 32.60M456.30 199.38L460.90 199.38M741.90 199.38L746.50 199.38M456.30 151.72L460.90 151.72M741.90 151.72L746.50 151.72M456.30 104.07L460.90 104.07M741.90 104.07L746.50 104.07M456.30 56.42L460.90 56.42M741.90 56.42L746.50 56.42" stroke="#000" stroke-width="1.4" fill="none"/>
<rect x="460.90" y="32.60" width="285.60" height="190.60" stroke="#000" stroke-width="1.4" fill="none"/>
<text x="444.90" y="229.20" font-family='"Liberation Serif", serif' font-size="20" text-anchor="end">0.10</text>
<text x="444.90" y="181.55" font-family='"Liberation Serif", serif' font-size="20" text-anchor="end">0.15</text>
<text x="444.90" y="133.90" font-family='"Liberation Serif", serif' font-size="20" text-anchor="end">0.20</text>
<text x="444.90" y="86.25" font-family='"Liberation Serif", serif' font-size="20" text-anchor="end">0.25</text>
<text x="444.90" y="38.60" font-family='"Liberation Serif", serif' font-size="20" text-anchor="end">0.30</text>
<path d="M90.45 440.20L90.45 449.40M90.45 248.80L90.45 258.00M146.70 440.20L146.70 449.40M146.70 248.80L146.70 258.00M202.95 440.20L202.95 449.40M202.95 248.80L202.95 258.00M259.20 440.20L259.20 449.40M259.20 248.80L259.20 258.00M315.45 440.20L315.45 449.40M315.45 248.80L315.45 258.00M371.70 440.20L371.70 449.40M371.70 248.80L371.70 258.00M118.57 440.20L118.57 444.80M118.57 248.80L118.57 253.40M174.82 440.20L174.82 444.80M174.82 248.80L174.82 253.40M231.07 440.20L231.07 444.80M231.07 248.80L231.07 253.40M287.32 440.20L287.32 444.80M287.32 248.80L287.32 253.40M343.57 440.20L343.57 444.80M343.57 248.80L343.57 253.40M64.30 440.20L73.50 440.20M362.50 440.20L371.70 440.20M64.30 363.02L73.50 363.02M362.50 363.02L371.70 363.02M64.30 285.85L73.50 285.85M362.50 285.85L371.70 285.85M68.90 401.61L73.50 401.61M367.10 401.61L371.70 401.61M68.90 324.43L73.50 324.43M367.10 324.43L371.70 324.43" stroke="#000" stroke-width="1.4" fill="none"/>
<rect x="73.50" y="248.80" width="298.20" height="191.40" stroke="#000" stroke-width="1.4" fill="none"/>
<text x="57.70" y="446.40" font-family='"Liberation Sans", sans-serif' font-size="20.5" text-anchor="end">0</text>
<text x="57.70" y="369.22" font-family='"Liberation Sans", sans-serif' font-size="20.5" text-anchor="end">1.25</text>
<text x="57.70" y="292.05" font-family='"Liberation Sans", sans-serif' font-size="20.5" text-anchor="end">2.5</text>
<path d="M460.90 440.00L460.90 449.20M460.90 248.90L460.90 258.10M508.50 440.00L508.50 449.20M508.50 248.90L508.50 258.10M556.10 440.00L556.10 449.20M556.10 248.90L556.10 258.10M603.70 440.00L603.70 449.20M603.70 248.90L603.70 258.10M651.30 440.00L651.30 449.20M651.30 248.90L651.30 258.10M698.90 440.00L698.90 449.20M698.90 248.90L698.90 258.10M746.50 440.00L746.50 449.20M746.50 248.90L746.50 258.10M484.70 440.00L484.70 444.60M484.70 248.90L484.70 253.50M532.30 440.00L532.30 444.60M532.30 248.90L532.30 253.50M579.90 440.00L579.90 444.60M579.90 248.90L579.90 253.50M627.50 440.00L627.50 444.60M627.50 248.90L627.50 253.50M675.10 440.00L675.10 444.60M675.10 248.90L675.10 253.50M722.70 440.00L722.70 444.60M722.70 248.90L722.70 253.50M451.70 440.00L460.90 440.00M737.30 440.00L746.50 440.00M451.70 385.40L460.90 385.40M737.30 385.40L746.50 385.40M451.70 317.15L460.90 317.15M737.30 317.15L746.50 317.15M451.70 248.90L460.90 248.90M737.30 248.90L746.50 248.90M456.30 412.70L460.90 412.70M741.90 412.70L746.50 412.70M456.30 351.27L460.90 351.27M741.90 351.27L746.50 351.27M456.30 283.02L460.90 283.02M741.90 283.02L746.50 283.02" stroke="#000" stroke-width="1.4" fill="none"/>
<rect x="460.90" y="248.90" width="285.60" height="191.10" stroke="#000" stroke-width="1.4" fill="none"/>
<text x="444.90" y="446.00" font-family='"Liberation Serif", serif' font-size="20" text-anchor="end">0.1</text>
<text x="444.90" y="391.40" font-family='"Liberation Serif", serif' font-size="20" text-anchor="end">0.5</text>
<text x="444.90" y="323.15" font-family='"Liberation Serif", serif' font-size="20" text-anchor="end">1</text>
<text x="444.90" y="254.90" font-family='"Liberation Serif", serif' font-size="20" text-anchor="end">1.5</text>
<path d="M90.45 656.00L90.45 665.20M90.45 465.00L90.45 474.20M146.70 656.00L146.70 665.20M146.70 465.00L146.70 474.20M202.95 656.00L202.95 665.20M202.95 465.00L202.95 474.20M259.20 656.00L259.20 665.20M259.20 465.00L259.20 474.20M315.45 656.00L315.45 665.20M315.45 465.00L315.45 474.20M371.70 656.00L371.70 665.20M371.70 465.00L371.70 474.20M118.57 656.00L118.57 660.60M118.57 465.00L118.57 469.60M174.82 656.00L174.82 660.60M174.82 465.00L174.82 469.60M231.07 656.00L231.07 660.60M231.07 465.00L231.07 469.60M287.32 656.00L287.32 660.60M287.32 465.00L287.32 469.60M343.57 656.00L343.57 660.60M343.57 465.00L343.57 469.60M64.30 656.00L73.50 656.00M362.50 656.00L371.70 656.00M64.30 598.12L73.50 598.12M362.50 598.12L371.70 598.12M64.30 540.24L73.50 540.24M362.50 540.24L371.70 540.24M64.30 482.36L73.50 482.36M362.50 482.36L371.70 482.36M68.90 627.06L73.50 627.06M367.10 627.06L371.70 627.06M68.90 569.18L73.50 569.18M367.10 569.18L371.70 569.18M68.90 511.30L73.50 511.30M367.10 511.30L371.70 511.30" stroke="#000" stroke-width="1.4" fill="none"/>
<rect x="73.50" y="465.00" width="298.20" height="191.00" stroke="#000" stroke-width="1.4" fill="none"/>
<text x="57.70" y="662.20" font-family='"Liberation Sans", sans-serif' font-size="20.5" text-anchor="end">0</text>
<text x="57.70" y="604.32" font-family='"Liberation Sans", sans-serif' font-size="20.5" text-anchor="end">1</text>
<text x="57.70" y="546.44" font-family='"Liberation Sans", sans-serif' font-size="20.5" text-anchor="end">2</text>
<text x="57.70" y="488.56" font-family='"Liberation Sans", sans-serif' font-size="20.5" text-anchor="end">3</text>
<path d="M460.90 655.80L460.90 665.00M460.90 465.00L460.90 474.20M508.50 655.80L508.50 665.00M508.50 465.00L508.50 474.20M556.10 655.80L556.10 665.00M556.10 465.00L556.10 474.20M603.70 655.80L603.70 665.00M603.70 465.00L603.70 474.20M651.30 655.80L651.30 665.00M651.30 465.00L651.30 474.20M698.90 655.80L698.90 665.00M698.90 465.00L698.90 474.20M746.50 655.80L746.50 665.00M746.50 465.00L746.50 474.20M484.70 655.80L484.70 660.40M484.70 465.00L484.70 469.60M532.30 655.80L532.30 660.40M532.30 465.00L532.30 469.60M579.90 655.80L579.90 660.40M579.90 465.00L579.90 469.60M627.50 655.80L627.50 660.40M627.50 465.00L627.50 469.60M675.10 655.80L675.10 660.40M675.10 465.00L675.10 469.60M722.70 655.80L722.70 660.40M722.70 465.00L722.70 469.60M451.70 655.80L460.90 655.80M737.30 655.80L746.50 655.80M451.70 601.29L460.90 601.29M737.30 601.29L746.50 601.29M451.70 533.14L460.90 533.14M737.30 533.14L746.50 533.14M451.70 465.00L460.90 465.00M737.30 465.00L746.50 465.00M456.30 628.54L460.90 628.54M741.90 628.54L746.50 628.54M456.30 567.21L460.90 567.21M741.90 567.21L746.50 567.21M456.30 499.07L460.90 499.07M741.90 499.07L746.50 499.07" stroke="#000" stroke-width="1.4" fill="none"/>
<rect x="460.90" y="465.00" width="285.60" height="190.80" stroke="#000" stroke-width="1.4" fill="none"/>
<text x="445.10" y="662.00" font-family='"Liberation Sans", sans-serif' font-size="20.5" text-anchor="end">0.1</text>
<text x="445.10" y="607.49" font-family='"Liberation Sans", sans-serif' font-size="20.5" text-anchor="end">0.5</text>
<text x="445.10" y="539.34" font-family='"Liberation Sans", sans-serif' font-size="20.5" text-anchor="end">1</text>
<text x="445.10" y="471.20" font-family='"Liberation Sans", sans-serif' font-size="20.5" text-anchor="end">1.5</text>
<path d="M90.45 872.20L90.45 881.40M90.45 681.00L90.45 690.20M146.70 872.20L146.70 881.40M146.70 681.00L146.70 690.20M202.95 872.20L202.95 881.40M202.95 681.00L202.95 690.20M259.20 872.20L259.20 881.40M259.20 681.00L259.20 690.20M315.45 872.20L315.45 881.40M315.45 681.00L315.45 690.20M371.70 872.20L371.70 881.40M371.70 681.00L371.70 690.20M118.57 872.20L118.57 876.80M118.57 681.00L118.57 685.60M174.82 872.20L174.82 876.80M174.82 681.00L174.82 685.60M231.07 872.20L231.07 876.80M231.07 681.00L231.07 685.60M287.32 872.20L287.32 876.80M287.32 681.00L287.32 685.60M343.57 872.20L343.57 876.80M343.57 681.00L343.57 685.60M64.30 872.20L73.50 872.20M362.50 872.20L371.70 872.20M64.30 808.47L73.50 808.47M362.50 808.47L371.70 808.47M64.30 744.73L73.50 744.73M362.50 744.73L371.70 744.73M64.30 681.00L73.50 681.00M362.50 681.00L371.70 681.00M68.90 840.33L73.50 840.33M367.10 840.33L371.70 840.33M68.90 776.60L73.50 776.60M367.10 776.60L371.70 776.60M68.90 712.87L73.50 712.87M367.10 712.87L371.70 712.87" stroke="#000" stroke-width="1.4" fill="none"/>
<rect x="73.50" y="681.00" width="298.20" height="191.20" stroke="#000" stroke-width="1.4" fill="none"/>
<text x="57.70" y="878.40" font-family='"Liberation Sans", sans-serif' font-size="20.5" text-anchor="end">0</text>
<text x="57.70" y="814.67" font-family='"Liberation Sans", sans-serif' font-size="20.5" text-anchor="end">1</text>
<text x="57.70" y="750.93" font-family='"Liberation Sans", sans-serif' font-size="20.5" text-anchor="end">2</text>
<text x="57.70" y="687.20" font-family='"Liberation Sans", sans-serif' font-size="20.5" text-anchor="end">3</text>
<text x="90.45" y="903.5" font-family='"Liberation Serif", serif' font-size="20" text-anchor="middle">-3</text>
<text x="146.70" y="903.5" font-family='"Liberation Serif", serif' font-size="20" text-anchor="middle">-2</text>
<text x="202.95" y="903.5" font-family='"Liberation Serif", serif' font-size="20" text-anchor="middle">-1</text>
<text x="259.20" y="903.5" font-family='"Liberation Serif", serif' font-size="20" text-anchor="middle">0</text>
<text x="315.45" y="903.5" font-family='"Liberation Serif", serif' font-size="20" text-anchor="middle">1</text>
<text x="371.70" y="903.5" font-family='"Liberation Serif", serif' font-size="20" text-anchor="middle">2</text>
<path d="M460.90 872.10L460.90 881.30M460.90 680.90L460.90 690.10M508.50 872.10L508.50 881.30M508.50 680.90L508.50 690.10M556.10 872.10L556.10 881.30M556.10 680.90L556.10 690.10M603.70 872.10L603.70 881.30M603.70 680.90L603.70 690.10M651.30 872.10L651.30 881.30M651.30 680.90L651.30 690.10M698.90 872.10L698.90 881.30M698.90 680.90L698.90 690.10M746.50 872.10L746.50 881.30M746.50 680.90L746.50 690.10M484.70 872.10L484.70 876.70M484.70 680.90L484.70 685.50M532.30 872.10L532.30 876.70M532.30 680.90L532.30 685.50M579.90 872.10L579.90 876.70M579.90 680.90L579.90 685.50M627.50 872.10L627.50 876.70M627.50 680.90L627.50 685.50M675.10 872.10L675.10 876.70M675.10 680.90L675.10 685.50M722.70 872.10L722.70 876.70M722.70 680.90L722.70 685.50M451.70 872.10L460.90 872.10M737.30 872.10L746.50 872.10M451.70 817.47L460.90 817.47M737.30 817.47L746.50 817.47M451.70 749.19L460.90 749.19M737.30 749.19L746.50 749.19M451.70 680.90L460.90 680.90M737.30 680.90L746.50 680.90M456.30 844.79L460.90 844.79M741.90 844.79L746.50 844.79M456.30 783.33L460.90 783.33M741.90 783.33L746.50 783.33M456.30 715.04L460.90 715.04M741.90 715.04L746.50 715.04" stroke="#000" stroke-width="1.4" fill="none"/>
<rect x="460.90" y="680.90" width="285.60" height="191.20" stroke="#000" stroke-width="1.4" fill="none"/>
<text x="444.90" y="878.10" font-family='"Liberation Serif", serif' font-size="20" text-anchor="end">0.1</text>
<text x="444.90" y="823.47" font-family='"Liberation Serif", serif' font-size="20" text-anchor="end">0.5</text>
<text x="444.90" y="755.19" font-family='"Liberation Serif", serif' font-size="20" text-anchor="end">1</text>
<text x="444.90" y="686.90" font-family='"Liberation Serif", serif' font-size="20" text-anchor="end">1.5</text>
<text x="460.90" y="903.5" font-family='"Liberation Serif", serif' font-size="20" text-anchor="middle">-3</text>
<text x="508.50" y="903.5" font-family='"Liberation Serif", serif' font-size="20" text-anchor="middle">-2</text>
<text x="556.10" y="903.5" font-family='"Liberation Serif", serif' font-size="20" text-anchor="middle">-1</text>
<text x="603.70" y="903.5" font-family='"Liberation Serif", serif' font-size="20" text-anchor="middle">0</text>
<text x="651.30" y="903.5" font-family='"Liberation Serif", serif' font-size="20" text-anchor="middle">1</text>
<text x="698.90" y="903.5" font-family='"Liberation Serif", serif' font-size="20" text-anchor="middle">2</text>
<text x="746.50" y="903.5" font-family='"Liberation Serif", serif' font-size="20" text-anchor="middle">3</text>
<clipPath id="cpa"><rect x="73.50" y="31.50" width="298.20" height="192.90"/></clipPath>
<g clip-path="url(#cpa)" fill="none" stroke-width="2.0" stroke-linejoin="round">
<path d="M72.5 223.8 73.5 223.8 74.5 223.8 75.5 223.8 76.5 223.8 77.5 223.8 78.5 223.8 79.5 223.8 80.5 223.8 81.5 223.8 82.5 223.8 83.5 223.8 84.5 223.8 85.5 223.8 86.5 223.8 87.5 223.8 88.5 223.8 89.5 223.8 90.5 223.8 91.5 223.8 92.5 223.8 93.5 223.8 94.5 223.8 95.5 223.8 96.5 223.8 97.5 223.8 98.5 223.8 99.5 223.8 100.5 223.8 101.5 223.8 102.5 223.8 103.5 223.8 104.5 223.8 105.5 223.8 106.5 223.8 107.5 223.8 108.5 223.8 109.5 223.8 110.5 223.8 111.5 223.8 112.5 223.8 113.5 223.8 114.5 223.8 115.5 223.8 116.5 223.8 117.5 223.8 118.5 223.8 119.5 223.8 120.5 223.8 121.5 223.8 122.5 223.8 123.5 223.8 124.5 223.8 125.5 223.8 126.5 223.8 127.5 223.8 128.5 223.8 129.5 223.8 130.5 223.8 131.5 223.8 132.5 223.8 133.5 223.8 134.5 223.8 135.5 223.8 136.5 223.8 137.5 223.8 138.5 223.8 139.5 223.8 140.5 223.8 141.5 223.8 142.5 223.8 143.5 223.8 144.5 223.8 145.5 223.7 146.5 223.7 147.5 223.7 148.5 223.7 149.5 223.7 150.5 223.7 151.5 223.7 152.5 223.7 153.5 223.7 154.5 223.7 155.5 223.7 156.5 223.7 157.5 223.7 158.5 223.7 159.5 223.7 160.5 223.7 161.5 223.7 162.5 223.7 163.5 223.7 164.5 223.7 165.5 223.7 166.5 223.7 167.5 223.7 168.5 223.7 169.5 223.7 170.5 223.7 171.5 223.7 172.5 223.7 173.5 223.7 174.5 223.7 175.5 223.7 176.5 223.7 177.5 223.7 178.5 223.7 179.5 223.7 180.5 223.7 181.5 223.7 182.5 223.7 183.5 223.6 184.5 223.6 185.5 223.6 186.5 223.6 187.5 223.6 188.5 223.6 189.5 223.6 190.5 223.6 191.5 223.6 192.5 223.6 193.5 223.6 194.5 223.6 195.5 223.6 196.5 223.6 197.5 223.5 198.5 223.5 199.5 223.4 200.5 223.3 201.5 223.3 202.5 223.2 203.5 223.1 204.5 223.0 205.5 222.8 206.5 222.7 207.5 222.6 208.5 222.5 209.5 222.4 210.5 222.2 211.5 222.1 212.5 221.9 213.5 221.8 214.5 221.6 215.5 221.4 216.5 221.2 217.5 220.9 218.5 220.7 219.5 220.4 220.5 220.0 221.5 219.6 222.5 219.2 223.5 218.6 224.5 217.9 225.5 217.1 226.5 216.3 227.5 215.4 228.5 214.4 229.5 213.3 230.5 212.0 231.5 210.4 232.5 208.6 233.5 206.6 234.5 204.6 235.5 202.5 236.5 200.3 237.5 198.0 238.5 195.5 239.5 192.9 240.5 190.1 241.5 187.2 242.5 184.1 243.5 180.8 244.5 177.4 245.5 173.8 246.5 170.0 247.5 166.0 248.5 162.0 249.5 157.9 250.5 153.9 251.5 150.0 252.5 146.0 253.5 141.8 254.5 137.5 255.5 133.0 256.5 128.5 257.5 124.0 258.5 119.5 259.5 114.9 260.5 110.4 261.5 106.1 262.5 101.8 263.5 97.8 264.5 93.8 265.5 90.0 266.5 86.4 267.5 83.0 268.5 79.7 269.5 76.6 270.5 73.7 271.5 71.0 272.5 68.4 273.5 66.0 274.5 63.7 275.5 61.5 276.5 59.6 277.5 58.1 278.5 56.9 279.5 56.0 280.5 55.3 281.5 54.9 282.5 54.6 283.5 54.4 284.5 54.3 285.5 54.3 286.5 54.4 287.5 54.6 288.5 54.9 289.5 55.4 290.5 56.2 291.5 57.1 292.5 58.4 293.5 60.0 294.5 62.0 295.5 64.2 296.5 66.5 297.5 68.9 298.5 71.5 299.5 74.2 300.5 77.2 301.5 80.3 302.5 83.6 303.5 87.1 304.5 90.8 305.5 94.6 306.5 98.6 307.5 102.7 308.5 106.9 309.5 111.3 310.5 115.8 311.5 120.4 312.5 124.9 313.5 129.4 314.5 133.9 315.5 138.3 316.5 142.6 317.5 146.8 318.5 150.8 319.5 154.7 320.5 158.7 321.5 162.8 322.5 166.9 323.5 170.8 324.5 174.5 325.5 178.1 326.5 181.5 327.5 184.7 328.5 187.8 329.5 190.7 330.5 193.4 331.5 196.0 332.5 198.5 333.5 200.7 334.5 202.9 335.5 205.0 336.5 207.0 337.5 209.0 338.5 210.7 339.5 212.2 340.5 213.5 341.5 214.6 342.5 215.6 343.5 216.5 344.5 217.3 345.5 218.0 346.5 218.7 347.5 219.3 348.5 219.7 349.5 220.1 350.5 220.4 351.5 220.7 352.5 221.0 353.5 221.2 354.5 221.4 355.5 221.6 356.5 221.8 357.5 222.0 358.5 222.1 359.5 222.3 360.5 222.4 361.5 222.5 362.5 222.6 363.5 222.8 364.5 222.9 365.5 223.0 366.5 223.1 367.5 223.2 368.5 223.3 369.5 223.4 370.5 223.4 371.5 223.5 372.5 223.5" stroke="#00ff00"/>
<path d="M72.5 223.8 73.5 223.8 74.5 223.8 75.5 223.8 76.5 223.8 77.5 223.8 78.5 223.8 79.5 223.8 80.5 223.8 81.5 223.8 82.5 223.8 83.5 223.8 84.5 223.8 85.5 223.8 86.5 223.8 87.5 223.8 88.5 223.8 89.5 223.8 90.5 223.8 91.5 223.8 92.5 223.8 93.5 223.8 94.5 223.8 95.5 223.8 96.5 223.8 97.5 223.8 98.5 223.8 99.5 223.8 100.5 223.8 101.5 223.8 102.5 223.8 103.5 223.8 104.5 223.8 105.5 223.8 106.5 223.8 107.5 223.8 108.5 223.8 109.5 223.8 110.5 223.8 111.5 223.8 112.5 223.8 113.5 223.8 114.5 223.7 115.5 223.7 116.5 223.7 117.5 223.7 118.5 223.7 119.5 223.7 120.5 223.7 121.5 223.7 122.5 223.7 123.5 223.7 124.5 223.7 125.5 223.7 126.5 223.7 127.5 223.7 128.5 223.7 129.5 223.7 130.5 223.7 131.5 223.7 132.5 223.7 133.5 223.7 134.5 223.7 135.5 223.7 136.5 223.7 137.5 223.7 138.5 223.7 139.5 223.7 140.5 223.6 141.5 223.6 142.5 223.6 143.5 223.6 144.5 223.6 145.5 223.6 146.5 223.6 147.5 223.6 148.5 223.6 149.5 223.6 150.5 223.6 151.5 223.6 152.5 223.6 153.5 223.6 154.5 223.5 155.5 223.5 156.5 223.5 157.5 223.5 158.5 223.4 159.5 223.4 160.5 223.4 161.5 223.3 162.5 223.3 163.5 223.2 164.5 223.2 165.5 223.2 166.5 223.1 167.5 223.1 168.5 223.0 169.5 223.0 170.5 222.9 171.5 222.9 172.5 222.8 173.5 222.8 174.5 222.7 175.5 222.7 176.5 222.7 177.5 222.6 178.5 222.6 179.5 222.5 180.5 222.5 181.5 222.4 182.5 222.4 183.5 222.4 184.5 222.3 185.5 222.3 186.5 222.3 187.5 222.2 188.5 222.2 189.5 222.1 190.5 222.1 191.5 222.0 192.5 222.0 193.5 221.9 194.5 221.8 195.5 221.7 196.5 221.6 197.5 221.5 198.5 221.3 199.5 221.1 200.5 220.8 201.5 220.6 202.5 220.3 203.5 220.0 204.5 219.7 205.5 219.4 206.5 219.0 207.5 218.7 208.5 218.3 209.5 217.9 210.5 217.4 211.5 216.9 212.5 216.4 213.5 215.8 214.5 215.2 215.5 214.6 216.5 214.0 217.5 213.3 218.5 212.6 219.5 211.9 220.5 211.1 221.5 210.3 222.5 209.5 223.5 208.6 224.5 207.6 225.5 206.6 226.5 205.5 227.5 204.4 228.5 203.3 229.5 202.2 230.5 201.0 231.5 199.8 232.5 198.6 233.5 197.3 234.5 195.9 235.5 194.4 236.5 192.8 237.5 191.1 238.5 189.1 239.5 186.9 240.5 184.5 241.5 182.0 242.5 179.2 243.5 176.2 244.5 173.0 245.5 169.7 246.5 166.3 247.5 162.9 248.5 159.5 249.5 156.0 250.5 152.4 251.5 148.8 252.5 145.1 253.5 141.1 254.5 136.8 255.5 132.3 256.5 127.8 257.5 123.4 258.5 119.1 259.5 114.9 260.5 111.0 261.5 107.3 262.5 103.7 263.5 99.9 264.5 95.8 265.5 91.5 266.5 87.3 267.5 83.3 268.5 79.4 269.5 75.8 270.5 72.4 271.5 69.5 272.5 66.9 273.5 64.6 274.5 62.4 275.5 60.2 276.5 58.0 277.5 56.1 278.5 54.4 279.5 53.1 280.5 52.0 281.5 51.3 282.5 50.8 283.5 50.5 284.5 50.4 285.5 50.4 286.5 50.6 287.5 50.9 288.5 51.4 289.5 52.2 290.5 53.3 291.5 54.7 292.5 56.4 293.5 58.5 294.5 60.6 295.5 62.8 296.5 65.0 297.5 67.4 298.5 70.1 299.5 73.1 300.5 76.5 301.5 80.2 302.5 84.1 303.5 88.1 304.5 92.4 305.5 96.6 306.5 100.7 307.5 104.4 308.5 108.1 309.5 111.8 310.5 115.7 311.5 119.9 312.5 124.3 313.5 128.7 314.5 133.2 315.5 137.6 316.5 141.9 317.5 145.8 318.5 149.6 319.5 153.2 320.5 156.7 321.5 160.2 322.5 163.6 323.5 167.0 324.5 170.3 325.5 173.6 326.5 176.8 327.5 179.8 328.5 182.5 329.5 185.0 330.5 187.3 331.5 189.5 332.5 191.4 333.5 193.2 334.5 194.7 335.5 196.2 336.5 197.5 337.5 198.8 338.5 200.0 339.5 201.2 340.5 202.4 341.5 203.5 342.5 204.7 343.5 205.7 344.5 206.8 345.5 207.8 346.5 208.7 347.5 209.6 348.5 210.5 349.5 211.3 350.5 212.0 351.5 212.7 352.5 213.4 353.5 214.1 354.5 214.7 355.5 215.4 356.5 216.0 357.5 216.5 358.5 217.0 359.5 217.5 360.5 218.0 361.5 218.4 362.5 218.7 363.5 219.1 364.5 219.4 365.5 219.7 366.5 220.1 367.5 220.4 368.5 220.6 369.5 220.9 370.5 221.1 371.5 221.3 372.5 221.5" stroke="#0000ff"/>
<path d="M72.5 223.8 73.5 223.8 74.5 223.8 75.5 223.8 76.5 223.8 77.5 223.8 78.5 223.8 79.5 223.8 80.5 223.8 81.5 223.8 82.5 223.8 83.5 223.8 84.5 223.8 85.5 223.8 86.5 223.8 87.5 223.8 88.5 223.8 89.5 223.8 90.5 223.8 91.5 223.8 92.5 223.8 93.5 223.8 94.5 223.8 95.5 223.8 96.5 223.8 97.5 223.8 98.5 223.8 99.5 223.8 100.5 223.8 101.5 223.8 102.5 223.8 103.5 223.8 104.5 223.8 105.5 223.8 106.5 223.8 107.5 223.8 108.5 223.8 109.5 223.8 110.5 223.8 111.5 223.8 112.5 223.8 113.5 223.8 114.5 223.7 115.5 223.7 116.5 223.7 117.5 223.7 118.5 223.7 119.5 223.7 120.5 223.7 121.5 223.7 122.5 223.7 123.5 223.7 124.5 223.7 125.5 223.7 126.5 223.7 127.5 223.7 128.5 223.7 129.5 223.7 130.5 223.7 131.5 223.7 132.5 223.7 133.5 223.7 134.5 223.7 135.5 223.7 136.5 223.7 137.5 223.7 138.5 223.7 139.5 223.7 140.5 223.7 141.5 223.6 142.5 223.6 143.5 223.6 144.5 223.6 145.5 223.6 146.5 223.6 147.5 223.6 148.5 223.6 149.5 223.6 150.5 223.6 151.5 223.6 152.5 223.6 153.5 223.6 154.5 223.5 155.5 223.5 156.5 223.5 157.5 223.4 158.5 223.4 159.5 223.4 160.5 223.3 161.5 223.3 162.5 223.2 163.5 223.2 164.5 223.1 165.5 223.1 166.5 223.0 167.5 223.0 168.5 222.9 169.5 222.8 170.5 222.8 171.5 222.7 172.5 222.7 173.5 222.6 174.5 222.5 175.5 222.5 176.5 222.4 177.5 222.3 178.5 222.3 179.5 222.2 180.5 222.2 181.5 222.1 182.5 222.1 183.5 222.0 184.5 221.9 185.5 221.9 186.5 221.8 187.5 221.8 188.5 221.7 189.5 221.6 190.5 221.5 191.5 221.5 192.5 221.4 193.5 221.3 194.5 221.2 195.5 221.0 196.5 220.9 197.5 220.7 198.5 220.5 199.5 220.2 200.5 220.0 201.5 219.7 202.5 219.4 203.5 219.0 204.5 218.7 205.5 218.3 206.5 218.0 207.5 217.6 208.5 217.2 209.5 216.7 210.5 216.3 211.5 215.8 212.5 215.2 213.5 214.6 214.5 214.0 215.5 213.4 216.5 212.7 217.5 212.0 218.5 211.3 219.5 210.6 220.5 209.8 221.5 209.0 222.5 208.1 223.5 207.1 224.5 206.1 225.5 205.0 226.5 203.9 227.5 202.8 228.5 201.6 229.5 200.3 230.5 199.1 231.5 197.8 232.5 196.4 233.5 195.0 234.5 193.5 235.5 191.9 236.5 190.3 237.5 188.5 238.5 186.7 239.5 184.7 240.5 182.7 241.5 180.4 242.5 177.8 243.5 175.0 244.5 171.9 245.5 168.7 246.5 165.5 247.5 162.2 248.5 158.8 249.5 155.4 250.5 151.9 251.5 148.2 252.5 144.5 253.5 140.5 254.5 136.2 255.5 131.8 256.5 127.4 257.5 123.0 258.5 118.6 259.5 114.5 260.5 110.6 261.5 107.0 262.5 103.3 263.5 99.5 264.5 95.3 265.5 90.9 266.5 86.5 267.5 82.4 268.5 78.4 269.5 74.7 270.5 71.2 271.5 68.1 272.5 65.4 273.5 62.9 274.5 60.6 275.5 58.4 276.5 56.3 277.5 54.3 278.5 52.6 279.5 51.1 280.5 49.9 281.5 49.1 282.5 48.6 283.5 48.2 284.5 48.0 285.5 48.0 286.5 48.2 287.5 48.6 288.5 49.2 289.5 50.2 290.5 51.4 291.5 52.9 292.5 54.7 293.5 56.7 294.5 58.8 295.5 61.1 296.5 63.4 297.5 65.9 298.5 68.7 299.5 71.9 300.5 75.4 301.5 79.2 302.5 83.2 303.5 87.4 304.5 91.8 305.5 96.2 306.5 100.3 307.5 104.1 308.5 107.7 309.5 111.4 310.5 115.3 311.5 119.5 312.5 123.8 313.5 128.2 314.5 132.7 315.5 137.1 316.5 141.3 317.5 145.2 318.5 149.0 319.5 152.6 320.5 156.1 321.5 159.5 322.5 162.9 323.5 166.2 324.5 169.4 325.5 172.5 326.5 175.6 327.5 178.4 328.5 180.9 329.5 183.1 330.5 185.1 331.5 187.1 332.5 188.9 333.5 190.6 334.5 192.2 335.5 193.8 336.5 195.3 337.5 196.7 338.5 198.1 339.5 199.3 340.5 200.6 341.5 201.8 342.5 203.0 343.5 204.1 344.5 205.3 345.5 206.3 346.5 207.3 347.5 208.3 348.5 209.1 349.5 210.0 350.5 210.7 351.5 211.5 352.5 212.2 353.5 212.9 354.5 213.5 355.5 214.2 356.5 214.8 357.5 215.3 358.5 215.9 359.5 216.4 360.5 216.8 361.5 217.3 362.5 217.6 363.5 218.0 364.5 218.4 365.5 218.8 366.5 219.1 367.5 219.4 368.5 219.7 369.5 220.0 370.5 220.3 371.5 220.5 372.5 220.7" stroke="#ff00ff"/>
</g>
<text x="9.1" y="17.0" font-family='"Liberation Sans", sans-serif' font-size="20.5">(a)</text>
<text x="390.9" y="14.5" font-family='"Liberation Sans", sans-serif' font-size="20.5">(b)</text>
<text x="12.0" y="256.7" font-family='"Liberation Sans", sans-serif' font-size="20.5">(c)</text>
<text x="390.9" y="256.7" font-family='"Liberation Sans", sans-serif' font-size="20.5">(d)</text>
<text x="12.0" y="472.7" font-family='"Liberation Sans", sans-serif' font-size="20.5">(e)</text>
<text x="390.9" y="472.6" font-family='"Liberation Sans", sans-serif' font-size="20.5">(f)</text>
<text x="14.7" y="688.9" font-family='"Liberation Sans", sans-serif' font-size="20.5">(g)</text>
<text x="390.9" y="688.7" font-family='"Liberation Sans", sans-serif' font-size="20.5">(h)</text>
<text x="222.6" y="924.8" font-family='"Liberation Serif", serif' font-size="20" text-anchor="middle">Time (ns)</text>
<text x="604.5" y="924.6" font-family='"Liberation Serif", serif' font-size="20" text-anchor="middle">Time (ns)</text>
<text transform="translate(14.3 379.1) rotate(-90)" font-family='"Liberation Serif", serif' font-size="20.4" text-anchor="middle">Pulse Power (W)</text>
<rect x="79.7" y="47.3" width="87.00" height="156.70" fill="#fff" stroke="#000" stroke-width="1.4"/>
<line x1="81.9" y1="89.1" x2="129.1" y2="89.1" stroke="#000000" stroke-width="2.0"/>
<text x="133.2" y="96.4" font-family='"Liberation Serif", serif' font-size="20">0</text>
<line x1="81.9" y1="114.2" x2="129.1" y2="114.2" stroke="#ff0000" stroke-width="2.0"/>
<text x="133.2" y="121.5" font-family='"Liberation Serif", serif' font-size="20">20</text>
<line x1="81.9" y1="139.6" x2="129.1" y2="139.6" stroke="#00ff00" stroke-width="2.0"/>
<text x="133.2" y="146.9" font-family='"Liberation Serif", serif' font-size="20">60</text>
<line x1="81.9" y1="164.9" x2="129.1" y2="164.9" stroke="#0000ff" stroke-width="2.0"/>
<text x="133.2" y="172.2" font-family='"Liberation Serif", serif' font-size="20">80</text>
<line x1="81.9" y1="190.0" x2="129.1" y2="190.0" stroke="#ff00ff" stroke-width="2.0"/>
<text x="133.2" y="197.3" font-family='"Liberation Serif", serif' font-size="20">100</text>
<rect x="82.3" y="275.1" width="107.60" height="149.60" fill="#fff" stroke="#000" stroke-width="1.4"/>
<line x1="82.3" y1="312.2" x2="129.0" y2="312.2" stroke="#000000" stroke-width="2.0"/>
<text x="133.3" y="319.5" font-family='"Liberation Serif", serif' font-size="20">0</text>
<line x1="82.3" y1="337.3" x2="129.0" y2="337.3" stroke="#ff0000" stroke-width="2.0"/>
<text x="133.3" y="344.6" font-family='"Liberation Serif", serif' font-size="20">666.7</text>
<line x1="82.3" y1="362.3" x2="129.0" y2="362.3" stroke="#00ff00" stroke-width="2.0"/>
<text x="133.3" y="369.6" font-family='"Liberation Serif", serif' font-size="20">2000</text>
<line x1="82.3" y1="387.6" x2="129.0" y2="387.6" stroke="#0000ff" stroke-width="2.0"/>
<text x="133.3" y="394.9" font-family='"Liberation Serif", serif' font-size="20">2666.7</text>
<line x1="82.3" y1="412.9" x2="129.0" y2="412.9" stroke="#ff00ff" stroke-width="2.0"/>
<text x="133.3" y="420.2" font-family='"Liberation Serif", serif' font-size="20">3333.4</text>
<text x="123.8" y="293.7" font-family='"Liberation Serif", serif' font-size="20">A</text>
<rect x="88.0" y="484.3" width="112.60" height="150.00" fill="#fff" stroke="#000" stroke-width="1.4"/>
<line x1="88.0" y1="520.8" x2="134.8" y2="520.8" stroke="#000000" stroke-width="2.0"/>
<text x="139.3" y="528.1" font-family='"Liberation Serif", serif' font-size="20">0</text>
<line x1="88.0" y1="546.4" x2="134.8" y2="546.4" stroke="#ff0000" stroke-width="2.0"/>
<text x="139.3" y="553.7" font-family='"Liberation Serif", serif' font-size="20">22223</text>
<line x1="88.0" y1="571.8" x2="134.8" y2="571.8" stroke="#00ff00" stroke-width="2.0"/>
<text x="139.3" y="579.1" font-family='"Liberation Serif", serif' font-size="20">66667</text>
<line x1="88.0" y1="597.4" x2="134.8" y2="597.4" stroke="#0000ff" stroke-width="2.0"/>
<text transform="translate(139.3 604.7) scale(1.01 1)" font-family='"Liberation Serif", serif' font-size="20">88889</text>
<line x1="88.0" y1="622.7" x2="134.8" y2="622.7" stroke="#ff00ff" stroke-width="2.0"/>
<text transform="translate(139.3 630.0) scale(1.073 1)" font-family='"Liberation Serif", serif' font-size="20">111112</text>
<text x="119.4" y="502.7" font-family='"Liberation Serif", serif' font-size="20">A</text>
<rect x="76.8" y="691.8" width="153.90" height="149.40" fill="#fff" stroke="#000" stroke-width="1.4"/>
<line x1="76.8" y1="728.8" x2="123.3" y2="728.8" stroke="#000000" stroke-width="2.0"/>
<text transform="translate(128.1 736.1) scale(1.028 1)" font-family='"Liberation Serif", serif' font-size="20">0, 0</text>
<line x1="76.8" y1="753.7" x2="123.3" y2="753.7" stroke="#ff0000" stroke-width="2.0"/>
<text transform="translate(128.1 761.0) scale(1.02 1)" font-family='"Liberation Serif", serif' font-size="20">22223, 20</text>
<line x1="76.8" y1="779.0" x2="123.3" y2="779.0" stroke="#00ff00" stroke-width="2.0"/>
<text transform="translate(128.1 786.3) scale(1.02 1)" font-family='"Liberation Serif", serif' font-size="20">66667, 60</text>
<line x1="76.8" y1="804.4" x2="123.3" y2="804.4" stroke="#0000ff" stroke-width="2.0"/>
<text transform="translate(128.1 811.7) scale(1.02 1)" font-family='"Liberation Serif", serif' font-size="20">88889, 80</text>
<line x1="76.8" y1="829.6" x2="123.3" y2="829.6" stroke="#ff00ff" stroke-width="2.0"/>
<text transform="translate(128.1 836.9) scale(1.043 1)" font-family='"Liberation Serif", serif' font-size="20">111112, 100</text>
<text x="134.0" y="709.5" font-family='"Liberation Serif", serif' font-size="20">A, B</text>
<text x="87.6" y="70.8" font-family='"Liberation Serif", serif' font-size="20">Δβ (</text>
<text transform="translate(121.2 70.8) scale(1.15 1)" font-family='"Liberation Serif", serif' font-size="20">m</text>
<text x="140.3" y="63.3" font-family='"Liberation Serif", serif' font-size="13">-1</text>
<text x="150.0" y="70.8" font-family='"Liberation Serif", serif' font-size="20">)</text>
</svg>
</body></html>
